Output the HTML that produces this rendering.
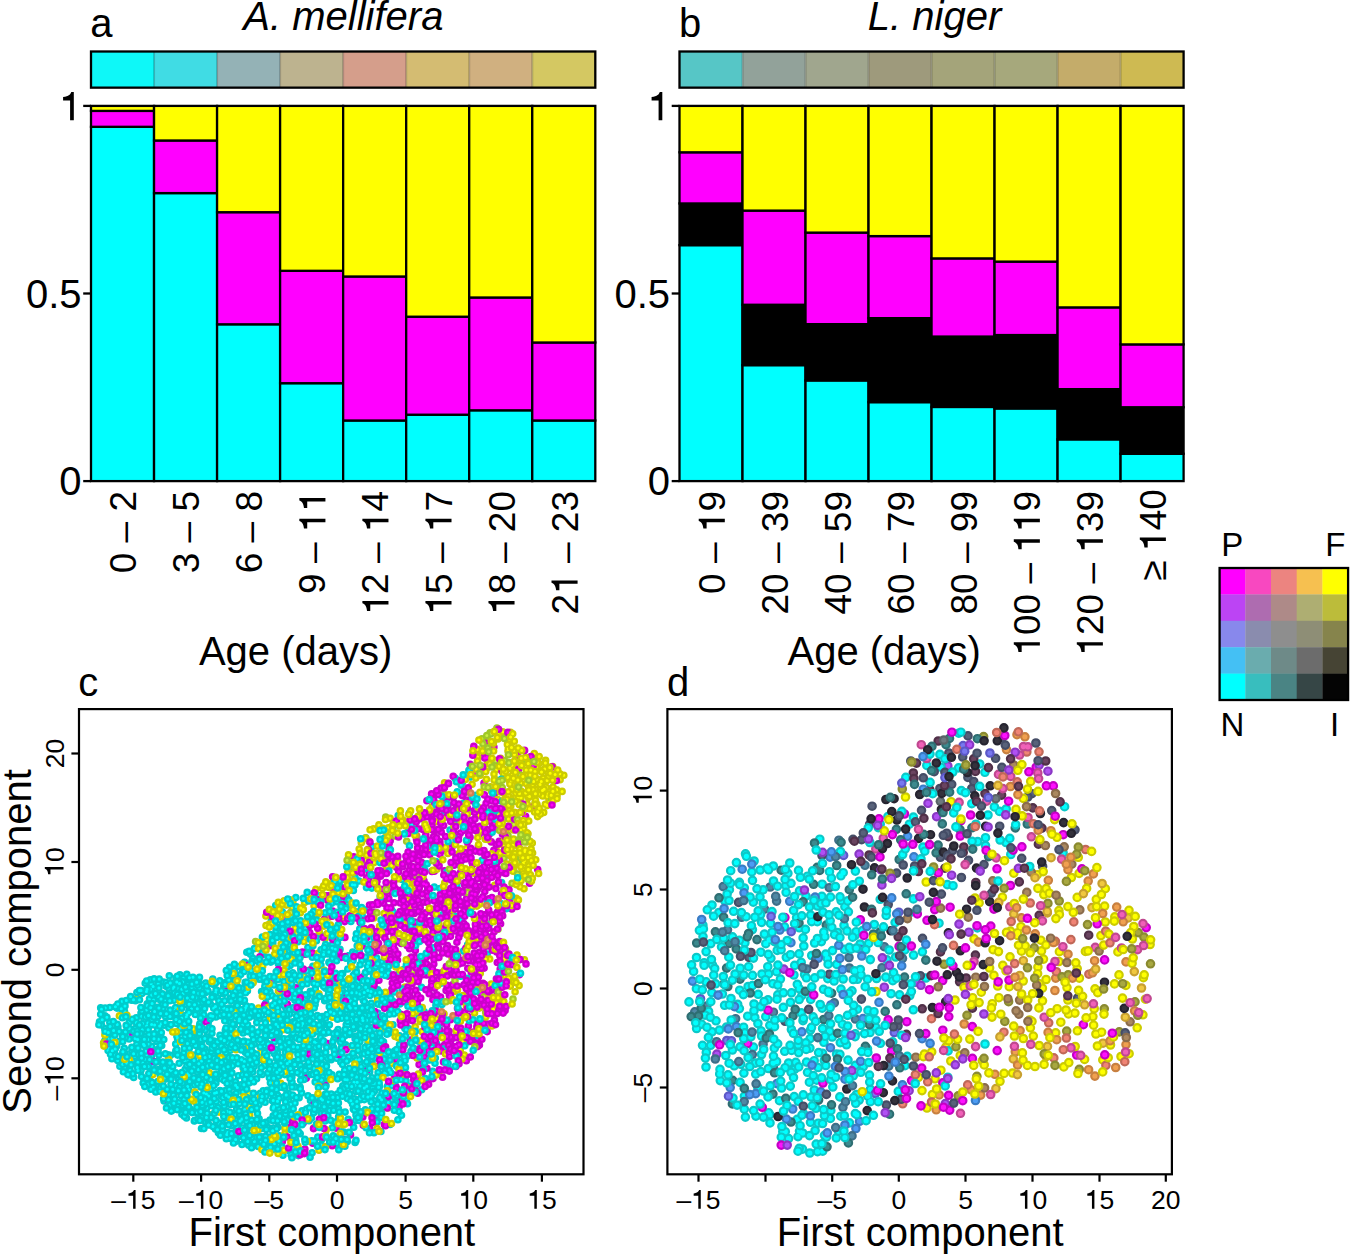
<!DOCTYPE html>
<html><head><meta charset="utf-8"><style>
html,body{margin:0;padding:0;background:#fff;}
svg{display:block;}
text{font-family:'Liberation Sans',sans-serif;fill:#000;}
</style></head><body>
<svg width="1350" height="1256" viewBox="0 0 1350 1256">
<rect x="91.00" y="51.5" width="63.04" height="36.15" fill="#0ef8f8"/>
<rect x="154.04" y="51.5" width="63.04" height="36.15" fill="#40dce4"/>
<rect x="217.07" y="51.5" width="63.04" height="36.15" fill="#94b2b6"/>
<rect x="280.11" y="51.5" width="63.04" height="36.15" fill="#bdb38f"/>
<rect x="343.15" y="51.5" width="63.04" height="36.15" fill="#d59e8b"/>
<rect x="406.19" y="51.5" width="63.04" height="36.15" fill="#d4bc72"/>
<rect x="469.22" y="51.5" width="63.04" height="36.15" fill="#d0b080"/>
<rect x="532.26" y="51.5" width="63.04" height="36.15" fill="#d4c862"/>
<line x1="154.04" y1="51.5" x2="154.04" y2="87.65" stroke="rgba(0,0,0,0.2)" stroke-width="2"/>
<line x1="217.07" y1="51.5" x2="217.07" y2="87.65" stroke="rgba(0,0,0,0.2)" stroke-width="2"/>
<line x1="280.11" y1="51.5" x2="280.11" y2="87.65" stroke="rgba(0,0,0,0.2)" stroke-width="2"/>
<line x1="343.15" y1="51.5" x2="343.15" y2="87.65" stroke="rgba(0,0,0,0.2)" stroke-width="2"/>
<line x1="406.19" y1="51.5" x2="406.19" y2="87.65" stroke="rgba(0,0,0,0.2)" stroke-width="2"/>
<line x1="469.22" y1="51.5" x2="469.22" y2="87.65" stroke="rgba(0,0,0,0.2)" stroke-width="2"/>
<line x1="532.26" y1="51.5" x2="532.26" y2="87.65" stroke="rgba(0,0,0,0.2)" stroke-width="2"/>
<rect x="91.0" y="51.5" width="504.30" height="36.15" fill="none" stroke="#000" stroke-width="2.3"/>
<rect x="91.00" y="126.80" width="63.04" height="354.30" fill="#00ffff" stroke="#000" stroke-width="2.3"/>
<rect x="91.00" y="110.90" width="63.04" height="15.90" fill="#ff00ff" stroke="#000" stroke-width="2.3"/>
<rect x="91.00" y="105.90" width="63.04" height="5.00" fill="#ffff00" stroke="#000" stroke-width="2.3"/>
<rect x="154.04" y="193.10" width="63.04" height="288.00" fill="#00ffff" stroke="#000" stroke-width="2.3"/>
<rect x="154.04" y="140.50" width="63.04" height="52.60" fill="#ff00ff" stroke="#000" stroke-width="2.3"/>
<rect x="154.04" y="105.90" width="63.04" height="34.60" fill="#ffff00" stroke="#000" stroke-width="2.3"/>
<rect x="217.07" y="324.30" width="63.04" height="156.80" fill="#00ffff" stroke="#000" stroke-width="2.3"/>
<rect x="217.07" y="212.20" width="63.04" height="112.10" fill="#ff00ff" stroke="#000" stroke-width="2.3"/>
<rect x="217.07" y="105.90" width="63.04" height="106.30" fill="#ffff00" stroke="#000" stroke-width="2.3"/>
<rect x="280.11" y="383.20" width="63.04" height="97.90" fill="#00ffff" stroke="#000" stroke-width="2.3"/>
<rect x="280.11" y="270.80" width="63.04" height="112.40" fill="#ff00ff" stroke="#000" stroke-width="2.3"/>
<rect x="280.11" y="105.90" width="63.04" height="164.90" fill="#ffff00" stroke="#000" stroke-width="2.3"/>
<rect x="343.15" y="420.50" width="63.04" height="60.60" fill="#00ffff" stroke="#000" stroke-width="2.3"/>
<rect x="343.15" y="276.50" width="63.04" height="144.00" fill="#ff00ff" stroke="#000" stroke-width="2.3"/>
<rect x="343.15" y="105.90" width="63.04" height="170.60" fill="#ffff00" stroke="#000" stroke-width="2.3"/>
<rect x="406.19" y="414.70" width="63.04" height="66.40" fill="#00ffff" stroke="#000" stroke-width="2.3"/>
<rect x="406.19" y="316.70" width="63.04" height="98.00" fill="#ff00ff" stroke="#000" stroke-width="2.3"/>
<rect x="406.19" y="105.90" width="63.04" height="210.80" fill="#ffff00" stroke="#000" stroke-width="2.3"/>
<rect x="469.22" y="410.30" width="63.04" height="70.80" fill="#00ffff" stroke="#000" stroke-width="2.3"/>
<rect x="469.22" y="297.50" width="63.04" height="112.80" fill="#ff00ff" stroke="#000" stroke-width="2.3"/>
<rect x="469.22" y="105.90" width="63.04" height="191.60" fill="#ffff00" stroke="#000" stroke-width="2.3"/>
<rect x="532.26" y="420.50" width="63.04" height="60.60" fill="#00ffff" stroke="#000" stroke-width="2.3"/>
<rect x="532.26" y="342.50" width="63.04" height="78.00" fill="#ff00ff" stroke="#000" stroke-width="2.3"/>
<rect x="532.26" y="105.90" width="63.04" height="236.60" fill="#ffff00" stroke="#000" stroke-width="2.3"/>
<line x1="83.20" y1="105.90" x2="91.00" y2="105.90" stroke="#000" stroke-width="2.3"/>
<line x1="83.20" y1="293.50" x2="91.00" y2="293.50" stroke="#000" stroke-width="2.3"/>
<line x1="83.20" y1="481.10" x2="91.00" y2="481.10" stroke="#000" stroke-width="2.3"/>
<text id="o0" x="81.50" y="120.20" text-anchor="end" font-size="40"> </text>
<text x="81.50" y="307.80" text-anchor="end" font-size="40">0.5</text>
<text x="81.50" y="495.40" text-anchor="end" font-size="40">0</text>
<text transform="translate(136.32,491) rotate(-90)" text-anchor="end" font-size="37">0 – 2</text>
<text transform="translate(199.36,491) rotate(-90)" text-anchor="end" font-size="37">3 – 5</text>
<text transform="translate(262.39,491) rotate(-90)" text-anchor="end" font-size="37">6 – 8</text>
<text id="o1" transform="translate(325.43,491) rotate(-90)" text-anchor="end" font-size="37">9 –   </text>
<text id="o2" transform="translate(388.47,491) rotate(-90)" text-anchor="end" font-size="37"> 2 –  4</text>
<text id="o3" transform="translate(451.51,491) rotate(-90)" text-anchor="end" font-size="37"> 5 –  7</text>
<text id="o4" transform="translate(514.54,491) rotate(-90)" text-anchor="end" font-size="37"> 8 – 20</text>
<text id="o5" transform="translate(577.58,491) rotate(-90)" text-anchor="end" font-size="37">2  – 23</text>
<rect x="679.50" y="51.5" width="63.01" height="36.15" fill="#56c6c6"/>
<rect x="742.51" y="51.5" width="63.01" height="36.15" fill="#92a29a"/>
<rect x="805.52" y="51.5" width="63.01" height="36.15" fill="#a0a68e"/>
<rect x="868.54" y="51.5" width="63.01" height="36.15" fill="#9e9a7c"/>
<rect x="931.55" y="51.5" width="63.01" height="36.15" fill="#a4a47a"/>
<rect x="994.56" y="51.5" width="63.01" height="36.15" fill="#a6a87c"/>
<rect x="1057.57" y="51.5" width="63.01" height="36.15" fill="#c4ac6a"/>
<rect x="1120.59" y="51.5" width="63.01" height="36.15" fill="#ceba52"/>
<line x1="742.51" y1="51.5" x2="742.51" y2="87.65" stroke="rgba(0,0,0,0.2)" stroke-width="2"/>
<line x1="805.52" y1="51.5" x2="805.52" y2="87.65" stroke="rgba(0,0,0,0.2)" stroke-width="2"/>
<line x1="868.54" y1="51.5" x2="868.54" y2="87.65" stroke="rgba(0,0,0,0.2)" stroke-width="2"/>
<line x1="931.55" y1="51.5" x2="931.55" y2="87.65" stroke="rgba(0,0,0,0.2)" stroke-width="2"/>
<line x1="994.56" y1="51.5" x2="994.56" y2="87.65" stroke="rgba(0,0,0,0.2)" stroke-width="2"/>
<line x1="1057.57" y1="51.5" x2="1057.57" y2="87.65" stroke="rgba(0,0,0,0.2)" stroke-width="2"/>
<line x1="1120.59" y1="51.5" x2="1120.59" y2="87.65" stroke="rgba(0,0,0,0.2)" stroke-width="2"/>
<rect x="679.5" y="51.5" width="504.10" height="36.15" fill="none" stroke="#000" stroke-width="2.3"/>
<rect x="679.50" y="245.15" width="63.01" height="235.95" fill="#00ffff" stroke="#000" stroke-width="2.3"/>
<rect x="679.50" y="203.45" width="63.01" height="41.70" fill="#000000" stroke="#000" stroke-width="2.3"/>
<rect x="679.50" y="152.30" width="63.01" height="51.15" fill="#ff00ff" stroke="#000" stroke-width="2.3"/>
<rect x="679.50" y="105.90" width="63.01" height="46.40" fill="#ffff00" stroke="#000" stroke-width="2.3"/>
<rect x="742.51" y="365.15" width="63.01" height="115.95" fill="#00ffff" stroke="#000" stroke-width="2.3"/>
<rect x="742.51" y="304.75" width="63.01" height="60.40" fill="#000000" stroke="#000" stroke-width="2.3"/>
<rect x="742.51" y="210.60" width="63.01" height="94.15" fill="#ff00ff" stroke="#000" stroke-width="2.3"/>
<rect x="742.51" y="105.90" width="63.01" height="104.70" fill="#ffff00" stroke="#000" stroke-width="2.3"/>
<rect x="805.52" y="380.45" width="63.01" height="100.65" fill="#00ffff" stroke="#000" stroke-width="2.3"/>
<rect x="805.52" y="324.15" width="63.01" height="56.30" fill="#000000" stroke="#000" stroke-width="2.3"/>
<rect x="805.52" y="232.60" width="63.01" height="91.55" fill="#ff00ff" stroke="#000" stroke-width="2.3"/>
<rect x="805.52" y="105.90" width="63.01" height="126.70" fill="#ffff00" stroke="#000" stroke-width="2.3"/>
<rect x="868.54" y="402.15" width="63.01" height="78.95" fill="#00ffff" stroke="#000" stroke-width="2.3"/>
<rect x="868.54" y="318.15" width="63.01" height="84.00" fill="#000000" stroke="#000" stroke-width="2.3"/>
<rect x="868.54" y="236.10" width="63.01" height="82.05" fill="#ff00ff" stroke="#000" stroke-width="2.3"/>
<rect x="868.54" y="105.90" width="63.01" height="130.20" fill="#ffff00" stroke="#000" stroke-width="2.3"/>
<rect x="931.55" y="406.95" width="63.01" height="74.15" fill="#00ffff" stroke="#000" stroke-width="2.3"/>
<rect x="931.55" y="336.55" width="63.01" height="70.40" fill="#000000" stroke="#000" stroke-width="2.3"/>
<rect x="931.55" y="258.40" width="63.01" height="78.15" fill="#ff00ff" stroke="#000" stroke-width="2.3"/>
<rect x="931.55" y="105.90" width="63.01" height="152.50" fill="#ffff00" stroke="#000" stroke-width="2.3"/>
<rect x="994.56" y="408.45" width="63.01" height="72.65" fill="#00ffff" stroke="#000" stroke-width="2.3"/>
<rect x="994.56" y="335.05" width="63.01" height="73.40" fill="#000000" stroke="#000" stroke-width="2.3"/>
<rect x="994.56" y="261.60" width="63.01" height="73.45" fill="#ff00ff" stroke="#000" stroke-width="2.3"/>
<rect x="994.56" y="105.90" width="63.01" height="155.70" fill="#ffff00" stroke="#000" stroke-width="2.3"/>
<rect x="1057.57" y="439.35" width="63.01" height="41.75" fill="#00ffff" stroke="#000" stroke-width="2.3"/>
<rect x="1057.57" y="389.15" width="63.01" height="50.20" fill="#000000" stroke="#000" stroke-width="2.3"/>
<rect x="1057.57" y="307.40" width="63.01" height="81.75" fill="#ff00ff" stroke="#000" stroke-width="2.3"/>
<rect x="1057.57" y="105.90" width="63.01" height="201.50" fill="#ffff00" stroke="#000" stroke-width="2.3"/>
<rect x="1120.59" y="453.75" width="63.01" height="27.35" fill="#00ffff" stroke="#000" stroke-width="2.3"/>
<rect x="1120.59" y="407.25" width="63.01" height="46.50" fill="#000000" stroke="#000" stroke-width="2.3"/>
<rect x="1120.59" y="344.40" width="63.01" height="62.85" fill="#ff00ff" stroke="#000" stroke-width="2.3"/>
<rect x="1120.59" y="105.90" width="63.01" height="238.50" fill="#ffff00" stroke="#000" stroke-width="2.3"/>
<line x1="671.70" y1="105.90" x2="679.50" y2="105.90" stroke="#000" stroke-width="2.3"/>
<line x1="671.70" y1="293.50" x2="679.50" y2="293.50" stroke="#000" stroke-width="2.3"/>
<line x1="671.70" y1="481.10" x2="679.50" y2="481.10" stroke="#000" stroke-width="2.3"/>
<text id="o6" x="670.00" y="120.20" text-anchor="end" font-size="40"> </text>
<text x="670.00" y="307.80" text-anchor="end" font-size="40">0.5</text>
<text x="670.00" y="495.40" text-anchor="end" font-size="40">0</text>
<text id="o7" transform="translate(724.81,491) rotate(-90)" text-anchor="end" font-size="37">0 –  9</text>
<text transform="translate(787.82,491) rotate(-90)" text-anchor="end" font-size="37">20 – 39</text>
<text transform="translate(850.83,491) rotate(-90)" text-anchor="end" font-size="37">40 – 59</text>
<text transform="translate(913.84,491) rotate(-90)" text-anchor="end" font-size="37">60 – 79</text>
<text transform="translate(976.86,491) rotate(-90)" text-anchor="end" font-size="37">80 – 99</text>
<text id="o8" transform="translate(1039.87,491) rotate(-90)" text-anchor="end" font-size="37"> 00 –   9</text>
<text id="o9" transform="translate(1102.88,491) rotate(-90)" text-anchor="end" font-size="37"> 20 –  39</text>
<text id="o10" transform="translate(1165.89,489.2) rotate(-90)" text-anchor="end" font-size="37">≥  40</text>
<text x="343.4" y="29.5" text-anchor="middle" font-size="40" font-style="italic">A. mellifera</text>
<text x="934.5" y="29.5" text-anchor="middle" font-size="40" font-style="italic">L. niger</text>
<text x="90.3" y="37.4" font-size="40">a</text>
<text x="678.9" y="37.3" font-size="40">b</text>
<text x="295.6" y="665" text-anchor="middle" font-size="40">Age (days)</text>
<text x="884.2" y="665" text-anchor="middle" font-size="40">Age (days)</text>
<text x="78.3" y="695.5" font-size="40">c</text>
<text x="666.9" y="695.5" font-size="40">d</text>
<rect x="1219.60" y="568.00" width="26.00" height="26.70" fill="#ff00ff"/>
<rect x="1245.30" y="568.00" width="26.00" height="26.70" fill="#f848c0"/>
<rect x="1271.00" y="568.00" width="26.00" height="26.70" fill="#ec8480"/>
<rect x="1296.70" y="568.00" width="26.00" height="26.70" fill="#f6c050"/>
<rect x="1322.40" y="568.00" width="26.00" height="26.70" fill="#ffff00"/>
<rect x="1219.60" y="594.40" width="26.00" height="26.70" fill="#bc44f4"/>
<rect x="1245.30" y="594.40" width="26.00" height="26.70" fill="#ae6cb0"/>
<rect x="1271.00" y="594.40" width="26.00" height="26.70" fill="#ae8a88"/>
<rect x="1296.70" y="594.40" width="26.00" height="26.70" fill="#aeae72"/>
<rect x="1322.40" y="594.40" width="26.00" height="26.70" fill="#bcbc3a"/>
<rect x="1219.60" y="620.80" width="26.00" height="26.70" fill="#8888ec"/>
<rect x="1245.30" y="620.80" width="26.00" height="26.70" fill="#8a8cae"/>
<rect x="1271.00" y="620.80" width="26.00" height="26.70" fill="#8e8e8e"/>
<rect x="1296.70" y="620.80" width="26.00" height="26.70" fill="#8e8e76"/>
<rect x="1322.40" y="620.80" width="26.00" height="26.70" fill="#86844c"/>
<rect x="1219.60" y="647.20" width="26.00" height="26.70" fill="#44c0f4"/>
<rect x="1245.30" y="647.20" width="26.00" height="26.70" fill="#6aacae"/>
<rect x="1271.00" y="647.20" width="26.00" height="26.70" fill="#6e8a88"/>
<rect x="1296.70" y="647.20" width="26.00" height="26.70" fill="#6c6c6c"/>
<rect x="1322.40" y="647.20" width="26.00" height="26.70" fill="#464434"/>
<rect x="1219.60" y="673.60" width="26.00" height="26.70" fill="#00ffff"/>
<rect x="1245.30" y="673.60" width="26.00" height="26.70" fill="#38bebe"/>
<rect x="1271.00" y="673.60" width="26.00" height="26.70" fill="#4a8484"/>
<rect x="1296.70" y="673.60" width="26.00" height="26.70" fill="#364646"/>
<rect x="1322.40" y="673.60" width="26.00" height="26.70" fill="#040404"/>
<rect x="1219.6" y="568.0" width="128.50" height="132.00" fill="none" stroke="#000" stroke-width="2.3"/>
<text x="1221.2" y="556.1" font-size="33">P</text>
<text x="1325.2" y="556.1" font-size="33">F</text>
<text x="1220.4" y="735.7" font-size="33">N</text>
<text x="1330.1" y="735.7" font-size="33">I</text>
<defs><path id="c0c" d="M266.7 1043.6h0M402.3 1049.6h0M201.4 996.8h0M249.1 1010.9h0M285.5 1129.7h0M288.8 944.5h0M291.4 941.6h0M367.6 958.7h0M310.5 1100.5h0M371.3 1003.2h0M274.4 1143.8h0M236.0 1102.8h0M377.7 989.9h0M362.5 1081.6h0M354.8 999.1h0M362.1 915.4h0M358.7 1008.2h0M337.3 1094.0h0M222.4 1043.4h0M325.7 988.2h0M259.3 979.3h0M262.9 954.4h0M273.3 1026.7h0M316.1 968.9h0M129.9 1075.0h0M319.2 895.7h0M417.6 1076.9h0M269.4 1077.8h0M338.4 1146.7h0M130.1 1070.4h0M435.9 1005.3h0M352.7 952.1h0M201.5 1128.5h0M312.1 1152.7h0M238.3 1075.7h0M274.5 1117.5h0M479.4 1026.7h0M315.9 1103.4h0M442.5 914.7h0M310.5 1039.7h0M365.3 1109.7h0M122.5 1054.5h0M185.9 1039.9h0M463.5 951.1h0M369.7 1063.3h0M487.2 954.1h0M307.7 1019.2h0M384.5 838.1h0M283.9 931.0h0M372.0 1077.7h0M261.2 1141.9h0M371.8 888.1h0M247.4 990.8h0M179.9 974.8h0M360.7 941.6h0M355.7 1088.1h0M383.5 1041.8h0M229.9 1138.3h0M194.1 1036.8h0M401.2 1079.4h0M356.4 933.7h0M255.8 1125.2h0M188.8 1089.8h0M164.1 1100.9h0M153.3 1087.0h0M117.9 1026.6h0M136.4 1054.3h0M287.0 939.3h0M363.3 1000.4h0M173.4 1109.6h0M119.4 1041.2h0M290.5 997.1h0M414.5 1016.3h0M404.0 969.2h0M355.8 1120.6h0M166.1 986.3h0M310.2 1009.9h0M258.9 1018.8h0M187.7 1086.6h0M430.1 1038.6h0M206.6 1108.0h0M408.3 828.0h0M337.9 1053.3h0M240.5 1135.9h0M393.1 912.1h0M305.3 1077.3h0M123.5 1013.9h0M291.3 1037.0h0M434.4 1041.4h0M282.5 1114.5h0M136.7 1060.3h0M287.8 925.1h0M257.5 1113.4h0M211.4 1052.7h0M141.9 1057.9h0M223.7 985.9h0M298.1 1019.8h0M216.7 1092.6h0M104.9 1015.9h0M170.5 1055.3h0M386.3 1067.9h0M244.7 1109.5h0M230.3 1058.9h0M205.1 1064.2h0M264.4 1045.6h0M450.1 830.1h0M357.9 981.2h0M310.2 1052.1h0M358.8 987.3h0M356.4 911.9h0M194.3 1121.0h0M285.9 1008.3h0M458.2 1054.8h0M317.8 1137.0h0M145.4 1059.6h0M212.9 994.7h0M190.3 1109.3h0M227.0 989.9h0M172.8 1089.3h0M489.4 924.1h0M131.8 1051.6h0M346.7 993.2h0M377.8 1013.0h0M127.7 1031.1h0M180.0 1018.4h0M236.6 1137.4h0M342.5 1013.8h0M124.3 1037.0h0M353.1 1020.8h0M416.1 941.5h0M404.8 1028.2h0M460.6 866.1h0M162.6 1066.2h0M153.1 986.6h0M234.2 970.6h0M456.9 1034.1h0M151.6 1046.2h0M337.4 986.9h0M313.4 1017.3h0M177.6 1055.1h0M136.3 1017.7h0M267.4 1090.2h0M434.3 887.1h0M205.6 992.6h0M218.1 1051.6h0M305.6 928.5h0M350.5 1018.3h0M245.2 982.4h0M287.4 1119.9h0M261.7 1014.7h0M254.4 948.6h0M370.6 916.0h0M334.4 955.8h0M214.5 1093.3h0M317.3 1041.4h0M367.8 1044.0h0M100.7 1007.8h0M300.4 1065.2h0M141.8 1042.4h0M320.9 965.1h0M448.1 1063.5h0M440.0 888.5h0M267.6 1046.8h0M437.4 852.5h0M232.6 990.0h0M302.0 1115.9h0M353.3 1028.9h0M398.7 973.9h0M211.4 1042.8h0M424.2 1011.8h0M300.2 1066.5h0M462.3 782.8h0M226.3 1138.7h0M149.1 1082.7h0M315.3 988.9h0M336.4 1104.1h0M399.8 1004.0h0M250.5 954.3h0M208.4 1021.7h0M402.1 879.5h0M317.7 1031.6h0M291.3 1083.4h0M343.8 1132.0h0M387.0 1073.0h0M205.7 1122.4h0M432.7 1071.4h0M293.9 1086.3h0M193.4 1055.0h0M188.0 983.0h0M235.5 1038.2h0M372.3 846.6h0M236.1 1093.3h0M360.6 997.0h0M284.8 1074.6h0M334.9 1122.0h0M196.4 1102.7h0M406.4 964.7h0M487.3 901.9h0M391.8 910.3h0M295.6 1139.5h0M242.7 1001.6h0M347.1 1071.7h0M236.0 1114.5h0M278.4 963.8h0M312.4 957.2h0M363.4 995.9h0M250.3 976.0h0M270.8 962.1h0M351.5 1058.7h0M338.6 1116.8h0M409.4 813.0h0M312.9 966.4h0M176.5 1023.5h0M443.8 807.0h0M180.3 1032.2h0M246.8 952.3h0M312.5 1034.2h0M135.5 1000.7h0M346.3 895.4h0M183.4 1111.5h0M175.8 1050.9h0M151.1 983.7h0M361.9 1053.8h0M199.8 1023.8h0M242.9 1024.8h0M409.7 1086.2h0M461.2 785.1h0M325.0 1082.2h0M394.3 1097.0h0M206.1 1020.3h0M354.1 865.6h0M264.5 1019.4h0M201.6 1002.1h0M240.6 974.6h0M151.9 1015.7h0M219.9 1090.5h0M135.2 1020.4h0M249.5 1017.2h0M270.1 1128.3h0M183.9 1052.5h0M245.5 992.8h0M350.3 988.8h0M369.1 1088.3h0M324.9 1094.6h0M134.6 1056.5h0M318.7 962.2h0M158.9 1088.2h0M289.6 1014.1h0M321.2 1113.4h0M301.7 1018.8h0M147.0 1054.7h0M150.9 1089.2h0M300.7 968.7h0M366.5 887.6h0M150.4 989.3h0M364.3 909.8h0M321.3 954.1h0M187.0 1082.6h0M142.6 1062.7h0M282.3 911.9h0M236.8 1120.2h0M149.5 1078.1h0M243.9 1014.9h0M168.3 994.2h0M339.8 886.4h0M358.9 881.0h0M204.9 1049.0h0M384.6 1073.0h0M460.8 920.6h0M406.3 1100.3h0M278.5 1076.3h0M349.0 955.6h0M271.4 920.6h0M239.7 1102.3h0M111.9 1058.8h0M431.7 1047.0h0M485.9 876.4h0M467.6 944.9h0M225.8 982.4h0"/><path id="c0y" d="M378.9 824.9h0M286.6 1024.1h0M508.9 855.1h0M428.9 851.8h0M331.7 883.2h0M318.9 993.9h0M506.6 777.8h0M512.4 775.3h0M391.3 1063.4h0M548.5 802.7h0M194.2 1030.8h0M476.2 753.9h0M258.5 1008.0h0M405.0 987.0h0M473.5 873.1h0M509.2 810.7h0M540.6 770.4h0M508.4 818.9h0M470.8 766.9h0M534.3 753.6h0M337.7 1002.8h0M510.9 798.4h0M325.1 938.5h0M545.7 786.9h0M513.0 845.3h0M512.0 765.3h0M455.9 1030.7h0M386.5 869.5h0M243.6 1072.6h0M548.0 772.6h0M518.4 846.4h0M523.7 828.3h0M313.6 1028.3h0M280.9 996.2h0M535.7 859.8h0M546.6 787.5h0M510.8 806.1h0M506.0 831.8h0M329.6 887.6h0M292.9 901.4h0M455.2 991.2h0M341.3 985.2h0M292.2 907.4h0M299.7 921.5h0M542.1 792.6h0M491.3 984.1h0M361.3 842.8h0M474.5 1013.0h0M420.2 1021.5h0M534.6 771.2h0M477.2 938.2h0M454.4 899.9h0M258.6 948.6h0M543.1 778.3h0M497.7 814.5h0M532.6 785.7h0M513.8 870.5h0M248.5 1046.6h0M373.6 828.9h0M281.2 944.0h0M468.5 1031.0h0M329.2 917.1h0M302.1 954.7h0M328.0 1046.2h0M537.7 781.2h0M478.9 815.3h0M283.0 1029.7h0M526.1 783.6h0M508.7 762.6h0M519.1 985.6h0M400.1 970.3h0M452.0 958.1h0M496.6 769.4h0M520.5 829.8h0M494.7 885.2h0M501.2 944.4h0M444.0 1013.7h0M513.5 839.1h0M263.8 941.4h0M468.3 980.3h0M466.2 848.8h0M456.9 953.6h0M226.6 1057.7h0M542.7 796.0h0M365.0 1113.3h0M435.7 821.7h0M509.8 768.3h0M503.3 956.9h0M480.0 769.6h0"/><path id="c0yg" d="M513.0 999.0h0M443.0 905.9h0M513.8 824.4h0M504.0 858.2h0M487.1 737.8h0M406.7 841.3h0M526.0 821.2h0M505.5 949.0h0M385.7 817.0h0M495.0 779.4h0"/><path id="c0m" d="M496.5 828.6h0M493.3 796.8h0M493.9 747.1h0M489.1 834.4h0M477.8 923.6h0M283.8 917.9h0M483.5 873.5h0M494.1 931.7h0M474.9 932.2h0M470.5 889.3h0M386.3 913.0h0M503.7 872.8h0M494.6 863.6h0M484.6 742.7h0M439.1 900.6h0M525.6 816.3h0M451.6 974.4h0M487.9 946.0h0M479.8 826.4h0M479.5 920.1h0M484.1 968.1h0M386.7 886.9h0M384.0 970.4h0M426.8 816.8h0M396.7 867.5h0M461.2 851.1h0M410.2 1040.0h0M487.3 814.0h0M484.8 861.8h0M426.9 1068.3h0M420.2 907.5h0M496.7 952.0h0M394.0 902.8h0M324.3 919.4h0M416.7 854.6h0M403.0 973.6h0M423.8 902.1h0M312.4 952.8h0M494.1 1005.1h0M426.5 892.4h0M400.3 902.9h0M332.6 876.8h0M312.8 1143.3h0M406.8 929.6h0M479.2 952.4h0M395.8 1086.3h0M483.8 930.3h0M473.5 998.9h0M366.7 877.8h0M350.5 1134.9h0M446.1 990.4h0M480.4 944.0h0M492.8 942.0h0M273.5 980.5h0M374.7 1116.5h0M502.5 834.3h0M224.0 989.9h0M455.0 890.3h0M453.3 959.1h0M388.1 976.1h0M376.8 886.0h0M457.2 861.6h0M491.1 808.9h0M495.0 920.8h0M269.7 945.8h0M467.8 911.7h0M368.8 880.2h0M436.5 1024.3h0M429.9 1029.9h0M436.6 1036.2h0M432.9 814.0h0M443.5 1061.9h0M452.5 984.9h0M449.3 914.8h0M389.2 843.2h0M464.8 985.1h0M396.5 1059.5h0M472.6 1006.2h0M434.0 900.7h0M310.1 979.0h0M306.2 1078.3h0M446.1 912.9h0M434.3 871.3h0M470.0 823.2h0M511.8 908.9h0M499.3 860.2h0M491.3 841.9h0M484.0 850.5h0M373.1 987.4h0M432.9 932.3h0M463.9 923.6h0M448.6 922.5h0M475.2 956.6h0M464.4 1012.3h0M433.7 836.4h0M442.6 953.0h0M502.0 771.2h0M314.4 1102.2h0M474.6 985.5h0M463.4 932.4h0M328.2 895.9h0M500.6 923.7h0M388.8 898.5h0M496.4 978.7h0M511.6 964.8h0M439.9 854.2h0M410.5 991.1h0M393.4 891.8h0M424.0 880.9h0M315.2 915.8h0M386.0 955.4h0M419.1 1064.6h0M327.9 900.5h0M380.5 1017.2h0M339.9 1039.8h0M310.0 970.0h0M496.9 995.3h0M390.2 840.7h0M460.5 1052.8h0M336.1 1128.1h0M443.6 825.5h0M421.6 1015.8h0M414.9 875.8h0M397.5 960.0h0M479.1 886.7h0M244.6 1094.7h0M467.6 991.3h0M431.9 871.4h0M484.4 938.0h0M424.0 933.9h0M469.7 906.5h0M401.4 1100.1h0M290.7 1127.0h0M403.7 1017.7h0M384.4 1124.4h0M458.0 881.6h0M424.2 1059.3h0M132.3 1036.6h0M427.7 887.7h0M408.4 833.5h0"/><path id="c0o" d="M464.1 815.4h0"/><path id="c1c" d="M200.2 1072.0h0M356.8 1064.9h0M340.0 949.4h0M372.7 1087.4h0M170.3 1069.9h0M372.4 1027.2h0M169.3 975.7h0M230.6 1032.0h0M104.8 1028.6h0M347.4 1077.6h0M155.2 1051.3h0M275.3 1049.3h0M293.0 1061.5h0M186.5 1118.0h0M117.2 1024.4h0M184.8 1060.4h0M236.3 1141.2h0M253.7 1056.1h0M169.8 1097.2h0M167.8 1054.7h0M288.7 1100.8h0M379.5 1037.2h0M391.1 1032.3h0M231.0 1124.0h0M320.1 982.2h0M201.6 1060.9h0M421.6 1089.8h0M285.1 1045.1h0M467.4 978.3h0M183.8 978.0h0M187.8 1061.7h0M225.3 1030.2h0M314.4 1141.0h0M186.6 1093.8h0M340.7 1042.3h0M125.4 1031.9h0M365.0 1047.6h0M338.5 1108.8h0M404.3 833.9h0M347.4 1098.4h0M309.5 1066.8h0M268.8 1050.8h0M294.9 1000.2h0M304.1 983.1h0M277.8 954.4h0M313.6 1112.8h0M377.1 1047.2h0M212.0 1048.0h0M187.5 992.1h0M342.8 1085.9h0M355.9 976.2h0M421.5 987.3h0M368.6 971.2h0M375.7 966.8h0M377.2 996.2h0M395.7 822.9h0M371.1 1007.1h0M237.4 1004.0h0M216.1 989.9h0M274.6 1149.4h0M142.2 1029.7h0M356.2 992.7h0M243.1 1033.0h0M164.1 1025.3h0M230.3 998.4h0M337.6 1097.6h0M449.4 1069.5h0M402.1 989.0h0M277.9 979.5h0M455.3 778.4h0M302.2 1110.9h0M256.4 1017.0h0M379.2 1002.8h0M218.4 1132.7h0M417.8 1049.3h0M157.9 1049.4h0M411.0 1051.2h0M316.4 1043.6h0M404.9 1095.4h0M202.0 1012.8h0M372.0 1108.8h0M368.5 1015.4h0M215.4 1128.9h0M426.8 840.5h0M320.1 934.0h0M341.5 1008.8h0M290.0 1052.8h0M227.4 1117.8h0M156.9 1007.3h0M359.4 1035.1h0M345.1 1112.1h0M327.9 1058.6h0M265.8 1003.0h0M316.8 1096.9h0M228.0 1016.8h0M234.6 1032.8h0M197.2 1095.9h0M345.6 1044.8h0M112.1 1038.5h0M299.1 1097.7h0M292.2 1044.3h0M197.3 1109.9h0M175.7 1044.0h0M124.5 1011.4h0M274.1 935.6h0M347.6 1088.8h0M328.3 1101.7h0M269.9 991.8h0M314.5 1042.0h0M306.4 1057.0h0M355.8 1026.1h0M221.1 1096.1h0M344.3 1045.9h0M408.9 1028.8h0M252.7 1144.9h0M342.3 990.3h0M349.4 1068.3h0M181.8 989.2h0M430.0 845.6h0M122.0 1001.4h0M300.9 1034.6h0M197.8 993.5h0M287.9 920.5h0M361.3 1078.1h0M274.8 1094.6h0M507.9 959.4h0M195.9 987.2h0M405.5 1067.4h0M336.8 1143.3h0M206.4 1093.9h0M157.2 1022.2h0M414.1 926.4h0M429.2 1023.4h0M354.2 1056.6h0M469.0 1034.1h0M273.2 1115.8h0M261.5 1059.8h0M284.0 1005.3h0M184.8 1057.5h0M228.4 1099.5h0M394.7 991.9h0M368.7 958.2h0M171.2 1077.0h0M293.1 1021.7h0M228.0 1042.8h0M314.8 918.9h0M284.7 932.8h0M176.9 1036.3h0M325.0 1120.9h0M197.9 1003.8h0M300.6 986.5h0M399.9 1053.8h0M290.1 965.5h0M264.8 986.3h0M353.1 990.4h0M178.9 1087.2h0M278.8 1108.1h0M364.0 976.1h0M284.8 1088.2h0M183.2 993.4h0M257.0 1036.9h0M210.3 1003.9h0M265.9 1096.0h0M300.1 1057.7h0M395.6 1102.2h0M152.2 996.4h0M108.0 1039.0h0M361.1 927.8h0M171.6 1070.9h0M444.5 1023.8h0M203.8 1093.0h0M365.9 944.9h0M272.2 995.7h0M241.0 1084.7h0M174.7 992.4h0M371.1 944.3h0M266.7 1028.2h0M208.6 1096.1h0M261.4 1136.9h0M220.8 1057.3h0M275.7 905.5h0M262.2 1074.5h0M333.6 930.3h0M262.5 952.8h0M177.5 1038.3h0M307.2 1065.6h0M455.3 824.1h0M202.2 1046.2h0M393.0 1024.7h0M365.7 837.7h0M191.9 987.4h0M283.8 1038.8h0M331.1 1059.8h0M235.7 1131.8h0M457.3 929.2h0M148.5 1084.0h0M277.7 1095.3h0M343.3 1094.7h0M252.7 1072.0h0M147.2 1003.9h0M334.3 986.0h0M238.2 1012.4h0M141.9 993.6h0M215.6 992.5h0M386.2 1053.9h0M345.0 1073.9h0M322.5 1064.4h0M360.3 1099.7h0M148.6 1062.8h0M129.4 1028.4h0M213.9 1056.1h0M129.1 1039.0h0M277.5 1052.9h0M376.6 958.1h0M221.6 1071.3h0M295.0 1086.9h0M411.8 824.8h0M314.2 1068.6h0M253.8 1053.2h0M327.3 999.8h0M360.0 994.1h0M399.5 1035.8h0M161.4 995.4h0M284.8 959.3h0M227.8 1132.6h0M300.5 994.2h0M222.6 1110.1h0M212.9 1081.8h0M325.7 1033.1h0M234.7 1061.6h0M355.2 973.0h0M361.9 960.3h0M350.6 1001.1h0M302.8 1005.0h0M398.1 1012.4h0M145.9 1036.3h0M316.9 1060.8h0M401.5 1115.3h0M388.3 1102.4h0M176.2 1085.5h0M336.6 901.8h0M431.7 954.0h0M328.9 962.3h0M338.1 1029.6h0M354.2 1098.9h0M146.5 1010.0h0M356.0 969.7h0M364.4 1001.6h0M304.6 1048.6h0M384.8 1053.9h0M173.5 998.6h0M348.4 997.7h0M198.8 1063.7h0M322.8 1108.7h0M316.4 940.7h0M195.6 1045.4h0M324.1 1056.1h0M136.8 1044.3h0M405.0 1072.6h0M285.9 977.8h0M129.4 1022.2h0M310.8 1074.5h0M188.8 1102.3h0M274.4 1041.7h0M226.8 1134.4h0M274.0 1072.8h0M215.1 1126.2h0M251.4 1032.7h0M353.7 1073.3h0M177.1 988.0h0M244.6 962.4h0M418.8 1041.3h0M343.2 1034.9h0M311.7 1140.9h0"/><path id="c1yg" d="M394.9 836.0h0M518.7 839.9h0M481.9 738.8h0M512.0 883.4h0M504.6 760.6h0M491.4 742.1h0M508.0 835.5h0M444.3 794.3h0M412.8 971.1h0"/><path id="c1m" d="M474.7 812.6h0M426.3 884.7h0M460.4 833.1h0M378.4 977.0h0M463.3 830.6h0M496.7 862.7h0M494.2 872.5h0M492.5 918.7h0M478.5 960.5h0M282.4 1141.6h0M403.7 893.4h0M466.5 898.5h0M439.9 841.5h0M440.6 997.0h0M423.6 883.7h0M470.6 1009.0h0M469.9 811.4h0M456.9 942.3h0M493.7 823.2h0M537.7 869.6h0M454.1 845.0h0M426.4 963.8h0M446.6 1024.7h0M405.9 1023.8h0M373.6 952.3h0M404.0 1001.8h0M437.3 905.2h0M449.3 969.6h0M424.0 917.5h0M442.2 1014.3h0M517.2 755.4h0M376.1 939.6h0M401.3 1014.5h0M450.5 936.2h0M486.0 993.7h0M362.0 945.9h0M430.5 910.9h0M409.1 870.5h0M485.3 933.7h0M415.7 894.9h0M433.8 1050.7h0M479.1 834.4h0M492.4 950.2h0M463.9 911.0h0M484.3 865.9h0M468.4 1026.0h0M484.3 867.2h0M509.3 900.9h0M363.3 1125.3h0M466.2 925.9h0M420.5 853.6h0M362.8 1117.1h0M414.3 913.4h0M415.9 967.9h0M420.5 961.4h0M491.9 897.5h0M460.3 1002.0h0M470.7 827.4h0M389.9 953.2h0M483.0 983.3h0M369.1 871.7h0M295.3 961.4h0M395.2 917.9h0M442.1 928.8h0M415.3 950.6h0M404.7 876.5h0M462.7 960.5h0M341.2 957.5h0M419.2 856.2h0M436.2 1011.3h0M344.8 921.6h0M407.9 879.8h0M425.6 849.6h0M247.6 965.5h0M477.2 889.9h0M444.3 1045.4h0M386.6 962.0h0M426.8 974.9h0M450.5 1019.8h0M488.7 898.9h0M500.2 969.0h0M480.7 993.7h0M462.1 795.6h0M455.1 976.9h0M403.9 917.4h0M333.7 888.4h0M409.3 1001.0h0M408.1 912.9h0M319.4 1119.2h0M371.0 949.8h0M465.8 948.2h0M466.6 800.1h0M428.2 1050.6h0M475.0 991.3h0M287.4 1004.2h0M413.7 939.9h0M456.2 1037.6h0M373.9 875.2h0M409.2 895.5h0M514.6 819.0h0M422.2 818.7h0M450.3 848.5h0M486.2 1027.3h0M487.8 1024.1h0M389.0 848.2h0M397.8 978.3h0M309.4 1054.1h0M384.3 896.4h0M295.7 987.7h0M416.5 839.2h0M429.6 888.8h0M457.7 1027.3h0M440.1 894.8h0M404.3 912.3h0M366.5 937.7h0M405.6 938.4h0M407.9 987.1h0M440.8 973.1h0M532.2 806.8h0M436.4 830.2h0M519.3 974.8h0M483.2 948.7h0M431.5 811.3h0M442.5 850.6h0M498.3 989.5h0M448.0 805.5h0M440.7 823.1h0M443.0 941.7h0M470.2 830.8h0"/><path id="c1y" d="M447.9 853.4h0M528.7 821.0h0M415.2 1026.8h0M318.2 913.9h0M480.1 831.0h0M444.3 970.6h0M478.2 989.2h0M544.8 768.9h0M347.7 883.2h0M513.0 871.3h0M511.0 848.8h0M528.1 775.4h0M528.0 857.4h0M487.9 819.9h0M530.4 874.7h0M269.1 924.2h0M249.2 1093.5h0M211.8 1114.5h0M521.0 797.7h0M328.5 887.3h0M319.0 1150.3h0M460.3 1049.5h0M333.0 894.0h0M503.4 773.6h0M432.1 806.7h0M534.6 812.0h0M508.3 742.3h0M363.4 933.8h0M479.9 904.1h0M390.1 818.2h0M513.5 830.0h0M484.6 920.7h0M531.3 860.6h0M274.5 954.3h0M315.9 889.2h0M533.6 781.6h0M532.3 843.1h0M493.6 751.0h0M551.4 778.1h0M522.4 812.0h0M472.1 784.2h0M537.4 779.2h0M193.0 1028.9h0M137.5 997.9h0M535.5 800.2h0M560.1 779.7h0M507.0 864.0h0M459.0 853.6h0M373.6 961.7h0M307.4 1141.2h0M480.2 775.3h0M374.1 862.5h0M520.5 762.1h0M471.4 798.8h0M527.2 841.9h0M495.4 948.9h0M464.3 1055.1h0M266.6 939.7h0M496.7 846.0h0M294.5 957.4h0M382.3 828.7h0M445.5 847.3h0M509.8 781.2h0M494.0 774.0h0M388.0 836.8h0M319.2 931.3h0M280.7 1083.4h0M180.2 1092.2h0M480.3 973.3h0M278.3 902.4h0M479.4 1008.1h0M469.2 941.4h0M524.5 860.6h0M404.9 1074.7h0M510.7 865.6h0M530.9 855.8h0M557.1 795.0h0M523.4 863.1h0M387.8 1107.9h0M367.6 1112.4h0M511.7 789.3h0M457.5 989.7h0M363.9 882.0h0M270.6 1018.5h0M487.3 767.8h0M528.0 833.7h0M365.5 860.3h0M412.5 933.5h0M199.9 1055.8h0M384.5 856.7h0M505.4 976.0h0M452.7 909.9h0M444.5 782.9h0M535.1 802.2h0M524.4 959.8h0M386.6 865.8h0M303.8 976.0h0M556.3 777.9h0M518.2 796.9h0M314.0 905.7h0M440.2 1070.4h0M388.5 827.9h0M284.9 1071.5h0M421.3 1040.8h0M436.8 869.2h0M265.1 943.2h0"/><path id="c1o" d="M420.6 812.6h0M453.0 1015.9h0"/><path id="c2yg" d="M484.3 996.7h0M499.7 830.5h0M455.0 980.6h0M296.8 933.3h0M508.9 762.7h0M389.5 853.0h0M519.8 841.8h0M493.0 759.7h0M255.6 941.5h0M504.7 827.1h0M501.0 765.6h0M526.1 758.8h0M517.5 819.4h0"/><path id="c2m" d="M397.5 859.6h0M460.9 1038.6h0M457.9 896.8h0M443.9 788.0h0M419.7 1048.8h0M437.7 930.0h0M432.4 1033.0h0M440.0 844.6h0M448.7 989.1h0M444.2 798.1h0M392.0 856.8h0M418.9 978.1h0M509.5 867.2h0M423.1 828.5h0M413.4 1086.8h0M369.4 862.1h0M477.8 982.6h0M470.2 764.2h0M360.3 919.8h0M418.7 819.1h0M499.2 841.3h0M493.1 940.9h0M454.6 975.0h0M449.3 1071.1h0M419.2 934.0h0M424.4 1056.7h0M332.6 911.0h0M446.3 925.3h0M353.6 856.7h0M390.4 956.4h0M400.2 911.5h0M484.0 1005.1h0M518.8 844.0h0M374.1 984.9h0M378.9 980.3h0M556.5 780.5h0M450.5 888.6h0M449.1 797.1h0M474.6 772.6h0M341.1 996.5h0M464.5 904.4h0M345.2 887.7h0M325.5 895.9h0M425.9 989.7h0M495.9 888.4h0M305.2 954.3h0M500.5 949.9h0M388.3 921.7h0M481.2 936.7h0M477.6 1039.4h0M304.4 1153.6h0M432.9 913.5h0M499.8 941.5h0M496.2 844.5h0M497.7 875.6h0M433.6 799.2h0M484.0 783.0h0M369.3 884.3h0M318.7 899.7h0M375.3 912.3h0M432.4 820.0h0M490.0 821.2h0M483.8 953.6h0M484.3 827.3h0M476.0 830.8h0M387.2 908.9h0M434.1 953.9h0M383.7 903.3h0M405.8 922.4h0M400.9 1025.0h0M447.1 895.8h0M412.3 911.9h0M399.2 867.6h0M448.1 953.9h0M447.4 910.1h0M431.1 987.6h0M167.3 1099.2h0M509.0 889.8h0M434.5 802.3h0M455.1 961.9h0M497.3 962.5h0M453.2 776.3h0M463.0 892.1h0M484.4 754.1h0M484.5 914.9h0M476.8 1026.8h0M426.0 1079.6h0M470.5 993.1h0M422.9 829.4h0M457.1 986.0h0M399.1 1107.1h0M444.4 870.7h0M436.7 812.0h0M495.1 792.8h0M448.4 783.5h0M430.7 840.0h0M344.4 1139.8h0M368.3 849.3h0M369.9 1128.6h0M332.2 1145.7h0M264.7 1005.1h0M413.7 1079.8h0M387.8 861.8h0M394.0 936.1h0M470.1 800.4h0M433.8 964.1h0M388.4 994.2h0M475.3 803.0h0M481.4 968.2h0M411.3 976.3h0M274.2 1037.6h0M477.5 967.7h0M429.7 955.3h0M479.4 1045.1h0M470.9 1038.2h0M441.1 788.0h0M326.7 1043.4h0M492.0 989.6h0M458.6 836.8h0M451.5 949.0h0M304.9 1149.0h0M516.2 904.2h0M416.1 937.6h0M391.7 891.9h0M391.9 989.0h0M457.5 1008.2h0M463.9 984.9h0M395.5 888.9h0M473.3 825.0h0"/><path id="c2c" d="M148.9 1034.6h0M188.2 979.4h0M382.6 1015.7h0M290.2 1110.6h0M290.0 1038.9h0M425.3 1078.6h0M194.7 1085.1h0M456.4 781.7h0M339.0 1077.7h0M282.1 1146.9h0M341.6 1131.9h0M104.8 1040.8h0M186.5 990.6h0M286.4 1014.2h0M374.5 1020.0h0M237.9 978.6h0M293.9 1049.8h0M210.4 1089.0h0M291.9 1067.4h0M381.4 974.4h0M399.0 1111.6h0M319.5 1052.0h0M298.4 980.2h0M356.3 1008.5h0M340.8 1062.0h0M469.3 1020.6h0M323.4 1033.1h0M192.0 984.0h0M201.4 1041.3h0M215.9 1017.0h0M298.7 912.5h0M165.5 1079.1h0M333.5 1047.2h0M258.9 1104.8h0M294.6 997.5h0M315.1 1004.4h0M197.3 1072.1h0M443.6 815.3h0M308.6 1027.5h0M269.7 1137.0h0M247.2 1128.9h0M288.9 1150.4h0M347.3 1046.7h0M386.8 1023.8h0M237.4 1045.4h0M307.0 983.7h0M468.3 1041.8h0M117.7 1060.6h0M307.8 937.0h0M364.2 1053.8h0M291.0 1154.8h0M119.9 1066.3h0M359.3 1059.7h0M176.0 978.1h0M188.8 1107.1h0M238.7 966.6h0M501.3 779.4h0M322.7 1069.1h0M224.7 1073.2h0M278.4 1059.8h0M176.9 1049.6h0M290.9 916.1h0M293.7 957.9h0M326.3 1117.7h0M456.8 885.5h0M156.9 1041.4h0M274.1 1022.4h0M174.3 999.4h0M289.3 950.6h0M338.3 924.7h0M347.6 980.5h0M160.6 1035.5h0M278.9 1141.0h0M356.3 1060.0h0M194.2 1112.0h0M139.5 999.8h0M204.0 999.5h0M367.2 1022.4h0M401.4 1059.0h0M199.9 1007.8h0M336.3 1032.4h0M109.8 1022.4h0M194.9 1120.4h0M411.1 926.0h0M355.1 877.8h0M364.7 1015.4h0M336.4 884.0h0M330.2 1107.6h0M346.1 1093.5h0M270.4 1082.7h0M331.6 977.0h0M182.7 1105.5h0M188.6 1051.4h0M147.9 1023.1h0M378.5 1029.1h0M374.8 973.2h0M256.2 960.7h0M429.8 1059.9h0M133.7 1077.4h0M281.0 1063.0h0M298.3 1155.6h0M163.3 982.1h0M143.2 1082.9h0M180.1 1006.8h0M286.0 943.0h0M181.9 1114.3h0M429.0 1026.0h0M375.1 1043.0h0M188.9 1011.0h0M296.0 1125.7h0M329.5 1097.2h0M392.7 829.2h0M371.9 1059.2h0M223.4 993.7h0M229.2 1008.1h0M208.0 991.0h0M178.8 1102.8h0M384.8 927.6h0M252.8 958.3h0M300.1 1087.0h0M206.5 989.1h0M403.7 1096.7h0M206.4 1052.1h0M142.5 1023.6h0M366.1 1127.7h0M360.9 1092.7h0M162.6 1004.2h0M380.0 862.6h0M131.6 1000.3h0M318.4 1105.8h0M270.5 1066.0h0M315.7 1047.5h0M191.5 1008.5h0M267.4 1127.3h0M264.9 1032.2h0M172.8 988.2h0M385.4 975.4h0M292.0 1086.9h0M330.8 995.2h0M392.9 1001.2h0M494.5 861.3h0M388.3 972.9h0M377.1 1122.0h0M343.4 1002.7h0M306.8 1022.6h0M467.2 811.8h0M193.9 1066.1h0M225.1 984.5h0M273.8 1069.9h0M367.5 1055.6h0M320.5 1037.5h0M347.8 1024.8h0M314.2 1052.6h0M248.7 1145.2h0M236.9 985.7h0M124.3 1048.2h0M184.9 1004.4h0M231.0 1034.5h0M276.0 931.1h0M115.3 1054.9h0M215.6 1104.3h0M109.8 1007.5h0M198.6 980.8h0M495.7 819.3h0M194.0 1060.4h0M259.2 1011.6h0M358.5 1041.7h0M323.7 986.6h0M218.0 1075.9h0M445.7 1062.4h0M160.7 1000.6h0M326.7 1072.5h0M339.3 1074.4h0M334.8 987.5h0M279.0 1040.2h0M295.0 1027.2h0M353.7 1127.3h0M230.3 1050.2h0M424.5 1063.1h0M189.2 1027.6h0M283.1 1066.7h0M353.2 868.8h0M350.9 921.4h0M203.8 1014.8h0M169.5 1094.7h0M315.2 1081.9h0M206.7 1036.9h0M281.1 1087.3h0M367.1 985.2h0M280.7 992.7h0M342.9 999.8h0M270.0 1120.0h0M501.6 882.6h0M259.8 964.0h0M192.4 1037.2h0M151.9 1071.0h0M186.8 974.4h0M326.0 1076.5h0M178.3 1079.3h0M312.9 900.6h0M237.0 1126.6h0M149.5 1025.8h0M217.4 997.7h0M346.2 1024.7h0M302.6 1029.6h0M205.5 1085.2h0M220.1 1008.1h0M265.0 1038.9h0M215.9 1083.0h0M158.5 1086.0h0M254.8 1107.3h0M158.2 984.0h0M279.1 1135.7h0M317.3 1015.6h0M173.9 987.0h0M158.9 1054.9h0M290.4 1096.2h0M325.6 1018.2h0M275.4 1034.4h0M415.6 945.6h0M172.0 1016.0h0M211.6 1105.8h0M220.0 1035.2h0M254.1 1066.4h0M448.1 841.4h0M224.8 1020.8h0M225.8 1052.7h0M204.4 1007.3h0M247.2 1064.8h0M256.4 1137.3h0M332.2 944.7h0M375.7 1053.6h0M136.3 1022.6h0M124.8 1053.0h0M225.5 1090.5h0M146.7 1026.0h0M368.9 1046.2h0M243.0 1048.9h0M140.3 1033.6h0M341.4 1047.9h0M248.8 1137.5h0M268.3 1043.9h0M231.5 1133.6h0M324.7 1000.7h0M234.8 980.3h0M253.4 1039.6h0M390.6 1005.3h0M328.6 993.4h0M248.0 1028.9h0M133.6 1053.8h0M326.4 1065.4h0M321.9 1139.0h0M261.2 1128.6h0M374.5 1029.0h0M495.2 985.5h0M261.8 1027.6h0M254.4 1141.6h0M301.0 970.7h0M236.8 1133.5h0M335.5 973.2h0M359.9 1041.7h0M340.7 992.8h0M254.3 1044.1h0M489.6 902.8h0M355.1 1142.5h0M275.8 998.0h0M185.2 1069.4h0M373.6 1114.9h0M441.9 1004.6h0M169.8 1105.1h0M146.1 1051.0h0M399.5 1044.5h0M172.8 1066.5h0M279.1 1033.5h0M275.6 1065.5h0M322.4 975.7h0M376.5 1113.6h0M205.2 1030.1h0M356.3 1019.4h0M338.9 1136.9h0M326.0 1085.4h0"/><path id="c2y" d="M403.2 820.2h0M220.9 1057.9h0M541.3 781.4h0M455.5 844.5h0M528.7 865.9h0M527.0 832.7h0M516.9 785.8h0M519.9 848.9h0M304.6 902.4h0M504.1 845.9h0M448.7 905.8h0M275.3 1008.0h0M287.8 987.3h0M432.3 937.3h0M476.9 906.1h0M322.4 888.6h0M507.9 777.5h0M379.0 1054.3h0M381.6 1029.5h0M436.3 1018.7h0M439.4 975.4h0M511.7 905.4h0M504.5 809.1h0M377.6 1000.5h0M460.4 1021.2h0M310.4 1030.4h0M444.7 882.7h0M275.8 1083.1h0M344.6 879.6h0M547.4 796.6h0M494.1 779.9h0M347.6 872.9h0M521.0 791.0h0M516.9 967.4h0M528.4 797.6h0M317.2 972.7h0M377.1 1128.6h0M406.1 1087.0h0M417.2 1006.9h0M352.5 873.0h0M279.2 974.7h0M266.0 925.5h0M374.0 857.6h0M388.3 883.8h0M284.8 1128.1h0M152.9 1074.6h0M330.5 925.0h0M303.9 941.5h0M537.6 816.6h0M403.7 924.2h0M464.1 1017.5h0M520.0 886.7h0M524.0 888.8h0M260.8 1052.2h0M548.1 794.0h0M298.2 1114.7h0M340.3 1133.6h0M563.8 775.3h0M249.7 1115.0h0M496.4 731.6h0M282.2 951.4h0M377.6 846.1h0M516.8 813.1h0M525.6 774.8h0M535.5 789.2h0M456.1 810.7h0M553.0 787.1h0M545.3 804.3h0M384.1 913.5h0M295.3 928.1h0M398.4 878.8h0M540.1 784.6h0M513.6 981.8h0M493.5 1009.3h0M547.1 780.4h0M528.5 787.6h0M461.1 822.0h0M385.7 840.2h0M522.3 870.1h0M531.1 848.9h0M304.1 937.4h0M518.5 823.6h0M249.2 967.6h0M515.8 793.3h0M318.4 953.3h0M537.0 804.4h0M545.6 760.3h0M321.4 1145.5h0M219.2 1112.1h0M305.5 1011.5h0M530.0 841.2h0M395.1 1036.5h0M508.7 805.2h0M516.3 898.2h0M547.1 805.6h0"/><path id="c2o" d="M399.6 995.1h0M416.8 836.1h0"/><path id="c3c" d="M331.2 1094.1h0M320.9 901.2h0M302.7 1058.8h0M182.2 1002.7h0M144.8 1086.5h0M347.8 969.0h0M288.3 1093.4h0M279.0 935.9h0M498.9 973.9h0M209.1 1061.0h0M305.2 1142.3h0M341.6 900.4h0M136.9 992.5h0M406.2 1029.7h0M287.1 967.0h0M338.4 1102.9h0M261.6 991.5h0M329.8 981.3h0M436.0 861.6h0M359.7 929.1h0M153.0 1065.8h0M384.0 1097.8h0M293.3 1148.6h0M193.0 977.2h0M316.7 1109.9h0M271.4 1035.6h0M174.1 1010.2h0M230.6 1022.5h0M389.6 1003.3h0M300.7 1074.6h0M325.7 1052.4h0M239.5 1103.6h0M379.5 1086.2h0M235.3 1097.4h0M446.8 803.8h0M189.0 1075.2h0M297.7 1029.2h0M473.0 1019.7h0M189.4 1047.9h0M189.5 1032.7h0M322.2 1016.6h0M151.5 1055.7h0M332.3 1127.7h0M374.8 1083.2h0M347.3 1141.5h0M213.7 1085.5h0M353.4 1109.1h0M302.6 1023.5h0M155.8 1091.9h0M234.3 1025.2h0M229.6 1038.0h0M278.6 928.0h0M267.8 1141.3h0M321.1 949.8h0M157.7 1029.8h0M232.4 1065.8h0M333.9 1039.5h0M236.5 1016.4h0M235.2 991.6h0M283.0 1155.3h0M345.9 984.6h0M193.0 1003.0h0M300.6 936.3h0M393.8 1013.7h0M284.7 1123.0h0M321.4 1028.8h0M246.6 1121.5h0M306.7 971.0h0M337.5 934.8h0M343.8 1057.7h0M235.5 1007.4h0M221.2 1045.9h0M105.2 1008.0h0M248.4 1073.1h0M285.8 981.0h0M331.6 903.2h0M384.0 1059.0h0M314.8 999.0h0M359.6 1115.6h0M355.6 1008.0h0M164.2 1078.1h0M154.6 1025.0h0M123.4 1058.0h0M256.6 1078.8h0M323.7 1024.6h0M146.4 1046.1h0M316.7 920.1h0M322.6 1076.9h0M292.6 1095.1h0M216.3 1101.5h0M229.6 967.3h0M323.5 1099.4h0M197.4 1112.8h0M291.9 1072.4h0M433.6 947.8h0M168.9 1027.7h0M387.4 1086.4h0M99.5 1021.9h0M390.1 1095.5h0M197.9 1119.0h0M390.9 1009.2h0M292.7 972.8h0M281.1 1047.1h0M447.0 872.1h0M177.8 1106.4h0M285.4 1052.6h0M251.8 1137.4h0M276.6 1032.6h0M164.8 1001.1h0M361.6 1009.8h0M190.5 1000.2h0M385.4 854.0h0M476.0 991.4h0M180.4 1027.9h0M276.0 1024.3h0M165.6 1016.4h0M195.8 1080.3h0M321.1 1072.5h0M332.5 958.6h0M381.7 962.2h0M364.9 1008.7h0M231.1 1017.3h0M390.0 1060.1h0M102.2 1019.8h0M419.5 941.4h0M408.0 1006.2h0M161.7 1045.6h0M329.6 1110.6h0M359.0 940.0h0M342.7 973.6h0M280.3 1018.9h0M366.6 1020.3h0M223.9 1064.6h0M157.5 1071.3h0M242.1 1088.7h0M157.9 1016.4h0M229.2 1089.4h0M202.0 1028.0h0M369.7 1071.8h0M303.9 1079.5h0M205.7 983.1h0M457.3 1020.6h0M175.6 1007.5h0M326.7 1047.2h0M336.7 1058.3h0M440.8 983.3h0M298.3 1049.7h0M333.6 1033.7h0M281.2 1073.0h0M174.0 1000.3h0M374.0 1132.7h0M198.3 1069.5h0M337.1 912.3h0M187.4 1043.6h0M265.1 949.8h0M150.4 979.8h0M400.0 920.0h0M372.0 1019.8h0M229.0 1057.4h0M204.6 1081.7h0M487.9 812.2h0M148.8 1073.6h0M371.2 874.8h0M366.9 1026.6h0M180.6 1014.3h0M141.6 1058.0h0M284.2 1000.9h0M285.4 1114.1h0M301.7 1069.4h0M203.6 1105.9h0M189.4 977.7h0M282.5 1118.3h0M328.5 1032.2h0M211.7 1078.0h0M460.7 976.3h0M222.4 1123.0h0M292.9 1064.3h0M148.1 1043.9h0M219.8 980.7h0M397.5 1011.5h0M101.5 1025.0h0M463.2 803.5h0M213.7 1041.1h0M442.0 796.4h0M284.6 995.9h0M141.5 1076.4h0M203.0 984.9h0M247.1 1134.6h0M171.3 1111.1h0M182.7 1083.1h0M391.9 1085.7h0M357.8 1045.7h0M372.6 1083.6h0M299.8 958.1h0M225.0 1061.4h0M300.2 1133.8h0M423.3 1069.8h0M310.3 991.3h0M455.8 916.5h0M240.2 995.1h0M183.0 1042.5h0M375.1 1058.0h0M307.5 996.2h0M377.9 1004.1h0M182.7 981.9h0M252.8 1064.0h0M265.6 1037.5h0M289.2 1009.3h0M296.6 1015.9h0M407.5 1055.9h0M116.8 1046.1h0M213.9 1066.6h0M295.8 897.6h0M232.0 975.0h0M187.9 1073.7h0M198.5 1077.3h0M506.3 908.6h0M281.4 1022.7h0M309.0 1046.8h0M443.6 1049.1h0M151.6 1024.5h0M293.1 1033.2h0M110.1 1026.6h0M242.7 1074.8h0M476.1 795.3h0M309.7 1020.9h0M278.3 1026.6h0M332.2 938.2h0M208.2 1123.3h0M383.1 1049.7h0M276.5 1082.9h0M373.8 937.7h0M301.5 1025.5h0M476.7 1035.4h0M272.6 960.4h0M320.2 1054.2h0M277.7 961.7h0M324.3 1113.8h0M424.7 870.0h0M268.0 989.0h0M308.0 1095.7h0M290.5 1068.6h0M374.4 1100.8h0M291.8 984.1h0M284.7 1059.8h0M162.4 993.9h0M273.7 1019.2h0M201.0 1039.6h0M158.1 1015.9h0M346.8 902.4h0M284.2 992.4h0M285.4 1019.3h0M124.4 1067.6h0M386.9 1065.8h0M357.2 945.7h0M365.3 1030.2h0M346.7 1086.0h0M163.0 1008.3h0M106.9 1017.2h0M211.0 1117.4h0M141.3 1053.3h0M227.0 1111.6h0M187.3 998.1h0M227.7 1080.2h0M378.1 1072.6h0M248.4 1080.3h0M230.8 1071.9h0M365.2 868.4h0M141.0 1013.1h0M379.8 1043.4h0M385.0 1026.9h0M184.3 1116.2h0M230.0 1112.3h0M274.5 1053.8h0M355.8 1091.6h0M214.3 1113.2h0M276.4 1089.4h0M272.5 1030.4h0"/><path id="c3yg" d="M503.3 818.4h0M496.9 728.0h0M482.9 743.7h0M467.5 892.4h0M290.7 912.4h0M484.2 786.9h0M502.2 787.6h0M551.7 798.5h0"/><path id="c3y" d="M379.5 926.3h0M529.5 796.4h0M209.3 1072.7h0M277.9 1014.0h0M478.9 740.1h0M523.2 820.6h0M370.4 958.7h0M557.0 798.4h0M410.6 810.8h0M420.2 1019.4h0M497.8 799.6h0M315.9 982.4h0M515.8 769.1h0M519.5 793.4h0M291.2 937.4h0M552.8 800.8h0M183.9 1025.4h0M487.4 762.4h0M499.2 766.2h0M509.5 739.5h0M129.5 1060.1h0M466.4 1005.9h0M387.3 1090.9h0M538.4 794.0h0M514.4 761.0h0M381.0 858.4h0M492.0 764.8h0M518.4 899.9h0M562.1 791.4h0M499.0 734.4h0M391.6 865.4h0M527.6 795.2h0M326.1 1129.9h0M505.3 734.2h0M496.6 1002.7h0M168.6 1059.3h0M249.1 1106.3h0M518.7 765.4h0M278.5 991.0h0M355.1 913.0h0M538.1 757.6h0M313.9 1127.9h0M485.3 839.2h0M291.2 958.9h0M507.9 853.2h0M237.1 980.7h0M316.9 965.0h0M368.1 1039.9h0M452.4 917.9h0M234.5 1012.0h0M477.2 749.4h0M504.3 959.3h0M265.9 916.0h0M366.7 855.2h0M327.8 975.3h0M423.0 876.6h0M539.0 763.5h0M358.5 857.6h0M472.0 907.0h0M384.5 956.8h0M502.0 827.5h0M498.0 739.0h0M284.8 1133.8h0M506.9 841.9h0M516.1 884.6h0M339.1 980.5h0M393.2 1080.4h0M318.9 1070.3h0M414.6 1036.8h0M236.0 1033.8h0M429.5 809.9h0M473.2 938.8h0M500.6 758.4h0M478.1 870.9h0M512.8 829.2h0M347.6 884.9h0M353.6 880.8h0M514.9 853.4h0M422.3 1007.5h0M477.8 837.5h0M348.9 866.3h0M257.8 1130.1h0M452.1 863.3h0M503.8 1001.6h0M190.7 1055.0h0M548.8 776.0h0M527.1 803.8h0M176.3 1031.7h0M422.0 1031.6h0M510.5 732.2h0M485.7 771.4h0M504.5 968.7h0M552.7 766.6h0M401.6 821.0h0M533.0 789.7h0M248.0 987.1h0M467.3 813.9h0M483.8 750.3h0M403.3 998.0h0M408.0 937.5h0M367.2 850.1h0M536.4 767.0h0M347.2 877.6h0"/><path id="c3m" d="M432.0 825.6h0M445.7 937.1h0M400.6 925.3h0M408.2 969.2h0M371.3 927.9h0M439.9 1022.8h0M455.2 908.9h0M445.5 836.5h0M480.7 899.1h0M392.6 963.9h0M410.6 866.0h0M396.2 924.6h0M446.9 816.9h0M451.7 895.1h0M424.7 812.9h0M324.7 1085.4h0M531.0 756.6h0M470.9 881.7h0M482.8 896.8h0M423.4 974.7h0M324.0 1128.5h0M393.5 986.9h0M459.0 963.9h0M417.1 869.3h0M300.1 1154.8h0M480.5 929.0h0M389.3 963.0h0M388.8 1004.3h0M437.8 981.4h0M455.9 1066.5h0M415.6 990.2h0M409.6 948.8h0M346.1 1049.6h0M471.0 871.5h0M338.5 1054.4h0M467.4 1008.6h0M374.8 1011.6h0M504.1 887.0h0M431.8 939.2h0M503.4 906.2h0M401.6 890.1h0M375.3 932.6h0M480.1 868.7h0M345.1 956.5h0M441.2 831.9h0M456.1 804.7h0M387.2 907.8h0M309.7 932.5h0M464.7 916.3h0M451.1 1039.9h0M471.1 883.3h0M456.9 902.2h0M417.8 1093.2h0M345.4 1001.2h0M464.7 885.2h0M497.3 912.3h0M465.2 823.0h0M508.5 826.4h0M505.1 1010.4h0M394.9 959.4h0M502.1 809.8h0M434.0 959.3h0M417.4 1003.3h0M475.4 851.1h0M412.1 880.2h0M361.3 860.3h0M323.1 937.2h0M441.2 900.7h0M390.6 907.9h0M407.3 911.7h0M482.7 766.9h0M497.5 979.3h0M422.0 852.8h0M358.1 871.2h0M467.6 789.8h0M313.5 1128.6h0M427.4 896.0h0M367.4 1069.8h0M486.1 803.2h0M488.7 910.1h0M303.2 1123.0h0M383.4 935.0h0M464.1 817.2h0M414.7 922.0h0M437.6 1048.7h0M438.9 957.5h0M408.4 878.5h0M425.0 1027.3h0M497.0 868.3h0M460.9 1028.3h0M386.0 917.5h0M439.1 865.9h0M453.5 831.4h0M484.8 918.8h0M422.3 965.1h0M466.1 792.1h0M476.3 1043.8h0M496.2 945.4h0M483.5 882.3h0M364.5 928.6h0M425.8 834.9h0M468.4 998.8h0M552.1 766.9h0M406.0 873.8h0M484.6 984.5h0M471.8 881.6h0M428.7 942.7h0M367.9 918.8h0M526.0 963.9h0M501.5 893.8h0M462.4 962.9h0M437.6 945.3h0M412.3 983.6h0M395.4 861.8h0M339.0 952.1h0M425.8 844.9h0M430.0 967.1h0M410.0 900.1h0M410.8 1019.8h0M371.0 853.2h0M473.8 746.3h0M378.2 950.6h0M392.3 982.9h0M434.5 996.0h0M398.5 837.0h0M472.7 864.4h0M416.6 1078.9h0M433.7 1013.8h0M369.5 905.1h0M460.8 913.8h0"/><path id="c3o" d="M441.6 1011.8h0"/><path id="c4c" d="M268.4 957.3h0M333.6 1110.2h0M283.3 946.9h0M321.3 1058.2h0M405.6 977.5h0M423.4 838.9h0M285.7 1110.2h0M247.1 1126.7h0M149.5 998.7h0M297.9 1054.5h0M453.6 921.0h0M332.1 948.3h0M279.5 1069.7h0M338.8 1149.7h0M295.0 1022.7h0M366.7 1086.3h0M321.2 1144.9h0M347.2 1079.7h0M158.0 1061.2h0M265.6 1136.3h0M295.0 1103.0h0M252.0 961.3h0M232.4 1057.8h0M292.1 990.6h0M231.2 1009.2h0M258.4 1015.4h0M337.1 1033.8h0M285.3 988.1h0M160.4 1075.6h0M465.7 1031.6h0M415.2 1031.4h0M153.5 999.9h0M371.2 1101.8h0M327.8 1115.6h0M227.0 1009.6h0M230.0 1083.3h0M313.1 1074.6h0M206.4 1103.3h0M396.7 1066.3h0M203.9 1071.1h0M161.3 1023.8h0M344.9 1146.2h0M247.1 1097.9h0M398.2 815.5h0M251.6 1120.3h0M215.4 1006.5h0M119.1 1031.6h0M199.4 1033.4h0M356.8 1101.5h0M314.2 1008.0h0M354.9 1085.6h0M204.6 1008.4h0M245.5 1052.6h0M223.8 1007.9h0M163.8 1039.6h0M224.2 1106.1h0M277.5 1120.7h0M284.2 1085.9h0M230.5 1047.3h0M339.8 880.9h0M260.3 1093.4h0M380.9 1111.2h0M260.4 978.8h0M323.4 982.6h0M248.8 1013.0h0M160.6 1013.5h0M367.5 1007.6h0M287.3 1063.6h0M305.6 994.8h0M409.5 845.8h0M202.3 1105.2h0M355.6 938.8h0M364.3 1087.9h0M185.1 1036.5h0M436.6 1043.9h0M213.7 1008.3h0M199.4 987.8h0M303.4 1045.8h0M147.3 1005.5h0M214.3 1045.6h0M241.9 988.3h0M263.2 1090.7h0M277.7 1007.7h0M349.8 1014.3h0M209.2 1041.7h0M296.1 911.0h0M273.6 1128.0h0M394.2 1104.5h0M168.4 1099.8h0M482.2 860.2h0M265.1 1102.2h0M467.4 1001.5h0M435.0 1063.3h0M319.3 996.4h0M152.1 1082.6h0M270.2 1027.5h0M344.9 1079.5h0M132.2 1019.3h0M278.0 1011.4h0M289.7 1061.6h0M365.2 1034.0h0M297.1 1126.5h0M273.0 1120.4h0M263.7 990.8h0M249.2 951.2h0M182.7 1057.5h0M259.0 970.5h0M236.6 1109.6h0M246.8 982.3h0M245.7 1114.0h0M281.5 958.2h0M143.5 1044.2h0M230.9 1028.8h0M396.7 1095.6h0M338.7 897.9h0M259.1 1118.7h0M194.6 1004.8h0M333.1 1103.2h0M282.3 923.7h0M262.4 937.0h0M243.0 1091.9h0M272.8 942.9h0M147.7 1039.4h0M225.5 992.8h0M373.6 976.0h0M273.7 1078.3h0M343.3 1005.4h0M283.2 1097.2h0M213.0 984.3h0M317.3 984.3h0M220.1 1002.7h0M346.0 958.3h0M352.5 1104.0h0M220.4 1135.3h0M346.9 1009.6h0M350.8 1100.7h0M168.2 995.8h0M321.2 959.0h0M293.6 1007.6h0M328.0 954.0h0M256.5 1054.6h0M200.7 1111.6h0M122.7 1064.3h0M202.1 1117.8h0M398.4 1091.8h0M354.0 1082.2h0M306.3 1030.7h0M325.6 998.4h0M368.2 1091.4h0M189.5 1081.5h0M469.8 1007.0h0M345.3 1035.6h0M288.4 1049.5h0M270.0 976.6h0M360.2 1098.8h0M290.6 1104.6h0M359.9 1085.9h0M321.5 1080.1h0M264.3 1065.4h0M287.6 1039.0h0M223.6 1112.8h0M247.4 1031.6h0M279.9 1041.6h0M275.7 926.9h0M359.7 1028.8h0M357.2 859.1h0M384.4 1018.4h0M377.4 1077.1h0M195.8 997.7h0M234.6 998.4h0M221.5 1078.8h0M364.3 1078.8h0M348.1 1119.3h0M122.9 1051.8h0M269.6 1013.5h0M388.4 966.6h0M435.3 1058.0h0M293.7 944.8h0M168.3 1062.4h0M295.2 993.5h0M141.7 1016.3h0M492.1 832.2h0M251.6 1101.6h0M377.6 1108.9h0M422.2 1051.2h0M184.8 1091.9h0M472.6 797.1h0M283.9 981.5h0M293.0 936.9h0M511.5 895.9h0M304.1 1002.9h0M154.1 978.9h0M308.6 1002.9h0M193.8 1067.5h0M159.7 1026.0h0M333.3 1135.9h0M295.2 1009.7h0M502.0 801.2h0M294.3 952.6h0M179.5 1087.5h0M210.6 1079.5h0M288.3 1054.1h0M359.3 951.7h0M135.2 1028.6h0M335.1 978.9h0M295.0 962.9h0M335.3 949.3h0M224.2 1049.6h0M274.0 985.0h0M279.5 1001.7h0M364.7 1064.0h0M298.1 1059.4h0M241.6 1030.0h0M317.1 1054.3h0M180.3 1075.1h0M260.1 1072.5h0M336.5 960.8h0M271.9 1088.0h0M364.3 1099.6h0M358.5 916.5h0M141.8 1011.0h0M125.0 1005.9h0M396.5 1065.7h0M237.5 1045.9h0M161.0 998.9h0M126.2 1025.4h0M293.0 922.4h0M260.7 1125.0h0M377.7 963.7h0M361.1 1066.8h0M277.0 1072.3h0M395.2 1055.6h0M470.3 777.0h0M256.8 1121.3h0M144.4 1045.4h0M395.1 893.5h0M195.2 1040.3h0M349.1 1132.3h0M251.5 1147.7h0M148.2 1066.6h0M220.5 1015.6h0M181.0 1095.6h0M296.4 906.8h0M354.3 1003.5h0M371.3 1081.0h0M292.0 1082.0h0M362.2 1007.9h0M377.7 1103.9h0M250.8 1069.4h0M470.4 913.2h0M197.3 1008.8h0M218.9 1000.7h0M312.1 1097.9h0M258.1 1146.5h0M355.6 1036.3h0M121.3 1008.8h0M369.7 1030.3h0M325.2 912.7h0M235.5 1081.8h0M325.5 1087.0h0M211.9 1033.2h0M299.8 975.8h0M303.9 1042.1h0M297.9 941.8h0M117.0 1008.1h0M314.0 983.2h0M357.2 1082.2h0M236.8 1057.7h0M407.5 1103.7h0M325.6 944.5h0M218.0 1107.5h0M457.3 791.8h0M158.1 996.2h0M287.6 956.2h0M177.4 994.2h0M291.9 1029.4h0"/><path id="c4m" d="M332.9 939.5h0M330.2 971.5h0M460.6 933.5h0M432.5 909.4h0M411.2 945.2h0M431.6 985.5h0M482.1 926.3h0M287.2 993.8h0M344.9 937.4h0M499.3 920.9h0M522.8 804.1h0M432.9 999.5h0M402.9 866.8h0M484.7 758.0h0M405.0 897.7h0M441.3 1050.9h0M499.9 961.1h0M455.5 905.5h0M518.6 769.3h0M418.3 911.3h0M444.5 891.8h0M418.5 973.3h0M378.5 943.2h0M479.2 1001.0h0M410.0 996.6h0M483.7 1023.2h0M342.6 904.5h0M471.9 862.1h0M433.0 1078.6h0M487.2 1031.6h0M387.1 941.6h0M466.0 873.3h0M493.8 850.2h0M416.1 998.7h0M471.6 961.0h0M440.3 906.9h0M460.0 856.0h0M280.5 988.8h0M370.1 912.0h0M413.2 866.8h0M290.1 931.3h0M496.6 914.3h0M475.4 924.2h0M487.7 830.0h0M419.6 932.6h0M422.4 1071.9h0M461.6 860.5h0M468.6 878.1h0M475.5 885.7h0M266.7 912.2h0M390.2 927.7h0M422.3 894.0h0M381.1 900.9h0M411.8 931.2h0M472.0 1039.9h0M475.6 809.0h0M206.2 1021.8h0M450.5 1036.9h0M396.3 821.1h0M493.7 816.1h0M424.0 927.2h0M480.8 913.7h0M372.6 904.9h0M448.8 1031.1h0M377.0 881.2h0M465.7 852.8h0M529.6 883.3h0M415.9 978.0h0M337.1 978.0h0M429.7 854.7h0M427.8 1038.0h0M458.4 1013.1h0M410.2 856.0h0M390.7 959.3h0M449.3 994.8h0M446.3 1040.8h0M418.1 981.6h0M494.4 1019.9h0M440.0 1030.0h0M309.7 925.6h0M552.0 805.0h0M395.4 1004.8h0M292.6 1122.3h0M477.4 878.7h0M455.6 877.2h0M393.9 978.5h0M388.3 1096.6h0M387.3 1108.0h0M459.9 1011.0h0M458.8 937.2h0M521.3 811.9h0M360.6 977.5h0M432.2 926.7h0M329.6 983.3h0M301.0 1009.5h0M448.4 899.4h0M434.6 988.3h0M379.7 1064.9h0M450.3 1043.6h0M438.3 938.8h0M466.3 1060.8h0M408.1 852.1h0M379.6 1059.7h0M412.4 1020.6h0M454.5 953.0h0M343.1 876.9h0M405.7 974.5h0M486.9 757.4h0M506.1 1006.5h0M447.5 945.5h0M455.2 930.9h0M376.4 931.6h0M474.9 828.8h0M418.7 886.1h0M473.6 1032.0h0M294.6 940.8h0M501.9 911.7h0M444.4 787.5h0M508.7 896.1h0M322.6 1136.9h0M417.5 995.1h0M414.8 899.4h0M471.0 820.3h0M424.4 1036.3h0M475.5 928.2h0M497.5 852.6h0M533.3 765.4h0M498.8 1010.3h0M431.7 981.4h0M498.5 881.9h0"/><path id="c4y" d="M193.7 1101.0h0M407.1 900.3h0M500.4 791.9h0M404.0 935.6h0M286.3 905.1h0M489.7 763.8h0M410.6 980.6h0M385.9 831.8h0M475.8 778.1h0M507.4 744.4h0M242.4 964.0h0M529.5 808.8h0M266.0 949.9h0M512.2 858.3h0M236.1 1049.7h0M539.2 756.6h0M337.5 990.0h0M508.0 751.0h0M454.0 825.8h0M103.6 1042.8h0M508.5 795.8h0M489.7 959.0h0M493.2 921.7h0M508.3 748.7h0M324.7 921.0h0M511.5 780.8h0M485.7 1017.0h0M298.0 1146.4h0M535.4 793.7h0M287.4 914.6h0M324.0 926.1h0M491.4 853.9h0M330.0 899.1h0M431.5 1025.4h0M468.3 946.4h0M336.1 999.5h0M535.1 804.3h0M402.2 940.9h0M271.5 1139.4h0M343.0 916.6h0M489.0 996.2h0M260.2 1097.9h0M342.6 1124.8h0M525.2 808.1h0M415.8 1011.8h0M504.3 840.3h0M289.9 979.8h0M340.5 1118.1h0M390.5 915.2h0M476.2 769.3h0M516.2 864.6h0M180.1 1001.2h0M425.4 931.7h0M484.8 822.5h0M516.0 982.4h0M466.5 950.3h0M352.1 1046.0h0M397.6 833.1h0M477.6 756.9h0M400.4 810.8h0M497.3 855.7h0M508.6 978.0h0M180.1 1010.2h0M180.6 1041.8h0M359.4 946.7h0M289.6 1027.8h0M351.8 908.2h0M114.9 1042.3h0M283.9 1150.3h0M515.5 801.4h0M514.5 754.5h0M395.2 1032.0h0M343.5 1144.5h0M520.6 783.3h0M390.1 1024.9h0M530.2 775.0h0M460.8 848.8h0M487.8 839.4h0M532.6 853.1h0M300.4 912.8h0M476.8 862.9h0M400.7 816.3h0M284.0 970.3h0M373.8 917.9h0M336.5 995.5h0M442.5 819.3h0M559.8 773.8h0M501.5 995.7h0M429.4 1020.2h0M418.3 1074.0h0M523.6 824.3h0M525.7 792.9h0M486.4 779.3h0M383.0 1077.5h0M509.9 784.0h0M465.4 779.4h0M502.2 823.0h0M510.4 986.1h0M417.0 1057.9h0M302.0 982.4h0M478.4 807.6h0M359.9 864.4h0M104.9 1034.9h0M410.4 887.6h0"/><path id="c4yg" d="M498.3 991.9h0M376.9 912.8h0M491.7 791.5h0M527.3 761.1h0M490.1 732.9h0M417.0 875.6h0M380.9 852.8h0M495.8 760.8h0"/><path id="c4o" d="M487.9 939.5h0"/><path id="c5y" d="M528.3 869.6h0M537.2 762.6h0M261.9 1149.4h0M407.8 883.4h0M269.3 909.4h0M338.6 892.4h0M324.2 970.2h0M294.6 1117.1h0M503.7 890.5h0M544.1 789.2h0M359.2 849.1h0M233.3 973.5h0M525.4 757.4h0M450.2 929.2h0M514.2 750.2h0M380.4 934.2h0M515.1 991.8h0M318.5 1086.4h0M243.7 1096.8h0M508.2 791.8h0M490.5 786.7h0M498.1 997.8h0M556.6 789.8h0M353.4 862.3h0M491.9 1026.0h0M503.9 793.3h0M276.1 917.7h0M485.5 959.0h0M332.6 1017.3h0M268.5 1007.2h0M502.8 731.8h0M285.0 963.7h0M414.9 835.3h0M393.4 926.7h0M385.5 992.3h0M517.0 955.1h0M421.9 1080.5h0M327.2 933.5h0M419.3 928.6h0M283.6 974.4h0M438.1 926.9h0M119.4 1015.8h0M450.5 1000.6h0M442.8 859.7h0M462.7 995.6h0M460.8 806.3h0M365.7 838.1h0M482.5 751.0h0M392.9 824.7h0M322.1 921.2h0M258.3 942.6h0M126.9 1015.2h0M340.0 1007.0h0M523.2 873.7h0M382.1 845.4h0M194.9 1092.0h0M521.7 765.6h0M398.3 862.7h0M399.5 826.0h0M517.0 880.9h0M545.4 763.1h0M495.6 786.6h0M412.8 1013.4h0M503.5 942.4h0M445.6 1053.9h0M462.0 1058.9h0M305.0 933.2h0M289.6 1056.1h0M374.6 882.7h0M439.0 848.2h0M477.5 761.0h0M326.0 1135.7h0M284.4 987.3h0M398.9 1068.9h0M521.1 880.6h0M282.2 904.2h0M514.4 812.2h0M449.0 794.7h0M542.5 790.5h0M418.0 816.4h0M552.6 780.2h0M521.2 758.2h0M500.3 853.1h0M355.7 867.2h0M450.5 814.4h0M184.2 1076.8h0M354.8 1064.0h0M499.2 823.7h0M415.1 891.2h0M271.7 924.0h0M410.1 905.2h0M462.6 1041.9h0M376.5 974.7h0M543.7 812.4h0M322.6 894.7h0M305.5 1039.5h0M262.7 966.0h0M172.8 1032.0h0M275.8 1137.0h0M473.5 1033.4h0M323.7 885.8h0M325.5 1146.9h0M541.5 772.0h0M280.6 916.8h0"/><path id="c5c" d="M217.6 1041.7h0M244.0 1084.7h0M464.7 1045.8h0M433.6 1032.3h0M266.4 1091.5h0M210.4 1018.8h0M355.1 1038.7h0M272.1 1100.6h0M188.9 1012.5h0M263.8 1144.3h0M407.9 1091.9h0M251.1 970.6h0M252.6 1124.4h0M139.5 1025.0h0M267.1 1149.4h0M346.8 866.8h0M352.3 1014.3h0M305.1 1120.3h0M177.3 976.3h0M385.4 998.7h0M152.0 1019.2h0M358.2 1091.0h0M215.7 1074.3h0M247.6 1024.8h0M292.6 1140.5h0M246.7 1089.1h0M342.4 1096.2h0M242.0 1118.9h0M300.2 1150.9h0M246.6 1006.0h0M184.6 1023.7h0M281.2 1057.8h0M214.2 1098.5h0M138.8 1068.7h0M354.4 1110.1h0M423.3 863.8h0M368.1 1052.6h0M353.1 960.6h0M360.8 1071.5h0M295.4 1152.1h0M372.6 1064.8h0M246.3 1075.1h0M267.8 1072.9h0M380.1 839.4h0M254.4 1058.1h0M354.9 953.7h0M270.5 1147.3h0M337.0 1009.5h0M372.0 1056.6h0M311.8 992.9h0M186.3 1017.0h0M282.3 1025.1h0M276.4 1058.5h0M166.0 982.5h0M242.4 1127.8h0M221.5 990.7h0M326.4 1066.3h0M323.3 1040.7h0M322.8 1042.0h0M238.4 1099.5h0M314.4 1109.2h0M180.1 997.1h0M286.8 1106.8h0M365.4 957.1h0M152.1 1003.6h0M165.2 1022.5h0M273.5 1095.8h0M286.7 1097.4h0M224.0 1068.8h0M303.2 1053.0h0M249.7 1135.5h0M425.4 1045.1h0M229.6 1094.1h0M296.3 1037.9h0M381.6 1004.9h0M265.4 1022.8h0M244.0 1041.0h0M404.6 1045.4h0M319.8 1017.6h0M379.7 992.4h0M236.0 1015.5h0M239.4 1113.9h0M209.2 1056.5h0M436.1 804.7h0M459.5 997.0h0M231.5 1125.8h0M213.6 996.5h0M221.5 1091.2h0M335.7 898.7h0M332.0 1074.9h0M364.9 1072.9h0M179.2 1063.3h0M248.0 1042.1h0M257.9 1032.0h0M179.5 983.6h0M352.3 980.5h0M171.0 1024.5h0M341.2 1139.2h0M221.7 1004.3h0M197.7 1083.7h0M372.5 1051.7h0M312.6 1059.0h0M316.8 957.4h0M303.3 898.4h0M275.7 1113.8h0M223.6 1102.3h0M160.0 1091.2h0M390.4 849.7h0M374.9 992.9h0M125.2 1037.5h0M186.9 1014.8h0M246.5 1099.6h0M318.5 1087.5h0M413.0 1047.9h0M273.0 1051.1h0M188.3 1067.1h0M208.5 1124.9h0M334.2 1049.8h0M442.0 1036.1h0M293.2 1108.8h0M197.5 985.0h0M329.7 1142.0h0M371.4 1009.8h0M358.1 1050.2h0M334.3 1003.0h0M309.0 1120.7h0M219.0 1123.0h0M238.8 988.0h0M329.3 1006.8h0M214.3 1058.3h0M321.1 1098.8h0M346.0 908.4h0M342.6 1064.5h0M323.6 954.6h0M240.1 1121.1h0M141.0 1070.3h0M328.0 1025.5h0M216.8 1011.9h0M206.7 986.0h0M341.8 1018.3h0M455.9 839.4h0M264.8 1055.1h0M347.7 1021.4h0M256.5 1062.2h0M322.5 1100.1h0M291.4 978.9h0M158.9 1069.4h0M244.4 1000.2h0M138.0 1048.0h0M301.6 1092.9h0M185.5 986.9h0M189.1 1004.2h0M300.0 930.4h0M262.3 970.9h0M318.1 902.0h0M237.3 1005.6h0M265.7 1122.4h0M113.7 1033.9h0M160.7 1087.5h0M326.7 1093.9h0M329.7 963.0h0M173.4 1095.2h0M394.6 1051.0h0M108.1 1050.4h0M273.8 1106.8h0M186.1 1032.2h0M390.7 998.1h0M348.7 1057.0h0M265.5 1140.3h0M251.9 1045.2h0M356.0 1140.4h0M170.1 1010.0h0M234.9 1087.0h0M174.0 1074.5h0M373.6 1038.3h0M228.3 1064.7h0M316.5 1124.0h0M171.0 1084.3h0M145.2 983.2h0M360.7 838.7h0M277.9 1127.1h0M361.6 907.6h0M388.7 1030.2h0M310.3 939.3h0M353.4 890.4h0M343.1 1088.9h0M273.3 1108.2h0M332.8 1041.8h0M240.8 1029.1h0M242.6 969.7h0M437.4 938.1h0M353.0 1053.3h0M419.8 1008.7h0M256.8 1108.1h0M324.2 951.1h0M184.1 1099.4h0M358.9 1120.4h0M181.8 1018.3h0M495.2 810.8h0M299.1 990.7h0M244.4 1009.9h0M213.0 1126.5h0M122.7 1041.6h0M196.9 1107.2h0M133.8 1031.2h0M259.3 1137.0h0M287.8 1030.2h0M319.0 1046.3h0M150.8 1007.7h0M231.9 1072.9h0M132.8 1073.7h0M145.5 1017.1h0M231.7 1044.6h0M383.9 966.1h0M251.6 963.4h0M363.6 1096.3h0M353.5 1026.7h0M418.2 963.6h0M241.5 1049.9h0M390.1 1124.5h0M313.6 911.5h0M185.6 1112.2h0M247.7 1141.4h0M334.9 881.4h0M380.2 896.9h0M204.8 1099.1h0M224.1 1049.7h0M126.3 1000.6h0M109.2 1047.7h0M344.7 1070.1h0M353.4 975.2h0M307.9 947.5h0M253.5 976.2h0M224.7 1000.7h0M419.7 1057.0h0M260.2 1046.7h0M202.1 1102.2h0M228.6 972.1h0M444.7 932.2h0M167.0 1074.3h0M126.7 1062.9h0M350.7 962.9h0M307.2 892.4h0M382.6 846.0h0M291.9 1157.8h0M245.4 1008.1h0M310.1 1157.3h0M321.4 1023.7h0M298.5 1131.9h0M223.0 1097.6h0M176.8 982.1h0M424.6 1024.5h0M432.3 1010.9h0M365.4 972.5h0M199.1 1029.1h0M157.8 1081.5h0M369.5 1132.7h0M307.8 1004.4h0M388.9 871.0h0M277.1 1104.9h0M332.7 1010.8h0M311.7 973.1h0M317.5 1146.2h0"/><path id="c5m" d="M491.2 869.3h0M476.2 891.5h0M449.2 1052.3h0M432.0 920.6h0M449.6 1056.6h0M480.0 852.0h0M456.0 1046.6h0M465.2 882.6h0M515.8 830.0h0M106.4 1044.1h0M347.6 918.5h0M428.6 1084.3h0M372.3 1122.6h0M460.8 905.1h0M431.6 793.9h0M429.2 993.8h0M397.8 856.2h0M505.9 873.4h0M491.7 914.8h0M402.9 1104.0h0M428.1 1043.4h0M458.8 804.0h0M272.5 916.7h0M467.3 842.0h0M414.3 905.0h0M356.2 918.0h0M323.9 1117.8h0M438.2 829.2h0M384.0 863.3h0M418.1 828.7h0M477.5 1046.6h0M438.6 979.6h0M367.5 865.4h0M432.0 821.1h0M446.1 948.5h0M393.3 974.7h0M454.1 865.2h0M395.4 931.3h0M492.0 936.3h0M455.8 826.5h0M395.0 950.1h0M379.3 949.7h0M381.9 889.2h0M400.8 979.4h0M414.2 931.2h0M420.7 848.6h0M481.9 1039.3h0M300.4 997.8h0M504.6 850.1h0M393.7 944.5h0M278.4 969.5h0M460.8 1032.3h0M412.4 960.0h0M478.7 872.3h0M439.2 806.6h0M444.8 1069.9h0M386.5 873.4h0M453.9 802.6h0M384.7 1008.2h0M417.8 866.5h0M485.4 832.6h0M426.9 800.7h0M430.9 1013.5h0M468.6 960.5h0M419.9 1050.2h0M482.8 817.4h0M507.7 955.4h0M371.0 963.2h0M314.3 892.8h0M436.5 814.0h0M453.2 928.5h0M412.3 872.5h0M502.3 987.3h0M459.0 1044.8h0M396.5 1088.2h0M288.6 1148.0h0M393.5 947.4h0M502.7 915.8h0M407.2 945.7h0M467.8 968.3h0M504.6 947.6h0M473.8 977.8h0M349.3 1122.5h0M304.7 1152.9h0M483.0 815.3h0M446.3 966.6h0M331.9 966.7h0M406.1 861.8h0M380.5 876.2h0M417.0 893.3h0M428.1 937.4h0M453.1 810.7h0M371.5 918.2h0M401.8 897.9h0M433.8 845.2h0M464.4 791.2h0M446.9 985.3h0M478.4 977.1h0M497.2 1013.5h0M504.8 994.7h0M448.5 1045.3h0M407.2 990.3h0M360.1 922.2h0M489.1 991.9h0M504.5 971.9h0M460.8 926.0h0M499.6 758.7h0M472.5 982.3h0M403.9 1045.0h0M396.4 982.6h0M472.7 936.2h0M402.7 864.0h0M470.5 1041.3h0M461.2 780.3h0M438.5 947.9h0M398.4 914.8h0M416.2 822.1h0M271.3 1047.8h0M386.5 891.5h0M467.7 1016.4h0M461.9 808.6h0M509.0 954.0h0M474.2 953.0h0M400.3 1020.5h0M498.3 947.4h0M386.6 932.0h0M456.1 970.2h0M488.8 928.3h0M415.3 957.5h0M405.0 991.6h0M503.7 813.2h0M460.8 933.0h0M466.5 1037.6h0M394.5 1075.0h0M474.7 971.0h0M417.0 842.0h0M438.2 794.5h0"/><path id="c5yg" d="M515.4 857.4h0M517.5 874.1h0M504.4 738.4h0M524.7 841.9h0M498.0 929.3h0M479.5 773.4h0M517.7 862.3h0M487.8 747.9h0M386.4 889.5h0M474.8 1046.8h0M488.1 787.6h0M490.6 734.0h0M520.2 775.1h0"/><path id="c5o" d="M375.0 944.6h0M466.0 957.2h0M485.3 944.9h0"/><path id="c6m" d="M517.0 906.4h0M388.6 1081.4h0M426.0 957.6h0M287.3 1137.0h0M484.8 891.6h0M487.8 799.0h0M412.0 858.7h0M431.9 829.4h0M487.0 880.8h0M463.5 856.2h0M505.3 836.8h0M381.6 1065.4h0M446.8 916.7h0M372.0 1117.8h0M456.0 918.8h0M432.4 968.9h0M420.7 998.1h0M436.6 840.7h0M460.7 872.0h0M467.5 808.0h0M442.6 936.3h0M458.4 839.7h0M444.2 908.6h0M421.4 862.3h0M470.7 848.4h0M419.3 888.1h0M460.2 901.5h0M430.4 1036.2h0M417.6 847.9h0M425.4 1014.7h0M483.5 807.8h0M385.6 1046.7h0M507.9 732.4h0M338.8 918.4h0M407.0 1013.8h0M478.4 846.3h0M468.7 930.8h0M475.1 894.2h0M468.7 840.1h0M386.1 882.6h0M465.1 998.6h0M449.8 996.9h0M377.9 904.5h0M455.8 857.9h0M491.9 801.0h0M477.1 1007.1h0M320.6 905.3h0M474.4 945.8h0M422.5 967.9h0M499.0 843.8h0M238.9 1131.5h0M380.6 870.8h0M414.6 1088.6h0M466.2 988.4h0M450.7 1049.1h0M402.8 1049.7h0M338.7 915.0h0M446.6 1036.2h0M482.4 878.1h0M503.8 868.3h0M447.2 975.9h0M446.2 810.3h0M421.4 871.3h0M524.6 750.4h0M343.7 896.2h0M484.9 855.4h0M489.3 862.3h0M354.0 956.6h0M412.7 965.3h0M436.6 837.7h0M400.2 1073.2h0M499.7 955.5h0M406.6 904.1h0M408.0 995.4h0M391.8 922.4h0M450.7 821.6h0M349.9 915.8h0M468.0 956.6h0M458.4 890.3h0M453.6 796.4h0M466.4 980.2h0M487.2 862.8h0M486.5 925.8h0M398.7 871.8h0M462.6 891.7h0M410.1 819.9h0M425.0 939.7h0M496.1 901.6h0M451.2 880.1h0M442.6 1077.3h0M500.7 808.3h0M455.7 949.5h0M506.8 905.8h0M499.9 917.0h0M403.4 900.4h0M467.1 903.7h0M494.3 857.2h0M408.6 861.1h0M418.1 900.2h0M491.8 877.2h0M425.4 912.9h0M436.5 863.3h0M377.3 902.3h0M491.2 816.9h0M303.4 969.0h0M410.5 920.0h0M474.2 899.4h0M458.7 1053.5h0M450.5 994.9h0M368.5 949.9h0M317.7 928.2h0M424.0 854.4h0M497.4 929.0h0M376.6 1025.2h0M470.1 837.2h0M388.1 854.4h0M413.1 854.1h0M459.0 1063.8h0M302.5 952.1h0M360.7 955.4h0M504.6 895.6h0M472.0 893.8h0M154.0 1061.6h0M393.6 882.2h0M426.2 923.0h0M500.6 818.1h0M487.7 990.9h0M492.0 1023.3h0M475.0 945.1h0"/><path id="c6c" d="M297.3 1116.8h0M207.1 1113.2h0M364.8 1037.6h0M112.3 1050.8h0M274.0 977.1h0M200.7 1097.6h0M414.7 830.6h0M192.7 997.0h0M419.7 922.2h0M234.4 964.3h0M356.5 1077.0h0M162.9 1062.0h0M371.7 1049.1h0M291.2 1114.3h0M243.3 1041.7h0M188.7 1021.3h0M203.9 1128.6h0M356.0 1115.0h0M352.4 884.7h0M367.5 966.5h0M154.6 1011.4h0M354.5 1069.5h0M181.9 1072.5h0M117.8 1004.0h0M373.8 1014.7h0M369.9 933.7h0M502.1 966.2h0M264.7 1052.6h0M296.5 913.9h0M174.7 1099.0h0M294.7 1064.5h0M382.1 999.1h0M262.5 1042.2h0M123.4 1071.8h0M320.2 1029.8h0M207.7 1066.1h0M251.6 1012.8h0M241.1 1009.7h0M122.4 1017.7h0M266.2 962.0h0M366.6 1061.7h0M140.9 1007.6h0M371.0 991.4h0M228.8 980.1h0M289.1 1042.4h0M158.4 1039.3h0M468.9 770.4h0M110.5 1054.2h0M284.9 934.3h0M404.1 1056.8h0M283.4 1107.6h0M226.2 1095.3h0M191.8 1071.1h0M365.7 987.3h0M291.9 1076.9h0M310.5 1013.7h0M244.7 1079.3h0M264.6 981.1h0M181.9 1040.5h0M252.1 1028.9h0M342.5 1038.9h0M364.2 941.5h0M360.1 964.7h0M147.1 1078.5h0M209.5 1027.5h0M328.7 906.2h0M406.0 1080.8h0M351.8 917.9h0M270.1 934.5h0M310.9 914.3h0M225.8 1033.7h0M212.8 979.1h0M239.0 1111.0h0M339.2 1112.0h0M307.4 953.9h0M115.2 1049.0h0M500.3 903.2h0M375.2 1021.0h0M199.5 977.3h0M217.5 1129.7h0M213.6 1065.4h0M173.8 1103.3h0M349.1 1006.3h0M206.4 1117.5h0M367.8 990.5h0M466.5 840.3h0M287.2 1020.3h0M283.2 1014.2h0M131.1 1064.7h0M300.2 1088.7h0M348.8 899.9h0M251.6 1050.9h0M354.9 984.8h0M168.5 988.1h0M151.7 995.0h0M154.1 1069.9h0M457.9 1007.8h0M381.1 1117.3h0M284.2 1121.7h0M315.4 1104.1h0M176.0 1019.6h0M253.4 1093.3h0M184.3 1048.2h0M279.7 1116.1h0M311.5 1118.1h0M334.3 1054.3h0M340.3 1013.1h0M153.8 1017.0h0M230.3 1104.5h0M305.2 1070.4h0M328.9 952.0h0M241.5 1059.8h0M266.1 1030.0h0M308.6 901.0h0M202.3 993.8h0M396.6 1049.6h0M378.6 1050.5h0M360.9 1023.1h0M300.2 964.5h0M226.3 970.5h0M113.3 1021.6h0M446.7 1020.1h0M433.0 895.5h0M369.6 969.7h0M272.4 1005.6h0M297.6 1047.3h0M249.0 1083.0h0M273.2 1100.6h0M274.8 1003.3h0M269.5 1069.0h0M158.9 988.1h0M212.0 997.3h0M259.5 974.8h0M372.5 1035.4h0M501.0 983.0h0M287.8 922.1h0M101.5 1009.3h0M291.8 949.1h0M374.3 1091.4h0M309.3 1065.9h0M285.6 1101.7h0M326.8 924.8h0M163.6 1098.7h0M425.3 970.7h0M330.6 1057.6h0M343.3 983.0h0M340.2 937.5h0M405.7 1036.0h0M369.9 952.2h0M420.9 956.5h0M332.9 1097.3h0M224.3 1040.6h0M186.9 1065.5h0M169.8 1000.8h0M193.7 992.2h0M364.2 992.5h0M295.5 920.7h0M135.1 1038.4h0M148.2 1029.8h0M228.1 1066.7h0M512.6 957.6h0M381.9 1093.1h0M332.3 936.0h0M379.8 1033.0h0M251.6 1109.5h0M350.3 1008.1h0M411.2 920.8h0M220.9 1038.8h0M229.0 1014.9h0M249.9 1125.6h0M312.9 945.7h0M319.4 1127.4h0M199.9 1120.4h0M426.2 953.3h0M363.5 981.1h0M405.1 1060.5h0M442.9 1001.7h0M277.5 1101.2h0M387.9 1033.7h0M216.0 1120.4h0M393.7 1055.2h0M372.9 1041.2h0M360.8 1111.9h0M115.4 1006.8h0M346.7 1061.1h0M222.6 1129.4h0M436.3 1074.3h0M368.4 963.3h0M427.2 863.8h0M244.2 971.4h0M381.6 1113.2h0M283.7 1137.0h0M344.0 1074.5h0M215.6 983.1h0M256.9 1119.5h0M299.6 937.3h0M265.0 1151.9h0M456.1 1055.9h0M264.1 978.0h0M228.7 1096.9h0M158.0 1051.0h0M381.8 969.6h0M517.7 877.8h0M294.6 975.0h0M316.3 1072.9h0M242.0 1144.5h0M438.7 937.2h0M429.2 799.5h0M114.9 1034.9h0M411.2 1042.8h0M293.4 1046.8h0M404.7 886.0h0M237.6 1040.1h0M235.2 1047.8h0M272.5 940.6h0M349.6 1034.5h0M414.9 1092.0h0M381.0 1023.7h0M282.6 929.1h0M473.2 1050.2h0M137.9 1062.2h0M354.9 885.1h0M371.4 981.4h0M305.1 932.5h0M243.1 1067.7h0M244.3 1061.4h0M306.5 1109.1h0M302.4 984.5h0M304.9 1012.5h0M424.1 1045.9h0M381.3 1040.3h0M369.4 1081.1h0M326.5 1137.0h0M384.8 1002.1h0M224.3 1080.5h0M298.5 1001.7h0M217.1 1060.4h0M247.6 1054.2h0M300.6 920.7h0M383.1 1101.6h0M225.1 1075.2h0M159.2 979.1h0M476.0 804.7h0M179.5 1021.6h0M359.3 1013.0h0M382.4 924.5h0M369.9 995.5h0M98.9 1024.8h0M276.2 971.7h0M345.3 1029.2h0M279.1 1098.2h0M190.0 1035.8h0M137.7 1039.6h0M413.0 1007.5h0M329.0 1072.5h0M215.9 1110.2h0M161.3 1032.6h0M196.2 1094.5h0M267.5 997.1h0M246.4 1117.8h0M329.4 1024.7h0M195.3 1014.4h0M171.0 1079.1h0M305.4 1112.4h0M263.1 1123.3h0M137.1 1031.0h0M477.0 798.8h0M380.9 1131.5h0"/><path id="c6y" d="M443.6 886.2h0M370.1 829.8h0M465.5 868.8h0M342.9 893.8h0M399.1 933.7h0M451.7 835.6h0M491.9 758.3h0M307.9 1119.0h0M436.5 914.2h0M454.5 795.0h0M160.6 1079.4h0M427.4 829.5h0M392.3 830.4h0M431.7 973.9h0M331.0 1079.4h0M522.9 776.6h0M401.3 1016.4h0M425.0 824.3h0M436.1 1074.9h0M318.1 1093.6h0M505.7 771.3h0M517.9 779.9h0M527.3 878.0h0M504.3 799.8h0M526.2 770.0h0M398.3 1037.8h0M506.8 813.7h0M360.1 853.4h0M525.0 875.8h0M414.3 883.7h0M514.8 862.7h0M526.3 836.3h0M474.5 918.5h0M513.4 778.2h0M369.2 841.4h0M507.3 849.4h0M340.4 933.7h0M375.2 853.3h0M379.1 1131.2h0M335.7 1004.9h0M515.4 772.3h0M535.0 771.6h0M555.1 774.4h0M457.0 881.1h0M294.3 947.4h0M353.0 909.6h0M493.4 743.2h0M279.2 909.1h0M538.6 873.5h0M426.3 827.1h0M531.5 881.1h0M550.2 773.3h0M310.6 898.8h0M207.2 1087.5h0M309.0 1006.5h0M274.7 1135.8h0M532.4 878.2h0M465.8 1016.7h0M507.0 799.5h0M549.8 767.4h0M263.7 1059.6h0M248.1 967.1h0M352.2 903.0h0M231.1 1119.2h0M335.8 877.4h0M412.0 1032.0h0M522.8 857.7h0M530.8 770.0h0M517.2 789.8h0M524.6 851.5h0M438.9 923.8h0M462.2 1036.0h0M437.7 985.6h0M275.2 948.3h0M349.1 890.6h0M257.0 969.1h0M511.7 812.9h0M432.7 1057.9h0M364.2 1124.4h0M540.4 814.1h0M305.7 922.8h0M380.3 895.4h0M479.1 1033.7h0M163.5 1093.7h0M557.7 770.1h0M269.8 1153.1h0M348.5 854.9h0M265.8 935.5h0M412.5 1003.4h0M511.5 747.6h0M319.2 912.2h0M362.6 911.1h0M497.7 905.7h0M525.1 850.1h0M512.1 1004.0h0M269.2 927.1h0M349.0 978.9h0M383.1 828.3h0M497.3 737.5h0M381.5 932.7h0M533.1 865.2h0M375.8 855.3h0M455.6 964.8h0M508.3 845.4h0M273.2 911.7h0M338.5 1123.7h0"/><path id="c6yg" d="M508.4 754.8h0M446.0 1001.8h0M492.0 767.0h0M263.0 946.2h0M527.2 837.5h0M472.4 766.3h0M433.0 860.7h0M347.1 860.3h0M485.7 1012.2h0M486.8 735.6h0M488.7 751.7h0M520.9 834.8h0M449.5 869.0h0M508.5 971.3h0M480.1 765.3h0"/><path id="c6o" d="M441.0 803.5h0M482.4 987.5h0"/><path id="c7m" d="M446.3 878.6h0M474.9 818.9h0M413.5 1076.1h0M408.2 978.9h0M419.1 879.2h0M475.8 964.8h0M361.5 872.9h0M501.1 870.4h0M471.0 857.7h0M315.1 924.3h0M407.1 1074.7h0M468.7 835.1h0M404.0 906.6h0M413.0 1055.4h0M468.2 787.8h0M411.7 1088.8h0M440.2 816.6h0M405.9 856.3h0M386.5 947.1h0M474.5 1003.6h0M486.4 873.1h0M470.3 1057.0h0M404.7 1086.2h0M383.7 952.5h0M502.0 791.6h0M489.1 887.1h0M414.7 818.9h0M453.1 886.5h0M441.6 977.5h0M432.4 978.7h0M495.9 808.3h0M361.4 869.1h0M259.9 956.8h0M477.3 955.8h0M506.4 981.9h0M454.1 1050.6h0M436.9 994.8h0M476.2 934.7h0M422.1 915.9h0M491.9 827.7h0M397.8 954.1h0M440.9 918.0h0M429.2 949.2h0M420.7 972.8h0M384.9 937.9h0M495.5 1024.6h0M465.8 859.0h0M411.2 913.3h0M474.7 904.0h0M425.1 1086.4h0M441.9 1018.9h0M477.4 1024.1h0M427.2 902.4h0M385.5 1125.8h0M499.7 1006.2h0M491.2 1003.9h0M487.1 854.6h0M491.8 1013.8h0M404.8 927.9h0M414.3 872.8h0M429.8 920.9h0M473.2 914.5h0M332.1 916.2h0M381.1 874.9h0M448.4 783.4h0M424.5 872.2h0M411.6 829.3h0M449.7 893.2h0M446.9 1030.7h0M462.4 974.5h0M392.1 931.6h0M441.8 808.8h0M405.4 998.2h0M399.4 1001.5h0M470.0 852.5h0M436.6 972.5h0M495.5 801.8h0M401.3 943.4h0M470.6 986.8h0M479.2 964.7h0M458.4 1060.8h0M452.1 851.9h0M385.7 1124.5h0M487.8 1013.4h0M443.8 875.1h0M498.9 979.1h0M484.4 794.9h0M417.2 883.3h0M451.1 862.5h0M495.2 808.5h0M438.3 1046.7h0M378.0 870.8h0M488.1 1000.3h0M383.6 1048.4h0M456.6 817.9h0M458.1 925.0h0M506.2 985.8h0M437.2 908.5h0M436.7 790.8h0M297.1 1007.5h0M453.4 873.7h0M412.0 901.7h0M391.2 918.0h0M471.2 971.9h0M507.8 964.1h0M302.1 1120.1h0M420.9 919.0h0M481.4 810.8h0M440.8 899.0h0M393.7 885.5h0M498.6 729.2h0M370.0 842.0h0M417.9 860.6h0M454.6 899.0h0M472.8 755.3h0M376.7 937.4h0M481.0 999.2h0M450.5 877.5h0M403.6 1092.9h0M411.3 957.1h0M400.5 893.1h0M397.7 985.2h0M430.5 924.5h0M481.7 955.5h0M471.2 898.0h0M458.6 974.5h0M425.4 1017.6h0M487.7 837.6h0M439.3 1069.9h0M313.5 936.5h0M482.8 963.0h0M457.8 956.6h0M520.1 959.6h0M503.1 1013.1h0M409.0 959.0h0M487.2 1008.9h0M484.5 884.7h0M294.9 1124.4h0M150.8 1051.7h0M435.4 1040.6h0M397.9 941.5h0"/><path id="c7y" d="M551.2 795.2h0M534.9 776.3h0M448.2 902.1h0M253.2 982.6h0M478.8 1028.9h0M510.6 737.0h0M325.8 881.9h0M230.9 986.2h0M447.0 923.3h0M233.2 1100.3h0M512.7 733.7h0M191.5 1099.2h0M461.4 867.6h0M494.3 731.4h0M528.2 763.5h0M521.7 750.4h0M443.4 981.7h0M514.8 976.2h0M520.0 853.0h0M369.6 931.9h0M442.3 1037.6h0M277.6 915.5h0M520.7 825.1h0M341.7 929.5h0M318.9 1124.4h0M391.5 1123.5h0M491.5 741.6h0M467.1 935.3h0M436.9 1051.5h0M519.4 804.7h0M513.5 857.1h0M471.5 969.0h0M463.7 808.5h0M518.1 748.0h0M385.5 819.4h0M530.0 852.5h0M124.7 1059.2h0M284.1 900.7h0M269.0 983.7h0M429.4 908.2h0M516.3 960.1h0M501.7 762.3h0M374.0 1066.4h0M514.3 741.2h0M453.0 999.7h0M520.8 866.7h0M480.0 792.2h0M507.0 840.0h0M470.9 774.5h0M303.3 909.4h0M344.6 1124.3h0M262.3 996.3h0M461.5 875.6h0M439.9 803.7h0M405.3 825.8h0M419.5 808.9h0M300.8 908.0h0M254.1 1130.5h0M432.1 1019.0h0M278.1 1153.4h0M539.2 808.3h0M385.8 1119.5h0M466.7 803.7h0M363.8 930.9h0M505.7 903.8h0M408.7 814.5h0M472.9 750.7h0M351.8 966.8h0M370.7 867.3h0M290.9 1142.2h0M471.3 869.6h0M410.5 1096.4h0M394.5 876.8h0M212.1 981.4h0M537.6 811.8h0M317.9 977.0h0M312.8 942.9h0M377.8 888.9h0M406.2 959.7h0M503.3 768.9h0M290.1 899.8h0M552.9 791.2h0M478.6 844.6h0M393.2 939.7h0M331.3 885.8h0M528.7 789.9h0M433.1 870.3h0M520.3 812.6h0M493.3 997.6h0M395.9 966.9h0M508.9 895.7h0M103.9 1046.1h0"/><path id="c7c" d="M380.0 830.6h0M341.0 906.2h0M202.7 1067.3h0M379.8 1097.4h0M457.0 815.0h0M363.9 936.7h0M402.5 1038.8h0M155.4 993.6h0M307.4 978.9h0M184.9 1103.5h0M312.6 921.1h0M243.5 1137.7h0M266.8 1055.8h0M302.0 1124.8h0M156.0 1062.1h0M232.9 1023.9h0M127.9 1074.6h0M203.9 1053.0h0M330.6 929.4h0M340.6 977.6h0M235.6 1085.2h0M273.6 1015.3h0M329.7 911.6h0M431.2 1054.0h0M235.2 1123.4h0M164.5 1068.1h0M276.6 1128.7h0M394.3 1110.3h0M388.2 943.5h0M199.2 1026.9h0M111.4 1044.3h0M170.3 982.9h0M307.5 1033.1h0M334.2 915.2h0M127.0 1056.8h0M125.9 1016.7h0M360.7 1028.8h0M206.4 1077.3h0M130.6 996.6h0M251.1 1078.5h0M358.0 1117.5h0M315.9 1000.2h0M290.1 1078.4h0M367.9 1097.1h0M212.0 1028.8h0M347.1 1139.4h0M383.6 830.0h0M367.7 980.8h0M259.4 959.1h0M262.1 1096.4h0M240.1 999.2h0M244.9 1103.9h0M256.8 1022.6h0M210.3 1039.7h0M170.0 1016.5h0M297.2 1072.6h0M309.4 1107.8h0M204.8 1038.6h0M266.3 1129.6h0M227.1 1083.6h0M337.6 1078.8h0M381.1 920.1h0M160.2 1045.2h0M131.8 1047.4h0M434.3 851.9h0M456.4 1002.1h0M325.0 1149.6h0M144.5 1066.6h0M298.1 1025.1h0M238.1 1063.7h0M356.6 972.2h0M352.0 1075.1h0M235.6 1139.6h0M166.5 1107.9h0M253.7 1099.3h0M299.9 925.1h0M163.3 1086.1h0M349.8 1094.0h0M307.5 916.7h0M389.3 1014.3h0M118.1 1056.5h0M356.1 903.1h0M389.2 1070.0h0M233.2 995.5h0M231.1 1001.1h0M352.3 1045.5h0M255.0 1011.1h0M379.2 1083.0h0M324.5 971.4h0M329.9 989.5h0M427.1 1029.8h0M193.4 1041.5h0M330.6 1120.2h0M286.2 1094.9h0M327.0 1014.6h0M137.1 1034.1h0M200.6 1018.1h0M239.4 1019.0h0M160.0 1071.2h0M282.9 937.7h0M371.0 1096.0h0M251.5 1006.8h0M227.2 975.4h0M296.1 1142.4h0M293.9 1135.6h0M266.5 981.8h0M222.3 1125.9h0M177.2 1109.6h0M260.1 1039.5h0M181.8 1008.1h0M275.6 921.1h0M243.7 1066.2h0M252.3 1034.5h0M202.0 1084.1h0M169.8 1063.1h0M300.8 1013.3h0M210.2 1101.9h0M337.5 1019.3h0M167.2 1089.2h0M245.2 1069.2h0M265.4 1035.5h0M184.0 1090.0h0M334.0 1013.4h0M261.3 1100.2h0M342.7 911.7h0M264.4 1009.9h0M340.2 1090.4h0M198.3 1051.6h0M276.8 937.4h0M277.3 1057.0h0M211.7 1065.1h0M304.2 1035.5h0M437.7 1026.7h0M341.4 973.9h0M388.6 1051.9h0M165.1 1004.7h0M330.5 1012.1h0M299.4 1039.4h0M372.4 1093.6h0M291.6 1129.9h0M144.3 1039.2h0M208.5 1002.2h0M200.9 1087.1h0M470.6 912.3h0M167.4 985.3h0M317.1 1077.5h0M138.0 1070.5h0M408.0 890.6h0M271.6 1093.4h0M237.3 1087.4h0M385.7 1093.4h0M165.3 1053.7h0M479.9 1018.9h0M455.2 1066.3h0M133.5 999.7h0M431.9 1076.6h0M288.7 974.5h0M396.2 1080.2h0M369.5 1068.3h0M279.8 987.2h0M362.4 1017.9h0M202.7 1074.5h0M223.9 1014.6h0M415.7 1040.1h0M436.9 921.1h0M244.6 1130.0h0M255.6 1102.8h0M154.0 1038.8h0M223.8 1116.5h0M463.6 826.8h0M436.4 1002.6h0M337.6 888.0h0M108.3 1032.4h0M272.7 1130.8h0M324.2 1106.7h0M386.8 1034.1h0M417.0 1083.7h0M300.7 1080.3h0M357.0 1106.6h0M400.3 1062.8h0M186.9 1095.6h0M296.3 1097.5h0M250.0 1059.7h0M351.7 1086.5h0M230.1 1078.3h0M336.7 927.8h0M463.2 774.9h0M198.8 1079.5h0M352.7 986.2h0M337.5 942.7h0M148.5 1015.4h0M335.9 1138.5h0M362.9 1020.5h0M381.4 1066.6h0M341.8 1052.7h0M122.7 1036.4h0M397.9 1119.8h0M253.6 1081.8h0M351.8 992.8h0M147.0 989.2h0M146.4 991.4h0M137.4 1067.4h0M297.8 952.5h0M266.1 991.6h0M261.2 1067.7h0M314.1 899.4h0M189.7 1064.2h0M210.7 1015.7h0M154.0 1033.9h0M485.0 1030.2h0M434.9 847.9h0M313.7 1023.7h0M316.7 1063.9h0M323.6 1032.3h0M287.8 899.1h0M233.4 1104.3h0M520.5 973.3h0M396.1 964.6h0M175.8 1072.7h0M308.4 1062.0h0M226.0 1028.0h0M456.5 956.1h0M390.7 1072.5h0M192.1 1112.6h0M196.6 982.3h0M356.7 1040.3h0M346.8 1017.9h0M221.5 1062.5h0M139.4 990.5h0M176.2 1013.6h0M333.1 1142.0h0M250.9 985.0h0M105.1 1031.2h0M158.9 1008.1h0M193.8 1078.1h0M394.1 1093.5h0M368.0 949.9h0M166.4 1013.8h0M349.8 1032.8h0M245.4 1021.3h0M402.4 1089.8h0M205.1 1057.5h0M100.7 1014.2h0M113.6 1030.5h0M280.6 952.3h0M217.1 1067.0h0M146.6 981.0h0M329.8 997.5h0M277.8 1148.9h0M378.6 1087.2h0M178.3 1090.8h0M233.5 1142.9h0M239.1 1020.8h0M180.1 1081.5h0M212.8 1016.3h0M304.8 1139.4h0M361.8 922.3h0M383.5 1104.9h0M268.2 1012.3h0M141.0 990.6h0M290.3 903.4h0M333.7 954.1h0M381.6 1099.8h0M319.1 1024.9h0M149.6 1059.4h0M324.4 947.6h0M228.6 1124.7h0M492.8 793.0h0M251.3 1045.8h0M269.5 1061.7h0"/><path id="c7o" d="M486.7 905.5h0M503.5 831.6h0M383.6 948.9h0M498.2 898.8h0M470.7 793.0h0"/><path id="c7yg" d="M503.7 802.0h0M522.9 806.4h0M504.2 866.3h0M528.7 780.2h0M499.0 781.2h0M528.4 879.6h0M511.7 801.7h0M518.5 787.1h0M534.0 761.5h0M403.2 943.1h0M449.3 963.7h0M502.2 780.3h0"/><path id="d0te" d="M772.9 1094.1h0M732.6 1080.3h0M949.5 738.4h0M971.9 827.8h0M728.9 943.5h0M724.2 984.0h0M793.0 1015.8h0M826.3 925.1h0M873.5 934.0h0M696.7 943.0h0M715.4 931.8h0M727.8 986.5h0M726.6 968.1h0M904.5 977.1h0M1027.3 824.0h0M757.0 939.6h0M889.5 1114.2h0M1015.3 827.9h0M896.4 829.3h0M732.4 1103.9h0M938.1 845.1h0M823.7 1019.5h0"/><path id="d0gb" d="M773.4 1012.2h0M882.0 967.7h0M706.7 1006.0h0M741.5 917.3h0M884.3 946.7h0M776.6 901.1h0M764.5 909.2h0M842.9 1107.3h0M773.5 1068.0h0M735.6 1018.7h0M770.2 887.0h0M834.3 1002.9h0M694.8 1011.8h0M888.7 1066.2h0"/><path id="d0cy" d="M748.1 986.5h0M693.6 971.4h0M777.2 950.4h0M857.5 979.3h0M712.4 964.8h0M821.9 896.3h0M752.4 929.6h0M696.4 988.7h0M832.8 1087.0h0M760.6 914.6h0M878.1 942.5h0M808.6 992.2h0M852.0 990.8h0M825.7 954.1h0M794.2 1096.6h0M899.6 994.8h0M755.9 1116.1h0M754.8 1017.5h0M793.9 975.0h0M804.6 974.5h0M876.6 978.5h0M739.4 882.3h0M718.9 912.5h0M784.5 926.8h0M816.2 1144.1h0M842.4 1024.2h0M867.5 979.2h0M880.2 899.3h0M704.1 962.7h0M809.4 1082.2h0M706.1 981.9h0M788.6 1063.0h0M710.6 1045.3h0M793.6 910.4h0M806.5 1062.1h0M832.2 1037.0h0M733.6 911.3h0M710.8 943.6h0M892.8 980.7h0M785.9 885.7h0M702.9 925.2h0M895.7 957.0h0M855.0 935.6h0M939.9 754.4h0M909.3 913.1h0M794.7 965.4h0M810.7 999.4h0M823.9 1042.3h0M706.1 951.6h0M790.5 1002.3h0M712.0 905.0h0M1063.1 852.9h0M907.3 1056.3h0M760.8 952.2h0M886.2 915.4h0M844.0 925.5h0M859.2 1100.1h0M909.8 995.5h0M751.8 871.9h0M811.7 921.6h0M729.4 889.7h0M923.0 847.1h0M869.5 1075.1h0M860.1 944.0h0M768.3 1068.5h0M728.0 1074.9h0M939.0 923.2h0M809.9 1048.1h0M827.8 978.7h0M857.4 1009.2h0M743.9 1073.1h0M880.2 824.2h0M841.1 900.6h0M831.8 927.3h0M816.7 1080.2h0M757.7 1087.1h0M840.8 1116.2h0M787.9 873.3h0M844.9 906.7h0M732.5 936.8h0M971.8 803.7h0M770.0 1122.9h0M747.7 1016.2h0M797.2 1119.4h0M740.8 1064.3h0M926.8 765.4h0M740.1 1082.4h0M827.4 958.6h0M770.9 958.3h0M798.5 870.4h0M856.1 931.7h0M836.6 1054.1h0M712.0 1031.8h0M838.9 1018.8h0M723.3 976.5h0M817.3 921.7h0M849.5 1122.9h0M774.5 941.6h0M810.7 915.1h0M724.9 901.0h0M958.8 733.2h0M794.6 1069.3h0M744.3 1109.2h0M784.7 1051.3h0M824.3 1060.4h0M1006.0 842.5h0"/><path id="d0or" d="M1010.5 786.5h0M939.2 1094.9h0M1035.2 933.8h0M980.7 1095.1h0M964.2 1024.0h0M1050.9 830.7h0M1068.0 954.2h0M1055.7 978.1h0M1015.3 1051.8h0M1020.1 1030.6h0M1088.2 881.1h0M1048.3 880.3h0"/><path id="d0sl" d="M1031.9 793.7h0M971.8 788.5h0M968.5 860.4h0M940.4 857.3h0M888.2 904.5h0M1077.7 998.0h0M896.6 873.1h0M968.0 735.9h0M829.5 974.2h0M995.6 758.3h0M1051.7 810.6h0M748.9 957.4h0M861.6 839.7h0M1002.2 737.9h0M948.9 753.0h0M785.1 1021.3h0"/><path id="d0vi" d="M843.6 855.4h0M963.1 745.6h0M989.9 753.0h0"/><path id="d0ye" d="M955.0 1000.0h0M1102.8 1059.9h0M1122.5 998.1h0M1082.6 996.3h0M1058.9 961.5h0M1037.3 874.7h0M945.9 1047.0h0M1100.9 935.6h0M1095.0 988.8h0M876.0 991.5h0M1039.3 983.7h0M979.1 902.9h0M1042.4 988.2h0M997.7 986.0h0M1079.1 873.4h0M1040.8 940.2h0M1023.3 1038.5h0M932.4 1094.5h0M1055.7 1032.8h0M1150.1 944.5h0M1037.9 967.1h0M1067.9 906.6h0M1117.9 951.9h0M993.9 975.4h0M927.0 1108.0h0M918.5 1077.3h0M905.5 797.0h0"/><path id="d0pk" d="M1010.7 776.4h0M875.8 849.0h0M1028.0 817.5h0M1095.3 947.3h0M1121.5 948.0h0M996.2 857.9h0"/><path id="d0sa" d="M1030.2 903.0h0M1085.6 849.5h0M956.8 749.3h0M902.7 1103.8h0M931.5 1102.0h0M1056.4 971.7h0M1026.8 752.0h0M1048.7 1022.8h0M1105.9 1065.3h0"/><path id="d0mv" d="M1088.7 935.2h0M916.5 763.1h0M913.3 773.0h0M929.8 789.7h0M975.4 955.1h0M975.5 771.4h0M940.5 951.9h0M948.3 836.7h0M1001.6 795.1h0M918.4 871.5h0M963.2 852.4h0M1041.9 828.1h0M938.2 741.0h0M869.1 855.0h0"/><path id="d0sb" d="M755.7 1093.6h0M879.0 1002.3h0M830.4 1047.7h0M891.7 897.9h0M792.7 1109.0h0M913.9 856.8h0M859.5 1121.3h0"/><path id="d0bk" d="M956.5 972.3h0M892.5 1080.9h0M874.5 867.9h0M867.2 1110.6h0M918.6 838.4h0M883.6 1065.6h0M997.3 740.8h0M882.6 897.4h0"/><path id="d0mg" d="M784.9 917.6h0M1010.4 885.5h0M906.8 1021.7h0M1104.6 959.9h0M1053.3 785.9h0M942.7 980.5h0M972.3 1026.6h0M960.8 820.9h0M990.8 926.1h0M904.5 814.0h0M997.2 1050.6h0M1076.7 1055.0h0M1036.2 767.2h0"/><path id="d0pu" d="M951.6 875.2h0M959.0 924.1h0M909.1 1090.7h0M947.8 765.9h0M936.6 816.7h0M1039.2 765.0h0"/><path id="d0ta" d="M915.8 1057.2h0M907.4 918.6h0M1066.9 962.5h0M1099.1 951.0h0"/><path id="d0ol" d="M1135.0 1001.9h0M1119.3 1031.9h0M1066.7 1031.1h0"/><path id="d0gr" d="M940.4 801.3h0"/><path id="d0go" d="M1128.1 917.9h0"/><path id="d1cy" d="M799.5 1131.1h0M925.9 978.0h0M753.5 958.1h0M874.3 924.5h0M862.6 930.6h0M806.0 896.1h0M887.9 816.6h0M781.7 1017.8h0M803.8 946.0h0M994.4 806.9h0M999.5 811.4h0M719.4 1030.1h0M901.8 811.4h0M696.5 957.5h0M905.0 1065.7h0M814.2 1060.7h0M789.8 863.0h0M855.3 1113.6h0M948.1 1050.9h0M960.9 732.2h0M752.4 985.6h0M863.3 1066.6h0M769.8 1025.3h0M708.6 1011.4h0M758.2 910.8h0M979.7 764.0h0M825.8 1065.5h0M836.2 911.9h0M799.5 890.8h0M961.3 790.6h0M867.5 1048.8h0M905.8 777.4h0M811.1 1097.0h0M774.5 1026.7h0M977.4 927.9h0M880.4 1043.3h0M755.7 1074.1h0M807.5 876.2h0M726.6 1027.0h0M765.8 1016.7h0M791.1 1072.3h0M710.8 1001.7h0M1000.1 840.0h0M818.2 1123.2h0M720.3 1080.6h0M895.1 922.6h0M769.2 939.9h0M814.3 1090.0h0M798.0 1136.6h0M803.1 937.9h0M799.3 927.8h0M798.2 1101.3h0M776.6 1061.5h0M701.5 1024.1h0M744.4 1096.1h0M721.5 946.8h0M856.8 1114.7h0M958.6 767.9h0M985.0 1044.0h0M765.8 943.7h0M786.1 892.3h0M846.5 1044.8h0M822.2 1008.2h0M730.5 965.1h0M753.4 1047.1h0M779.5 1100.7h0M870.0 1032.5h0M810.5 1030.1h0M713.6 916.2h0M746.1 916.7h0M773.2 1063.1h0M731.2 1020.0h0M904.9 949.9h0M810.1 1038.6h0M870.4 1089.3h0M855.7 1103.3h0M802.5 1149.1h0M753.3 902.2h0M781.1 949.7h0M837.6 932.5h0M696.6 1028.5h0M791.0 883.3h0M817.5 906.0h0M745.5 853.8h0M941.0 767.2h0M760.0 896.8h0M898.3 1091.4h0M790.3 1086.1h0M819.8 839.2h0M785.1 1067.7h0M772.9 983.7h0M875.7 1027.1h0M802.7 1133.0h0M843.2 872.7h0M840.3 1042.6h0M768.0 1096.9h0M839.8 1096.9h0M739.7 990.2h0M734.2 1065.8h0M791.6 1050.4h0M840.9 875.8h0"/><path id="d1ye" d="M926.2 882.0h0M951.1 801.7h0M1071.4 877.5h0M974.1 938.9h0M1084.6 1059.4h0M1097.7 992.7h0M1137.2 1027.8h0M1043.8 894.6h0M1042.5 1000.8h0M948.7 1040.7h0M1077.2 897.4h0M1009.3 986.7h0M1129.0 910.3h0M1091.6 851.4h0M1123.2 949.5h0M1110.5 1045.0h0M993.1 949.7h0M992.3 1003.7h0M1085.4 951.4h0M1039.2 1045.5h0M1029.6 1020.0h0M931.7 1051.9h0M935.1 1078.8h0M1037.6 973.7h0M989.6 968.0h0M981.3 992.2h0M1104.6 906.1h0M950.8 1061.0h0M1105.3 888.7h0M972.6 997.7h0M1030.7 781.4h0M1129.1 1053.7h0M1105.3 922.0h0M1041.5 950.9h0M1033.3 1036.1h0M1119.0 974.9h0M1038.9 1007.9h0M1043.5 959.1h0M1023.2 981.0h0M1121.0 1056.5h0M982.3 1060.8h0M1132.4 939.0h0"/><path id="d1sl" d="M967.9 777.4h0M934.2 771.7h0M869.7 824.1h0M738.6 902.4h0M886.4 1105.0h0M961.4 877.5h0M898.0 1026.1h0M901.1 1099.3h0M939.9 788.5h0M933.5 880.6h0M946.7 833.2h0"/><path id="d1go" d="M1084.6 1004.8h0M1013.3 1058.9h0M1023.3 960.7h0M1019.8 975.5h0M1046.1 1056.6h0M1141.5 988.0h0M995.9 1088.6h0M1047.5 1046.4h0"/><path id="d1sb" d="M790.9 942.7h0M815.1 897.1h0M736.4 1026.6h0M749.7 1094.6h0M692.5 981.1h0M923.3 789.2h0M776.9 1083.6h0M820.8 1091.8h0M830.9 1005.0h0M855.9 1128.5h0M779.8 930.0h0M728.3 1028.9h0M907.6 836.3h0"/><path id="d1te" d="M781.2 870.2h0M803.1 901.9h0M814.5 843.0h0M885.2 1011.4h0M899.8 1067.8h0M936.1 852.8h0M988.6 856.6h0M900.7 839.8h0M774.5 1072.8h0M899.2 859.5h0M740.0 979.2h0M960.0 829.6h0M744.3 1088.4h0M946.0 744.7h0"/><path id="d1pu" d="M1047.9 771.2h0M969.6 744.8h0M881.0 869.8h0M915.7 982.2h0M945.3 1103.6h0M859.1 854.1h0M968.9 932.2h0"/><path id="d1mg" d="M899.1 946.4h0M1146.2 927.6h0M977.0 925.7h0M921.0 1105.9h0M942.8 1030.2h0M934.7 909.6h0M768.0 1010.2h0M1083.3 1024.7h0M1004.8 735.5h0M888.2 1019.9h0M1097.2 923.8h0"/><path id="d1bk" d="M1040.4 813.5h0M1003.9 727.9h0M846.8 1089.0h0M983.2 964.6h0M943.4 852.1h0M890.9 930.8h0M936.3 763.0h0M1034.4 938.1h0M817.9 916.7h0M894.8 1100.6h0M1063.6 822.6h0M985.6 826.3h0M967.4 772.5h0M945.7 1001.7h0M999.6 940.7h0M883.3 1092.7h0M896.9 820.0h0"/><path id="d1ol" d="M1044.2 1053.9h0M967.0 1015.3h0M1104.3 1008.8h0M1143.9 937.1h0M955.9 1046.8h0M1138.2 932.6h0M983.6 736.6h0M1027.5 967.8h0M1008.6 1001.7h0"/><path id="d1pk" d="M986.5 801.2h0M943.6 1050.4h0M1019.6 755.0h0M1137.5 949.7h0M1009.8 906.8h0M1055.0 961.5h0"/><path id="d1or" d="M1048.1 1032.4h0M971.0 1089.8h0M936.2 1109.8h0M1094.9 1076.1h0M1056.7 1039.7h0M1126.0 1044.6h0M1038.2 830.3h0"/><path id="d1mv" d="M959.6 981.8h0M931.0 975.6h0M975.8 882.5h0M1032.8 807.9h0M966.2 978.0h0M1019.3 881.9h0M963.8 847.0h0M906.4 1034.3h0M905.8 999.2h0M944.9 868.2h0"/><path id="d1ta" d="M1013.7 765.0h0M989.7 961.5h0M992.8 880.9h0M1031.2 872.1h0M1018.9 1014.2h0M1036.7 985.2h0M1071.8 864.2h0"/><path id="d1gb" d="M806.8 969.0h0M865.0 865.3h0M855.4 1019.0h0M723.2 886.6h0"/><path id="d1sa" d="M1088.9 974.2h0M1039.0 751.8h0M1073.8 921.9h0"/><path id="d1vi" d="M875.3 1093.6h0M726.8 1040.5h0"/><path id="d2cy" d="M732.4 980.1h0M864.5 1033.6h0M763.3 903.5h0M820.2 1004.5h0M768.6 1112.7h0M814.7 977.9h0M868.2 827.9h0M869.7 1082.1h0M730.7 870.7h0M754.9 917.2h0M849.2 993.3h0M751.4 925.7h0M770.6 923.4h0M828.1 964.2h0M922.4 951.8h0M822.2 884.2h0M848.0 1060.1h0M911.4 991.6h0M821.1 903.7h0M815.1 1130.5h0M772.0 911.6h0M768.3 954.4h0M786.3 957.3h0M829.5 1031.2h0M836.8 964.4h0M902.7 854.5h0M785.3 1131.7h0M822.5 1053.2h0M944.8 758.8h0M691.6 964.8h0M716.8 939.4h0M859.3 881.2h0M896.6 978.1h0M714.7 968.5h0M735.1 974.0h0M757.9 1023.5h0M791.4 1029.5h0M716.0 1020.8h0M763.5 1091.0h0M730.6 883.2h0M836.3 1137.9h0M889.2 950.0h0M891.1 993.7h0M840.0 896.9h0M953.7 812.9h0M772.1 932.2h0M823.0 912.1h0M998.1 881.1h0M853.0 1012.3h0M754.0 1010.7h0M761.6 1054.5h0M711.8 992.6h0M855.3 1033.9h0M724.7 984.7h0M844.3 1115.7h0M818.2 1067.5h0M761.1 1030.9h0M782.8 1131.7h0M1029.7 866.5h0M754.1 861.0h0M777.8 994.9h0M848.4 911.8h0M803.0 1020.7h0M844.5 949.4h0M853.3 979.5h0M769.8 1114.7h0M773.3 866.0h0M758.2 994.3h0M741.4 912.6h0M805.8 1042.8h0M840.4 851.5h0M783.3 1007.3h0M834.1 981.0h0M780.4 979.1h0M787.2 940.5h0M754.0 1004.0h0M830.4 1118.4h0M809.5 907.1h0M744.9 942.8h0M722.4 994.0h0M813.1 1016.9h0M801.2 1012.9h0M977.7 841.6h0M813.9 900.3h0M985.5 845.6h0M855.4 871.1h0M913.4 898.9h0M788.6 1138.6h0M830.6 1023.8h0M801.8 995.6h0M815.9 1108.3h0M886.4 910.7h0M893.5 972.6h0"/><path id="d2te" d="M817.2 867.4h0M813.6 884.3h0M865.4 1046.4h0M849.3 889.7h0M795.2 1009.4h0M831.6 993.2h0M901.2 946.8h0M723.6 917.2h0M791.0 1122.0h0M691.2 1016.6h0M963.6 769.2h0M758.5 983.5h0M880.2 932.0h0M736.3 948.9h0M819.7 870.4h0M871.7 874.8h0"/><path id="d2pk" d="M974.0 961.5h0M998.5 774.4h0M1027.9 746.8h0M1023.4 746.6h0M926.8 758.5h0M975.6 1046.6h0M883.3 838.2h0M1044.2 1017.2h0M1037.8 772.9h0M1125.6 1052.0h0M1061.6 859.1h0M960.5 1113.3h0M1143.6 945.5h0"/><path id="d2vi" d="M898.8 912.2h0M894.3 1032.5h0M771.1 916.4h0M731.4 1040.7h0M700.5 998.7h0"/><path id="d2sa" d="M1055.4 941.3h0M1124.8 1061.7h0M1039.6 810.8h0M927.7 1081.8h0M1070.9 939.6h0M1033.3 823.7h0M931.5 1018.7h0M934.5 924.6h0M996.7 732.5h0M1053.8 1057.9h0M1017.2 781.9h0M1003.9 1032.2h0"/><path id="d2sb" d="M863.0 1018.6h0M839.8 958.4h0M801.8 1031.9h0M922.1 1038.7h0M730.2 1087.6h0M718.1 995.1h0M896.7 913.8h0M830.0 857.1h0M786.4 1119.1h0M859.9 949.2h0M975.5 1100.5h0M751.8 864.1h0M724.1 908.5h0"/><path id="d2or" d="M1054.9 990.5h0M1092.5 972.8h0M1006.5 749.6h0M1093.4 873.9h0M1126.0 961.9h0M1017.0 734.7h0M978.4 942.1h0M1017.6 1065.0h0M1134.6 1010.8h0"/><path id="d2ol" d="M1004.1 888.3h0M944.1 964.3h0M1078.3 847.1h0M1004.8 1021.4h0M1038.7 960.6h0M1034.2 947.9h0M1034.7 978.2h0"/><path id="d2bk" d="M974.8 795.8h0M960.3 950.8h0M1104.5 982.2h0M778.1 1116.5h0M948.4 932.9h0M941.4 809.5h0M947.3 974.8h0M989.7 901.7h0M941.8 793.4h0"/><path id="d2sl" d="M853.0 839.3h0M947.6 855.9h0M903.2 865.0h0M1027.8 797.0h0M951.7 784.3h0M1075.0 829.8h0M861.4 999.1h0M872.1 806.2h0M910.8 761.0h0M1125.2 1032.8h0M962.7 757.0h0M898.3 1020.0h0M944.9 772.3h0M922.5 938.3h0M871.5 857.1h0M1005.3 745.1h0M976.9 910.3h0M914.7 866.0h0M899.3 815.8h0M1042.6 866.4h0M991.6 893.1h0M822.0 855.6h0M952.5 850.5h0M921.5 810.3h0"/><path id="d2pu" d="M919.8 896.7h0M955.3 1064.8h0M1015.2 752.2h0"/><path id="d2ta" d="M938.2 986.8h0M940.6 908.1h0M984.6 1087.9h0M1026.8 892.4h0M1079.8 909.9h0M1130.1 1021.8h0M984.5 986.5h0M968.2 917.2h0M1019.6 1000.1h0"/><path id="d2mg" d="M891.6 1051.0h0M934.8 975.0h0M911.6 1080.6h0M927.0 920.3h0M993.9 909.1h0M917.3 913.9h0M1063.2 834.7h0M971.4 965.6h0M997.0 868.8h0M1021.9 846.8h0M972.4 1058.4h0M952.9 965.8h0M1028.9 771.8h0M877.5 1090.3h0"/><path id="d2ye" d="M922.0 1090.6h0M1132.1 963.3h0M1057.0 837.3h0M923.4 1056.7h0M964.1 987.3h0M1058.9 910.6h0M969.8 1039.1h0M1063.8 1066.9h0M1049.9 1037.7h0M924.4 1054.1h0M1072.0 823.8h0M960.2 1055.4h0M1108.2 1057.7h0M1114.8 916.9h0M1050.8 1012.7h0M1022.4 1052.9h0M1054.6 819.6h0M1143.4 977.7h0M940.9 1070.2h0M1057.2 1008.7h0M935.3 1104.0h0M1014.3 903.5h0M1077.4 1030.8h0M1086.6 888.4h0M1142.9 1014.8h0"/><path id="d2gb" d="M763.1 1044.2h0M744.2 1101.6h0M849.0 957.5h0M828.8 1015.6h0M752.3 1054.6h0M852.0 1135.9h0M829.3 887.7h0M727.5 929.8h0M738.8 1061.6h0M838.9 840.2h0M835.6 856.7h0"/><path id="d2go" d="M1091.9 907.6h0M1047.3 912.9h0"/><path id="d2mv" d="M922.2 1008.8h0M913.9 778.5h0M972.4 1008.2h0M1038.4 844.2h0M878.3 1066.4h0M1039.2 915.3h0M985.0 793.5h0"/><path id="d3cy" d="M905.3 848.8h0M892.7 1041.9h0M867.7 1096.2h0M869.8 842.5h0M733.0 1098.1h0M853.3 1075.8h0M911.1 983.9h0M774.3 1048.2h0M839.9 1054.3h0M803.5 1018.3h0M781.3 1137.2h0M793.5 1077.5h0M705.1 1015.2h0M770.3 1085.8h0M743.6 1027.2h0M841.0 989.1h0M739.4 940.3h0M825.0 1036.3h0M790.1 1045.3h0M762.0 974.0h0M744.3 888.0h0M748.6 966.7h0M790.5 954.7h0M760.1 870.0h0M704.1 965.3h0M988.0 815.0h0M706.3 1052.4h0M732.4 1050.0h0M1064.6 806.7h0M855.3 1065.3h0M706.9 1027.2h0M781.1 944.5h0M830.8 1110.7h0M768.0 999.8h0M832.5 950.6h0M737.7 1004.3h0M856.5 1094.5h0M799.2 1148.4h0M807.5 1072.3h0M785.5 869.4h0M791.5 992.8h0M764.4 934.1h0M753.6 1110.6h0M972.1 841.3h0M830.2 920.8h0M870.4 1101.7h0M930.0 754.1h0M822.6 1123.5h0M913.3 1009.8h0M776.6 971.7h0M823.5 989.3h0M830.5 897.1h0M834.5 934.6h0M1006.2 809.0h0M1009.8 838.4h0M887.0 959.8h0M835.9 974.6h0M797.3 984.3h0M768.5 973.9h0M824.4 1115.6h0M748.1 1057.6h0M868.6 943.4h0M699.8 979.2h0M822.7 1151.2h0M737.1 1105.1h0M947.3 884.6h0M702.3 989.9h0M924.8 851.2h0M796.6 917.6h0M821.4 941.6h0M930.1 782.4h0M1015.7 824.7h0M798.2 1044.9h0M702.5 1045.3h0M815.6 1021.4h0M755.4 1063.1h0M706.0 1067.0h0M847.7 1026.1h0M715.7 983.8h0M811.7 955.5h0M1010.8 854.5h0M723.6 937.9h0M773.5 881.0h0M809.5 1135.6h0M824.5 1135.3h0M826.5 1137.1h0M947.8 1077.2h0M761.6 1036.0h0M817.5 1151.7h0M822.5 863.3h0M739.4 1008.6h0M689.0 1001.9h0M812.6 870.8h0M799.2 988.7h0M868.0 1010.4h0M901.7 1035.3h0M847.7 900.9h0M727.1 894.2h0"/><path id="d3bk" d="M887.4 843.5h0M875.9 973.7h0M930.5 834.7h0M864.4 907.0h0M919.7 794.5h0M907.2 878.0h0M891.8 811.6h0M975.7 885.6h0M851.5 864.7h0M966.6 909.2h0M1038.7 993.3h0M937.0 961.2h0"/><path id="d3te" d="M769.4 1034.0h0M827.0 1146.8h0M837.6 1033.2h0M831.5 1104.9h0M747.3 936.8h0M841.1 842.3h0M942.3 823.9h0M869.5 1024.7h0M748.6 933.5h0M750.2 993.0h0M826.2 1058.2h0M923.6 834.4h0M766.3 1038.0h0M805.3 991.3h0M785.8 1098.3h0M852.6 897.2h0M914.5 784.4h0M931.9 746.4h0M799.0 923.2h0M896.9 1004.8h0M897.5 1048.7h0"/><path id="d3ye" d="M1027.5 789.1h0M1133.8 926.5h0M1010.5 931.1h0M943.9 1038.0h0M1125.9 985.4h0M1046.1 888.6h0M1088.1 950.9h0M1133.2 957.8h0M1021.6 994.0h0M1021.5 951.2h0M992.0 1017.1h0M1074.9 1013.1h0M1096.6 906.6h0M973.7 1065.4h0M1094.2 1008.7h0M1016.0 809.4h0M1013.7 1026.1h0M1025.2 945.8h0M1043.2 871.6h0M994.5 933.5h0M1046.0 944.9h0M978.1 1031.4h0M967.2 965.4h0M1023.3 798.4h0M1046.1 979.5h0M1060.8 1022.2h0M975.0 898.0h0M1095.9 1034.0h0M1022.2 815.9h0M1013.8 873.2h0M1092.9 1016.6h0M1077.2 968.6h0M1102.7 1071.9h0M1068.5 1013.9h0M1101.6 1032.2h0M1021.9 764.6h0"/><path id="d3sb" d="M827.3 1132.9h0M860.6 1061.3h0M930.1 1043.4h0M734.5 1006.6h0M866.7 926.5h0M838.8 945.3h0M843.2 994.5h0M744.0 892.8h0M831.4 851.8h0M844.9 1125.0h0"/><path id="d3gb" d="M899.4 1055.8h0M735.1 941.7h0M716.6 1041.7h0M815.7 959.5h0M844.4 918.7h0M917.0 909.4h0M849.4 968.0h0M722.5 932.1h0M902.5 958.4h0M852.5 1085.7h0"/><path id="d3mg" d="M1009.0 980.1h0M965.5 947.9h0M950.1 907.2h0M823.0 1083.0h0M948.8 1016.6h0M921.7 1068.1h0M929.6 844.6h0M747.6 1043.4h0M949.2 1007.8h0M781.2 1145.1h0M949.7 1110.1h0M880.0 856.9h0M951.9 732.2h0M985.4 929.7h0M925.8 1033.6h0M1046.4 785.8h0M1013.1 850.1h0M936.3 901.6h0M938.3 872.9h0M929.5 989.7h0"/><path id="d3mv" d="M889.9 1058.1h0M973.7 758.8h0M1060.1 801.9h0M1045.7 761.0h0M1010.6 758.8h0M903.0 930.9h0M923.9 818.3h0M951.0 858.9h0M898.2 936.8h0"/><path id="d3go" d="M1018.0 986.6h0M1095.7 969.1h0M1083.4 893.6h0M1103.0 1043.2h0M1051.1 857.7h0"/><path id="d3or" d="M994.9 1074.3h0M1021.4 917.8h0M1015.0 977.2h0M1116.7 907.1h0M1110.0 1040.8h0M1068.0 869.7h0"/><path id="d3sl" d="M904.2 1059.4h0M1038.1 824.7h0M929.3 902.2h0M1035.9 743.0h0M920.3 975.7h0M941.4 894.1h0M919.5 1033.6h0M903.3 984.7h0M973.7 781.5h0M1001.9 767.3h0M942.5 947.8h0M893.5 1026.8h0M899.6 955.7h0M977.1 753.2h0M751.0 952.5h0"/><path id="d3pu" d="M905.6 1037.5h0M822.6 852.3h0M965.4 994.4h0M936.3 1072.9h0M783.8 969.1h0M1018.4 868.3h0M851.8 1070.6h0M716.9 1054.1h0M787.2 1145.1h0"/><path id="d3ol" d="M1079.3 1069.4h0M902.3 789.0h0M976.9 1076.3h0M1068.2 974.9h0M1062.0 976.8h0M1055.0 1065.4h0"/><path id="d3pk" d="M921.3 744.7h0M965.1 864.6h0M1031.4 836.8h0M1002.9 788.6h0M1042.4 920.9h0M970.2 985.9h0M1038.6 778.6h0"/><path id="d3vi" d="M964.7 751.2h0"/><path id="d3ta" d="M1064.2 846.8h0M975.8 977.2h0M1026.5 806.6h0M1016.1 1010.8h0M964.8 1052.8h0"/><path id="d3sa" d="M1105.7 931.2h0M929.2 1056.8h0"/><path id="d4ye" d="M957.6 1039.3h0M1096.3 899.3h0M1068.8 1062.6h0M1109.0 934.1h0M1059.4 914.4h0M1049.4 893.2h0M1002.8 965.4h0M1030.2 952.8h0M1002.4 897.2h0M1113.5 1036.9h0M1034.7 922.7h0M947.0 867.1h0M1000.0 1081.3h0M1067.0 987.6h0M978.7 1086.1h0M1032.0 1021.4h0M1012.6 1073.0h0M1097.4 1046.0h0M1006.5 932.4h0M1030.4 1027.8h0M1145.4 999.2h0M1066.0 1010.0h0M1023.0 1060.1h0M862.3 1091.7h0M1027.4 1065.4h0M1093.6 1025.2h0M1044.1 1064.4h0M1017.5 935.4h0M1096.9 867.6h0M1144.2 974.8h0M1103.7 945.1h0M1038.1 791.4h0M1027.7 1000.0h0M979.1 1002.6h0M1078.6 990.3h0M1073.3 912.4h0M1010.0 956.8h0M1067.9 1000.0h0M1059.4 951.7h0M959.7 914.2h0M1114.5 983.9h0M1079.4 978.2h0M984.2 1064.9h0M1078.3 857.3h0M974.0 984.4h0M1021.0 926.7h0M1017.6 932.7h0M1075.2 1046.5h0M1018.5 945.2h0M1052.0 834.2h0M1017.8 770.3h0"/><path id="d4te" d="M837.5 1059.0h0M925.8 960.1h0M848.4 1142.9h0M871.6 909.3h0M972.7 849.1h0M698.5 1015.8h0M818.6 1100.1h0M719.0 897.8h0M906.2 893.8h0M836.7 865.5h0M701.2 1008.2h0M949.6 792.2h0M977.4 738.7h0"/><path id="d4go" d="M1013.8 914.0h0M1035.0 877.7h0M1047.2 911.4h0M998.7 902.4h0M999.9 1036.9h0M1134.3 971.6h0M1125.3 1017.2h0"/><path id="d4sb" d="M701.7 919.5h0M789.7 901.3h0M901.7 965.9h0M835.3 1066.6h0M845.1 1071.5h0M895.3 1062.2h0M818.4 958.0h0M842.4 969.7h0M844.9 1079.1h0M812.0 1065.1h0M925.8 944.3h0"/><path id="d4or" d="M1123.2 921.8h0M1094.6 960.7h0M1026.4 930.0h0M1088.6 1069.7h0M1017.9 794.6h0M1024.9 736.8h0M1053.6 942.5h0M1102.7 913.5h0M1072.5 978.1h0M1016.6 907.7h0"/><path id="d4ol" d="M1137.8 1015.3h0M1103.6 989.0h0M933.6 867.0h0M1150.5 963.8h0M890.0 873.2h0M1066.4 881.4h0M958.2 1095.8h0"/><path id="d4mg" d="M719.6 1044.8h0M986.1 850.3h0M1055.2 816.2h0M879.0 818.8h0M1112.3 1033.2h0M906.5 1098.4h0M1008.6 801.2h0M876.3 1058.0h0M970.6 815.0h0M998.2 981.9h0M942.8 1082.8h0M1104.8 1054.8h0M1081.9 868.8h0M762.3 1107.3h0M860.3 919.7h0M892.4 834.6h0M863.9 935.4h0M813.7 994.9h0"/><path id="d4cy" d="M760.1 1104.1h0M801.2 962.4h0M847.5 1015.4h0M880.6 1083.8h0M813.3 1075.6h0M713.7 975.1h0M728.8 957.2h0M909.4 824.2h0M740.1 1046.8h0M852.9 884.7h0M809.2 879.0h0M838.4 1131.1h0M867.8 1052.4h0M789.9 1022.9h0M806.4 977.8h0M849.3 947.3h0M736.4 862.6h0M801.8 915.8h0M760.9 1071.6h0M828.6 992.6h0M849.2 1079.0h0M868.7 1062.5h0M783.3 992.8h0M885.1 1025.4h0M803.3 1094.9h0M781.6 1088.0h0M728.1 922.8h0M851.0 949.2h0M803.5 1113.6h0M703.0 936.6h0M707.3 909.8h0M830.7 1079.7h0M878.2 1101.7h0M720.0 1069.4h0M750.1 897.1h0M746.4 856.3h0M724.6 1005.3h0M710.3 1017.2h0M843.2 979.0h0M719.7 1073.9h0M752.5 975.4h0M932.7 793.7h0M906.4 940.1h0M744.8 1032.8h0M809.8 1153.0h0M798.3 1040.3h0M793.5 1033.4h0M794.6 923.7h0M979.7 786.4h0M780.3 1072.4h0M921.0 858.9h0M785.1 879.4h0M703.4 928.9h0M953.0 885.7h0M749.8 1066.5h0M812.3 1105.8h0M839.9 937.4h0M783.6 1111.0h0M829.5 871.7h0M726.7 1082.8h0M975.9 824.2h0M844.9 1033.1h0M795.8 1062.3h0M828.3 991.2h0M760.8 1006.6h0M763.5 1117.1h0M777.7 1043.8h0M798.6 1052.6h0M695.7 1022.8h0M777.8 985.1h0M800.4 877.3h0M787.0 1105.4h0M744.4 950.0h0M831.4 878.1h0M984.9 772.3h0M811.5 1027.4h0M798.0 1151.2h0M763.1 889.8h0M965.4 792.7h0M861.7 1051.6h0M829.0 914.9h0M699.4 930.3h0"/><path id="d4gr" d="M995.8 798.7h0"/><path id="d4ta" d="M1045.4 845.5h0M1050.6 938.2h0M1055.6 793.5h0M1027.7 1007.5h0M1007.8 998.7h0"/><path id="d4sa" d="M1066.4 1038.0h0M915.4 1074.7h0M967.7 1084.9h0M1110.0 942.8h0M1014.7 963.6h0M975.3 826.5h0"/><path id="d4bk" d="M927.7 749.8h0M885.9 799.5h0M985.1 942.8h0M1041.7 862.1h0M905.6 829.1h0M959.4 977.0h0M894.1 798.7h0M932.4 1007.5h0M1124.3 1008.4h0M933.4 892.4h0M976.5 868.1h0M990.2 785.8h0M932.5 919.6h0"/><path id="d4sl" d="M890.2 1043.2h0M923.3 777.8h0M711.1 985.1h0M984.0 864.6h0M803.3 1106.2h0M814.1 964.4h0M808.7 1009.4h0M839.1 1067.8h0M1021.7 858.3h0M703.4 942.1h0M1010.9 847.8h0M826.4 1094.4h0"/><path id="d4pk" d="M1143.0 923.6h0M1115.6 937.4h0M1030.8 1044.4h0M1080.7 1055.4h0M1014.4 1046.3h0M1071.0 1047.9h0M1138.7 1012.6h0M959.1 802.4h0"/><path id="d4mv" d="M994.3 889.1h0M938.1 1013.5h0M983.9 976.5h0M971.8 900.2h0M1018.5 786.3h0M944.5 785.6h0M976.6 801.4h0M860.9 861.3h0M854.4 841.2h0"/><path id="d4vi" d="M791.2 931.7h0M944.9 777.6h0"/><path id="d4gb" d="M743.7 900.5h0M724.7 950.7h0M835.7 1127.6h0M802.6 967.6h0M893.1 930.6h0M845.5 1101.7h0"/><path id="d4pu" d="M1008.8 770.0h0M948.3 998.6h0M983.9 1014.0h0M980.2 871.1h0M891.5 878.4h0M920.9 985.3h0M884.3 987.2h0M881.9 884.9h0M868.5 839.0h0M1005.7 814.9h0M885.2 1112.7h0"/><path id="d5cy" d="M799.2 999.5h0M725.8 1055.5h0M729.4 1004.9h0M871.7 991.9h0M811.8 986.8h0M794.5 896.5h0M883.5 926.8h0M865.7 949.6h0M773.5 1056.2h0M727.6 880.0h0M955.9 826.9h0M875.9 1020.1h0M830.2 1007.5h0M774.8 1020.0h0M831.1 1074.4h0M861.0 974.8h0M730.3 1044.6h0M757.0 888.8h0M781.9 1126.5h0M844.8 1040.3h0M852.6 937.2h0M860.6 1025.3h0M708.4 1037.4h0M777.0 999.2h0M870.3 959.6h0M823.6 1109.6h0M853.6 1097.6h0M761.6 922.4h0M860.8 1072.3h0M817.1 1097.5h0M752.5 880.4h0M814.6 943.0h0M856.3 948.0h0M869.2 1018.7h0M848.3 1000.4h0M817.4 938.5h0M874.0 1011.7h0M856.3 922.2h0M773.8 1039.2h0M810.5 1122.3h0M823.8 932.1h0M824.9 936.7h0M782.8 917.2h0M768.6 869.8h0M739.7 884.6h0M798.7 1066.9h0M952.8 772.0h0M866.1 1120.7h0M950.5 961.6h0M822.6 1028.5h0M744.1 1050.7h0M729.0 900.5h0M740.2 968.2h0M839.0 915.2h0M956.8 807.4h0M913.5 870.9h0M835.4 886.5h0M734.8 923.6h0M853.7 1005.3h0M763.7 1049.5h0M799.1 953.9h0M743.7 1038.6h0M780.7 1081.1h0M915.5 976.8h0M847.0 930.9h0M821.9 1143.7h0M879.3 1031.3h0M825.9 902.8h0M750.8 1036.9h0M777.6 886.2h0M743.4 994.6h0M802.0 1115.1h0M805.4 929.4h0M711.4 959.5h0M821.3 974.0h0M854.7 970.9h0M865.2 986.7h0M915.2 1083.5h0M759.7 1062.4h0M816.2 850.0h0M729.1 1063.2h0M743.7 975.0h0M767.1 868.1h0M878.3 827.6h0M765.4 979.7h0M821.6 1077.8h0M913.5 955.1h0M860.3 969.5h0M818.6 1052.6h0M745.4 1117.1h0M731.0 998.5h0M913.4 817.1h0M945.2 1085.9h0M985.5 837.7h0M800.1 1125.7h0M930.2 871.4h0M699.7 1001.5h0M705.4 1058.1h0M843.9 1131.0h0M835.6 1077.2h0M806.2 1049.4h0M855.1 1036.7h0M767.8 966.7h0M873.4 1115.3h0M885.8 977.1h0M777.9 965.1h0M798.6 904.6h0M764.1 1001.6h0M844.9 1137.5h0"/><path id="d5ye" d="M1086.1 1017.8h0M1075.8 962.8h0M1023.3 899.1h0M1006.0 970.8h0M1130.7 932.6h0M1055.9 918.6h0M992.0 854.2h0M1004.5 860.7h0M998.5 951.6h0M1104.0 1014.1h0M1035.0 1066.5h0M884.3 830.8h0M936.6 1089.0h0M1101.4 894.5h0M1076.3 1003.2h0M1114.3 921.1h0M991.4 1007.9h0M1150.6 939.8h0M998.9 997.7h0M873.6 937.4h0M1014.4 1036.0h0M1037.9 888.4h0M962.8 1092.0h0M888.8 819.6h0M1077.9 1073.5h0M1048.3 1055.3h0M988.9 1072.9h0M971.1 1004.7h0M1004.1 1073.4h0M1135.2 916.4h0M960.9 819.0h0M1095.5 917.7h0M1039.9 839.6h0M976.3 1078.8h0M1065.1 982.2h0M1000.8 1014.2h0M974.8 1094.0h0M940.1 881.8h0M1032.6 993.7h0"/><path id="d5sb" d="M876.6 1041.1h0M778.0 926.5h0M775.3 939.7h0M742.2 869.2h0M902.4 1084.8h0M861.8 956.0h0M923.0 756.6h0M888.9 1076.1h0M810.4 1115.8h0"/><path id="d5mg" d="M943.5 1107.2h0M939.5 1007.2h0M912.8 844.3h0M903.1 844.0h0M960.2 836.0h0M1051.2 967.4h0M1027.4 918.3h0M789.8 972.7h0M986.2 938.5h0M962.7 1100.7h0M911.4 946.1h0M905.3 1089.9h0M948.6 1095.3h0"/><path id="d5pu" d="M877.7 825.4h0M804.4 890.0h0M988.1 827.0h0M962.8 1058.9h0M882.3 957.8h0M928.0 803.3h0M949.3 934.7h0M947.8 1078.5h0M889.4 965.4h0"/><path id="d5go" d="M998.0 785.4h0M1017.4 1074.6h0M1102.1 883.5h0"/><path id="d5ol" d="M1122.7 983.7h0M1131.7 948.8h0M1047.9 903.4h0M1087.5 924.6h0M984.0 1058.3h0M911.7 762.0h0M1022.7 938.6h0M965.9 764.9h0M1084.8 870.7h0M1059.2 901.0h0M1076.7 854.2h0"/><path id="d5sa" d="M1003.0 776.9h0M1063.3 1049.7h0M1018.3 731.8h0M1011.2 921.5h0M954.4 1034.1h0M953.5 945.4h0"/><path id="d5sl" d="M913.4 1066.0h0M740.5 956.3h0M943.3 835.3h0M961.3 853.3h0M926.2 1074.7h0M863.3 832.9h0M915.5 821.8h0M981.5 806.1h0M899.4 920.5h0M908.0 912.2h0M967.1 833.8h0M1059.0 849.6h0M999.7 826.2h0M953.8 1103.1h0M1038.1 760.7h0"/><path id="d5bk" d="M953.8 846.0h0M949.0 776.6h0M1015.1 816.7h0M997.3 907.6h0M863.0 889.2h0M882.5 848.6h0M1127.2 936.3h0M980.3 815.3h0M951.4 757.3h0M997.9 833.1h0M984.1 740.8h0M975.1 765.6h0M1071.3 833.3h0M871.1 818.8h0"/><path id="d5te" d="M931.6 770.6h0M890.3 797.3h0M881.3 936.2h0M738.2 1032.6h0M816.4 953.5h0M943.0 812.5h0M878.5 844.8h0M926.5 792.4h0M882.4 879.0h0"/><path id="d5pk" d="M984.0 895.3h0M1093.4 1003.8h0M990.7 1094.5h0M1130.2 1002.7h0M1007.7 970.0h0M1040.6 905.7h0M1147.1 998.6h0M1062.9 946.7h0M918.5 829.3h0M1122.0 914.6h0"/><path id="d5mv" d="M1024.4 868.2h0M881.9 869.1h0M872.4 912.9h0M1067.8 995.8h0M988.4 767.6h0M946.5 806.8h0M961.1 934.1h0M921.8 863.8h0M1076.3 973.0h0"/><path id="d5gb" d="M752.1 1032.1h0M817.8 1037.6h0M756.1 1083.8h0M715.3 1059.0h0M775.7 896.4h0"/><path id="d5or" d="M1070.8 857.2h0M1010.8 935.7h0M1066.3 864.2h0M1115.7 1067.5h0"/><path id="d5vi" d="M728.5 1096.2h0M901.8 783.1h0M988.3 797.5h0M851.1 1035.3h0"/><path id="d5ta" d="M1056.1 895.2h0M1126.3 1037.5h0M1027.9 1021.3h0"/><path id="d5gr" d="M943.8 740.0h0"/></defs><g fill="none" stroke-linecap="round"><use href="#c0c" stroke="#00cccc" stroke-width="7.6"/><use href="#c0c" stroke="#00ffff" stroke-width="3.0"/><use href="#c0y" stroke="#cccc00" stroke-width="7.6"/><use href="#c0y" stroke="#ffff00" stroke-width="3.0"/><use href="#c0yg" stroke="#a0c828" stroke-width="7.6"/><use href="#c0yg" stroke="#c8f040" stroke-width="3.0"/><use href="#c0m" stroke="#cc00cc" stroke-width="7.6"/><use href="#c0m" stroke="#ff00ff" stroke-width="3.0"/><use href="#c0o" stroke="#d08050" stroke-width="7.6"/><use href="#c0o" stroke="#f09868" stroke-width="3.0"/><use href="#c1c" stroke="#00cccc" stroke-width="7.6"/><use href="#c1c" stroke="#00ffff" stroke-width="3.0"/><use href="#c1yg" stroke="#a0c828" stroke-width="7.6"/><use href="#c1yg" stroke="#c8f040" stroke-width="3.0"/><use href="#c1m" stroke="#cc00cc" stroke-width="7.6"/><use href="#c1m" stroke="#ff00ff" stroke-width="3.0"/><use href="#c1y" stroke="#cccc00" stroke-width="7.6"/><use href="#c1y" stroke="#ffff00" stroke-width="3.0"/><use href="#c1o" stroke="#d08050" stroke-width="7.6"/><use href="#c1o" stroke="#f09868" stroke-width="3.0"/><use href="#c2yg" stroke="#a0c828" stroke-width="7.6"/><use href="#c2yg" stroke="#c8f040" stroke-width="3.0"/><use href="#c2m" stroke="#cc00cc" stroke-width="7.6"/><use href="#c2m" stroke="#ff00ff" stroke-width="3.0"/><use href="#c2c" stroke="#00cccc" stroke-width="7.6"/><use href="#c2c" stroke="#00ffff" stroke-width="3.0"/><use href="#c2y" stroke="#cccc00" stroke-width="7.6"/><use href="#c2y" stroke="#ffff00" stroke-width="3.0"/><use href="#c2o" stroke="#d08050" stroke-width="7.6"/><use href="#c2o" stroke="#f09868" stroke-width="3.0"/><use href="#c3c" stroke="#00cccc" stroke-width="7.6"/><use href="#c3c" stroke="#00ffff" stroke-width="3.0"/><use href="#c3yg" stroke="#a0c828" stroke-width="7.6"/><use href="#c3yg" stroke="#c8f040" stroke-width="3.0"/><use href="#c3y" stroke="#cccc00" stroke-width="7.6"/><use href="#c3y" stroke="#ffff00" stroke-width="3.0"/><use href="#c3m" stroke="#cc00cc" stroke-width="7.6"/><use href="#c3m" stroke="#ff00ff" stroke-width="3.0"/><use href="#c3o" stroke="#d08050" stroke-width="7.6"/><use href="#c3o" stroke="#f09868" stroke-width="3.0"/><use href="#c4c" stroke="#00cccc" stroke-width="7.6"/><use href="#c4c" stroke="#00ffff" stroke-width="3.0"/><use href="#c4m" stroke="#cc00cc" stroke-width="7.6"/><use href="#c4m" stroke="#ff00ff" stroke-width="3.0"/><use href="#c4y" stroke="#cccc00" stroke-width="7.6"/><use href="#c4y" stroke="#ffff00" stroke-width="3.0"/><use href="#c4yg" stroke="#a0c828" stroke-width="7.6"/><use href="#c4yg" stroke="#c8f040" stroke-width="3.0"/><use href="#c4o" stroke="#d08050" stroke-width="7.6"/><use href="#c4o" stroke="#f09868" stroke-width="3.0"/><use href="#c5y" stroke="#cccc00" stroke-width="7.6"/><use href="#c5y" stroke="#ffff00" stroke-width="3.0"/><use href="#c5c" stroke="#00cccc" stroke-width="7.6"/><use href="#c5c" stroke="#00ffff" stroke-width="3.0"/><use href="#c5m" stroke="#cc00cc" stroke-width="7.6"/><use href="#c5m" stroke="#ff00ff" stroke-width="3.0"/><use href="#c5yg" stroke="#a0c828" stroke-width="7.6"/><use href="#c5yg" stroke="#c8f040" stroke-width="3.0"/><use href="#c5o" stroke="#d08050" stroke-width="7.6"/><use href="#c5o" stroke="#f09868" stroke-width="3.0"/><use href="#c6m" stroke="#cc00cc" stroke-width="7.6"/><use href="#c6m" stroke="#ff00ff" stroke-width="3.0"/><use href="#c6c" stroke="#00cccc" stroke-width="7.6"/><use href="#c6c" stroke="#00ffff" stroke-width="3.0"/><use href="#c6y" stroke="#cccc00" stroke-width="7.6"/><use href="#c6y" stroke="#ffff00" stroke-width="3.0"/><use href="#c6yg" stroke="#a0c828" stroke-width="7.6"/><use href="#c6yg" stroke="#c8f040" stroke-width="3.0"/><use href="#c6o" stroke="#d08050" stroke-width="7.6"/><use href="#c6o" stroke="#f09868" stroke-width="3.0"/><use href="#c7m" stroke="#cc00cc" stroke-width="7.6"/><use href="#c7m" stroke="#ff00ff" stroke-width="3.0"/><use href="#c7y" stroke="#cccc00" stroke-width="7.6"/><use href="#c7y" stroke="#ffff00" stroke-width="3.0"/><use href="#c7c" stroke="#00cccc" stroke-width="7.6"/><use href="#c7c" stroke="#00ffff" stroke-width="3.0"/><use href="#c7o" stroke="#d08050" stroke-width="7.6"/><use href="#c7o" stroke="#f09868" stroke-width="3.0"/><use href="#c7yg" stroke="#a0c828" stroke-width="7.6"/><use href="#c7yg" stroke="#c8f040" stroke-width="3.0"/><use href="#d0te" stroke="#2e6e72" stroke-width="9.6"/><use href="#d0te" stroke="#3c8a8e" stroke-width="5.2"/><use href="#d0gb" stroke="#3e6e88" stroke-width="9.6"/><use href="#d0gb" stroke="#5088a4" stroke-width="5.2"/><use href="#d0cy" stroke="#0cc8c8" stroke-width="9.6"/><use href="#d0cy" stroke="#00ffff" stroke-width="5.2"/><use href="#d0or" stroke="#c88040" stroke-width="9.6"/><use href="#d0or" stroke="#f0a050" stroke-width="5.2"/><use href="#d0sl" stroke="#454d66" stroke-width="9.6"/><use href="#d0sl" stroke="#58627a" stroke-width="5.2"/><use href="#d0vi" stroke="#5c58c8" stroke-width="9.6"/><use href="#d0vi" stroke="#7878f0" stroke-width="5.2"/><use href="#d0ye" stroke="#cccc00" stroke-width="9.6"/><use href="#d0ye" stroke="#ffff00" stroke-width="5.2"/><use href="#d0pk" stroke="#c04890" stroke-width="9.6"/><use href="#d0pk" stroke="#f060b8" stroke-width="5.2"/><use href="#d0sa" stroke="#c06858" stroke-width="9.6"/><use href="#d0sa" stroke="#f08474" stroke-width="5.2"/><use href="#d0mv" stroke="#503048" stroke-width="9.6"/><use href="#d0mv" stroke="#6a4460" stroke-width="5.2"/><use href="#d0sb" stroke="#3a7cc4" stroke-width="9.6"/><use href="#d0sb" stroke="#4c9cf4" stroke-width="5.2"/><use href="#d0bk" stroke="#262430" stroke-width="9.6"/><use href="#d0bk" stroke="#34323c" stroke-width="5.2"/><use href="#d0mg" stroke="#c400c4" stroke-width="9.6"/><use href="#d0mg" stroke="#ff10ff" stroke-width="5.2"/><use href="#d0pu" stroke="#8a38c4" stroke-width="9.6"/><use href="#d0pu" stroke="#b050f4" stroke-width="5.2"/><use href="#d0ta" stroke="#8a6c4c" stroke-width="9.6"/><use href="#d0ta" stroke="#aa8860" stroke-width="5.2"/><use href="#d0ol" stroke="#8a8a30" stroke-width="9.6"/><use href="#d0ol" stroke="#a8a840" stroke-width="5.2"/><use href="#d0gr" stroke="#5a6468" stroke-width="9.6"/><use href="#d0gr" stroke="#6e7a80" stroke-width="5.2"/><use href="#d0go" stroke="#c8a030" stroke-width="9.6"/><use href="#d0go" stroke="#f0c840" stroke-width="5.2"/><use href="#d1cy" stroke="#0cc8c8" stroke-width="9.6"/><use href="#d1cy" stroke="#00ffff" stroke-width="5.2"/><use href="#d1ye" stroke="#cccc00" stroke-width="9.6"/><use href="#d1ye" stroke="#ffff00" stroke-width="5.2"/><use href="#d1sl" stroke="#454d66" stroke-width="9.6"/><use href="#d1sl" stroke="#58627a" stroke-width="5.2"/><use href="#d1go" stroke="#c8a030" stroke-width="9.6"/><use href="#d1go" stroke="#f0c840" stroke-width="5.2"/><use href="#d1sb" stroke="#3a7cc4" stroke-width="9.6"/><use href="#d1sb" stroke="#4c9cf4" stroke-width="5.2"/><use href="#d1te" stroke="#2e6e72" stroke-width="9.6"/><use href="#d1te" stroke="#3c8a8e" stroke-width="5.2"/><use href="#d1pu" stroke="#8a38c4" stroke-width="9.6"/><use href="#d1pu" stroke="#b050f4" stroke-width="5.2"/><use href="#d1mg" stroke="#c400c4" stroke-width="9.6"/><use href="#d1mg" stroke="#ff10ff" stroke-width="5.2"/><use href="#d1bk" stroke="#262430" stroke-width="9.6"/><use href="#d1bk" stroke="#34323c" stroke-width="5.2"/><use href="#d1ol" stroke="#8a8a30" stroke-width="9.6"/><use href="#d1ol" stroke="#a8a840" stroke-width="5.2"/><use href="#d1pk" stroke="#c04890" stroke-width="9.6"/><use href="#d1pk" stroke="#f060b8" stroke-width="5.2"/><use href="#d1or" stroke="#c88040" stroke-width="9.6"/><use href="#d1or" stroke="#f0a050" stroke-width="5.2"/><use href="#d1mv" stroke="#503048" stroke-width="9.6"/><use href="#d1mv" stroke="#6a4460" stroke-width="5.2"/><use href="#d1ta" stroke="#8a6c4c" stroke-width="9.6"/><use href="#d1ta" stroke="#aa8860" stroke-width="5.2"/><use href="#d1gb" stroke="#3e6e88" stroke-width="9.6"/><use href="#d1gb" stroke="#5088a4" stroke-width="5.2"/><use href="#d1sa" stroke="#c06858" stroke-width="9.6"/><use href="#d1sa" stroke="#f08474" stroke-width="5.2"/><use href="#d1vi" stroke="#5c58c8" stroke-width="9.6"/><use href="#d1vi" stroke="#7878f0" stroke-width="5.2"/><use href="#d2cy" stroke="#0cc8c8" stroke-width="9.6"/><use href="#d2cy" stroke="#00ffff" stroke-width="5.2"/><use href="#d2te" stroke="#2e6e72" stroke-width="9.6"/><use href="#d2te" stroke="#3c8a8e" stroke-width="5.2"/><use href="#d2pk" stroke="#c04890" stroke-width="9.6"/><use href="#d2pk" stroke="#f060b8" stroke-width="5.2"/><use href="#d2vi" stroke="#5c58c8" stroke-width="9.6"/><use href="#d2vi" stroke="#7878f0" stroke-width="5.2"/><use href="#d2sa" stroke="#c06858" stroke-width="9.6"/><use href="#d2sa" stroke="#f08474" stroke-width="5.2"/><use href="#d2sb" stroke="#3a7cc4" stroke-width="9.6"/><use href="#d2sb" stroke="#4c9cf4" stroke-width="5.2"/><use href="#d2or" stroke="#c88040" stroke-width="9.6"/><use href="#d2or" stroke="#f0a050" stroke-width="5.2"/><use href="#d2ol" stroke="#8a8a30" stroke-width="9.6"/><use href="#d2ol" stroke="#a8a840" stroke-width="5.2"/><use href="#d2bk" stroke="#262430" stroke-width="9.6"/><use href="#d2bk" stroke="#34323c" stroke-width="5.2"/><use href="#d2sl" stroke="#454d66" stroke-width="9.6"/><use href="#d2sl" stroke="#58627a" stroke-width="5.2"/><use href="#d2pu" stroke="#8a38c4" stroke-width="9.6"/><use href="#d2pu" stroke="#b050f4" stroke-width="5.2"/><use href="#d2ta" stroke="#8a6c4c" stroke-width="9.6"/><use href="#d2ta" stroke="#aa8860" stroke-width="5.2"/><use href="#d2mg" stroke="#c400c4" stroke-width="9.6"/><use href="#d2mg" stroke="#ff10ff" stroke-width="5.2"/><use href="#d2ye" stroke="#cccc00" stroke-width="9.6"/><use href="#d2ye" stroke="#ffff00" stroke-width="5.2"/><use href="#d2gb" stroke="#3e6e88" stroke-width="9.6"/><use href="#d2gb" stroke="#5088a4" stroke-width="5.2"/><use href="#d2go" stroke="#c8a030" stroke-width="9.6"/><use href="#d2go" stroke="#f0c840" stroke-width="5.2"/><use href="#d2mv" stroke="#503048" stroke-width="9.6"/><use href="#d2mv" stroke="#6a4460" stroke-width="5.2"/><use href="#d3cy" stroke="#0cc8c8" stroke-width="9.6"/><use href="#d3cy" stroke="#00ffff" stroke-width="5.2"/><use href="#d3bk" stroke="#262430" stroke-width="9.6"/><use href="#d3bk" stroke="#34323c" stroke-width="5.2"/><use href="#d3te" stroke="#2e6e72" stroke-width="9.6"/><use href="#d3te" stroke="#3c8a8e" stroke-width="5.2"/><use href="#d3ye" stroke="#cccc00" stroke-width="9.6"/><use href="#d3ye" stroke="#ffff00" stroke-width="5.2"/><use href="#d3sb" stroke="#3a7cc4" stroke-width="9.6"/><use href="#d3sb" stroke="#4c9cf4" stroke-width="5.2"/><use href="#d3gb" stroke="#3e6e88" stroke-width="9.6"/><use href="#d3gb" stroke="#5088a4" stroke-width="5.2"/><use href="#d3mg" stroke="#c400c4" stroke-width="9.6"/><use href="#d3mg" stroke="#ff10ff" stroke-width="5.2"/><use href="#d3mv" stroke="#503048" stroke-width="9.6"/><use href="#d3mv" stroke="#6a4460" stroke-width="5.2"/><use href="#d3go" stroke="#c8a030" stroke-width="9.6"/><use href="#d3go" stroke="#f0c840" stroke-width="5.2"/><use href="#d3or" stroke="#c88040" stroke-width="9.6"/><use href="#d3or" stroke="#f0a050" stroke-width="5.2"/><use href="#d3sl" stroke="#454d66" stroke-width="9.6"/><use href="#d3sl" stroke="#58627a" stroke-width="5.2"/><use href="#d3pu" stroke="#8a38c4" stroke-width="9.6"/><use href="#d3pu" stroke="#b050f4" stroke-width="5.2"/><use href="#d3ol" stroke="#8a8a30" stroke-width="9.6"/><use href="#d3ol" stroke="#a8a840" stroke-width="5.2"/><use href="#d3pk" stroke="#c04890" stroke-width="9.6"/><use href="#d3pk" stroke="#f060b8" stroke-width="5.2"/><use href="#d3vi" stroke="#5c58c8" stroke-width="9.6"/><use href="#d3vi" stroke="#7878f0" stroke-width="5.2"/><use href="#d3ta" stroke="#8a6c4c" stroke-width="9.6"/><use href="#d3ta" stroke="#aa8860" stroke-width="5.2"/><use href="#d3sa" stroke="#c06858" stroke-width="9.6"/><use href="#d3sa" stroke="#f08474" stroke-width="5.2"/><use href="#d4ye" stroke="#cccc00" stroke-width="9.6"/><use href="#d4ye" stroke="#ffff00" stroke-width="5.2"/><use href="#d4te" stroke="#2e6e72" stroke-width="9.6"/><use href="#d4te" stroke="#3c8a8e" stroke-width="5.2"/><use href="#d4go" stroke="#c8a030" stroke-width="9.6"/><use href="#d4go" stroke="#f0c840" stroke-width="5.2"/><use href="#d4sb" stroke="#3a7cc4" stroke-width="9.6"/><use href="#d4sb" stroke="#4c9cf4" stroke-width="5.2"/><use href="#d4or" stroke="#c88040" stroke-width="9.6"/><use href="#d4or" stroke="#f0a050" stroke-width="5.2"/><use href="#d4ol" stroke="#8a8a30" stroke-width="9.6"/><use href="#d4ol" stroke="#a8a840" stroke-width="5.2"/><use href="#d4mg" stroke="#c400c4" stroke-width="9.6"/><use href="#d4mg" stroke="#ff10ff" stroke-width="5.2"/><use href="#d4cy" stroke="#0cc8c8" stroke-width="9.6"/><use href="#d4cy" stroke="#00ffff" stroke-width="5.2"/><use href="#d4gr" stroke="#5a6468" stroke-width="9.6"/><use href="#d4gr" stroke="#6e7a80" stroke-width="5.2"/><use href="#d4ta" stroke="#8a6c4c" stroke-width="9.6"/><use href="#d4ta" stroke="#aa8860" stroke-width="5.2"/><use href="#d4sa" stroke="#c06858" stroke-width="9.6"/><use href="#d4sa" stroke="#f08474" stroke-width="5.2"/><use href="#d4bk" stroke="#262430" stroke-width="9.6"/><use href="#d4bk" stroke="#34323c" stroke-width="5.2"/><use href="#d4sl" stroke="#454d66" stroke-width="9.6"/><use href="#d4sl" stroke="#58627a" stroke-width="5.2"/><use href="#d4pk" stroke="#c04890" stroke-width="9.6"/><use href="#d4pk" stroke="#f060b8" stroke-width="5.2"/><use href="#d4mv" stroke="#503048" stroke-width="9.6"/><use href="#d4mv" stroke="#6a4460" stroke-width="5.2"/><use href="#d4vi" stroke="#5c58c8" stroke-width="9.6"/><use href="#d4vi" stroke="#7878f0" stroke-width="5.2"/><use href="#d4gb" stroke="#3e6e88" stroke-width="9.6"/><use href="#d4gb" stroke="#5088a4" stroke-width="5.2"/><use href="#d4pu" stroke="#8a38c4" stroke-width="9.6"/><use href="#d4pu" stroke="#b050f4" stroke-width="5.2"/><use href="#d5cy" stroke="#0cc8c8" stroke-width="9.6"/><use href="#d5cy" stroke="#00ffff" stroke-width="5.2"/><use href="#d5ye" stroke="#cccc00" stroke-width="9.6"/><use href="#d5ye" stroke="#ffff00" stroke-width="5.2"/><use href="#d5sb" stroke="#3a7cc4" stroke-width="9.6"/><use href="#d5sb" stroke="#4c9cf4" stroke-width="5.2"/><use href="#d5mg" stroke="#c400c4" stroke-width="9.6"/><use href="#d5mg" stroke="#ff10ff" stroke-width="5.2"/><use href="#d5pu" stroke="#8a38c4" stroke-width="9.6"/><use href="#d5pu" stroke="#b050f4" stroke-width="5.2"/><use href="#d5go" stroke="#c8a030" stroke-width="9.6"/><use href="#d5go" stroke="#f0c840" stroke-width="5.2"/><use href="#d5ol" stroke="#8a8a30" stroke-width="9.6"/><use href="#d5ol" stroke="#a8a840" stroke-width="5.2"/><use href="#d5sa" stroke="#c06858" stroke-width="9.6"/><use href="#d5sa" stroke="#f08474" stroke-width="5.2"/><use href="#d5sl" stroke="#454d66" stroke-width="9.6"/><use href="#d5sl" stroke="#58627a" stroke-width="5.2"/><use href="#d5bk" stroke="#262430" stroke-width="9.6"/><use href="#d5bk" stroke="#34323c" stroke-width="5.2"/><use href="#d5te" stroke="#2e6e72" stroke-width="9.6"/><use href="#d5te" stroke="#3c8a8e" stroke-width="5.2"/><use href="#d5pk" stroke="#c04890" stroke-width="9.6"/><use href="#d5pk" stroke="#f060b8" stroke-width="5.2"/><use href="#d5mv" stroke="#503048" stroke-width="9.6"/><use href="#d5mv" stroke="#6a4460" stroke-width="5.2"/><use href="#d5gb" stroke="#3e6e88" stroke-width="9.6"/><use href="#d5gb" stroke="#5088a4" stroke-width="5.2"/><use href="#d5or" stroke="#c88040" stroke-width="9.6"/><use href="#d5or" stroke="#f0a050" stroke-width="5.2"/><use href="#d5vi" stroke="#5c58c8" stroke-width="9.6"/><use href="#d5vi" stroke="#7878f0" stroke-width="5.2"/><use href="#d5ta" stroke="#8a6c4c" stroke-width="9.6"/><use href="#d5ta" stroke="#aa8860" stroke-width="5.2"/><use href="#d5gr" stroke="#5a6468" stroke-width="9.6"/><use href="#d5gr" stroke="#6e7a80" stroke-width="5.2"/></g>
<rect x="79.0" y="709.1" width="504.50" height="465.20" fill="none" stroke="#000" stroke-width="2.2"/>
<line x1="133.3" y1="1174.3" x2="133.3" y2="1181.70" stroke="#000" stroke-width="2.2"/>
<text id="o11" x="133.3" y="1208.8" text-anchor="middle" font-size="26.5">– 5</text>
<line x1="201.1" y1="1174.3" x2="201.1" y2="1181.70" stroke="#000" stroke-width="2.2"/>
<text id="o12" x="201.1" y="1208.8" text-anchor="middle" font-size="26.5">– 0</text>
<line x1="269.3" y1="1174.3" x2="269.3" y2="1181.70" stroke="#000" stroke-width="2.2"/>
<text x="269.3" y="1208.8" text-anchor="middle" font-size="26.5">–5</text>
<line x1="337.0" y1="1174.3" x2="337.0" y2="1181.70" stroke="#000" stroke-width="2.2"/>
<text x="337.0" y="1208.8" text-anchor="middle" font-size="26.5">0</text>
<line x1="405.6" y1="1174.3" x2="405.6" y2="1181.70" stroke="#000" stroke-width="2.2"/>
<text x="405.6" y="1208.8" text-anchor="middle" font-size="26.5">5</text>
<line x1="473.3" y1="1174.3" x2="473.3" y2="1181.70" stroke="#000" stroke-width="2.2"/>
<text id="o13" x="473.3" y="1208.8" text-anchor="middle" font-size="26.5"> 0</text>
<line x1="541.9" y1="1174.3" x2="541.9" y2="1181.70" stroke="#000" stroke-width="2.2"/>
<text id="o14" x="541.9" y="1208.8" text-anchor="middle" font-size="26.5"> 5</text>
<line x1="71.40" y1="753.5" x2="79.0" y2="753.5" stroke="#000" stroke-width="2.2"/>
<text transform="translate(63.5,753.5) rotate(-90)" text-anchor="middle" font-size="26.5">20</text>
<line x1="71.40" y1="862.0" x2="79.0" y2="862.0" stroke="#000" stroke-width="2.2"/>
<text id="o15" transform="translate(63.5,862.0) rotate(-90)" text-anchor="middle" font-size="26.5"> 0</text>
<line x1="71.40" y1="969.8" x2="79.0" y2="969.8" stroke="#000" stroke-width="2.2"/>
<text transform="translate(63.5,969.8) rotate(-90)" text-anchor="middle" font-size="26.5">0</text>
<line x1="71.40" y1="1078.3" x2="79.0" y2="1078.3" stroke="#000" stroke-width="2.2"/>
<text id="o16" transform="translate(63.5,1078.3) rotate(-90)" text-anchor="middle" font-size="26.5">– 0</text>
<text x="331.85" y="1246.2" text-anchor="middle" font-size="40">First component</text>
<rect x="667.4" y="709.1" width="504.50" height="465.20" fill="none" stroke="#000" stroke-width="2.2"/>
<line x1="698.5" y1="1174.3" x2="698.5" y2="1181.70" stroke="#000" stroke-width="2.2"/>
<text id="o17" x="698.5" y="1208.8" text-anchor="middle" font-size="26.5">– 5</text>
<line x1="765.5" y1="1174.3" x2="765.5" y2="1181.70" stroke="#000" stroke-width="2.2"/>
<line x1="832.2" y1="1174.3" x2="832.2" y2="1181.70" stroke="#000" stroke-width="2.2"/>
<text x="832.2" y="1208.8" text-anchor="middle" font-size="26.5">–5</text>
<line x1="898.8" y1="1174.3" x2="898.8" y2="1181.70" stroke="#000" stroke-width="2.2"/>
<text x="898.8" y="1208.8" text-anchor="middle" font-size="26.5">0</text>
<line x1="965.5" y1="1174.3" x2="965.5" y2="1181.70" stroke="#000" stroke-width="2.2"/>
<text x="965.5" y="1208.8" text-anchor="middle" font-size="26.5">5</text>
<line x1="1032.5" y1="1174.3" x2="1032.5" y2="1181.70" stroke="#000" stroke-width="2.2"/>
<text id="o18" x="1032.5" y="1208.8" text-anchor="middle" font-size="26.5"> 0</text>
<line x1="1099.5" y1="1174.3" x2="1099.5" y2="1181.70" stroke="#000" stroke-width="2.2"/>
<text id="o19" x="1099.5" y="1208.8" text-anchor="middle" font-size="26.5"> 5</text>
<line x1="1165.8" y1="1174.3" x2="1165.8" y2="1181.70" stroke="#000" stroke-width="2.2"/>
<text x="1165.8" y="1208.8" text-anchor="middle" font-size="26.5">20</text>
<line x1="659.80" y1="790.6" x2="667.4" y2="790.6" stroke="#000" stroke-width="2.2"/>
<text id="o20" transform="translate(651.8,790.6) rotate(-90)" text-anchor="middle" font-size="26.5"> 0</text>
<line x1="659.80" y1="889.5" x2="667.4" y2="889.5" stroke="#000" stroke-width="2.2"/>
<text transform="translate(651.8,889.5) rotate(-90)" text-anchor="middle" font-size="26.5">5</text>
<line x1="659.80" y1="988.5" x2="667.4" y2="988.5" stroke="#000" stroke-width="2.2"/>
<text transform="translate(651.8,988.5) rotate(-90)" text-anchor="middle" font-size="26.5">0</text>
<line x1="659.80" y1="1087.5" x2="667.4" y2="1087.5" stroke="#000" stroke-width="2.2"/>
<text transform="translate(651.8,1087.5) rotate(-90)" text-anchor="middle" font-size="26.5">–5</text>
<text x="920.25" y="1246.2" text-anchor="middle" font-size="40">First component</text>
<text transform="translate(30.8,941.4) rotate(-90)" text-anchor="middle" font-size="40">Second component</text>
<g fill="#000"><path d="M271 0L364 0L364 705L300 705C286 652 240 592 96 580L96 492L271 492Z" transform="translate(59.25,120.20) scale(0.0400,-0.0400)"/><g transform="translate(325.43,491) rotate(-90)"><path d="M271 0L364 0L364 705L300 705C286 652 240 592 96 580L96 492L271 492Z" transform="translate(-41.17,0.00) scale(0.0370,-0.0370)"/><path d="M271 0L364 0L364 705L300 705C286 652 240 592 96 580L96 492L271 492Z" transform="translate(-20.59,0.00) scale(0.0370,-0.0370)"/></g><g transform="translate(388.47,491) rotate(-90)"><path d="M271 0L364 0L364 705L300 705C286 652 240 592 96 580L96 492L271 492Z" transform="translate(-123.45,0.00) scale(0.0370,-0.0370)"/><path d="M271 0L364 0L364 705L300 705C286 652 240 592 96 580L96 492L271 492Z" transform="translate(-41.17,0.00) scale(0.0370,-0.0370)"/></g><g transform="translate(451.51,491) rotate(-90)"><path d="M271 0L364 0L364 705L300 705C286 652 240 592 96 580L96 492L271 492Z" transform="translate(-123.45,0.00) scale(0.0370,-0.0370)"/><path d="M271 0L364 0L364 705L300 705C286 652 240 592 96 580L96 492L271 492Z" transform="translate(-41.17,0.00) scale(0.0370,-0.0370)"/></g><g transform="translate(514.54,491) rotate(-90)"><path d="M271 0L364 0L364 705L300 705C286 652 240 592 96 580L96 492L271 492Z" transform="translate(-123.45,0.00) scale(0.0370,-0.0370)"/></g><g transform="translate(577.58,491) rotate(-90)"><path d="M271 0L364 0L364 705L300 705C286 652 240 592 96 580L96 492L271 492Z" transform="translate(-102.89,0.00) scale(0.0370,-0.0370)"/></g><path d="M271 0L364 0L364 705L300 705C286 652 240 592 96 580L96 492L271 492Z" transform="translate(647.75,120.20) scale(0.0400,-0.0400)"/><g transform="translate(724.81,491) rotate(-90)"><path d="M271 0L364 0L364 705L300 705C286 652 240 592 96 580L96 492L271 492Z" transform="translate(-41.17,0.00) scale(0.0370,-0.0370)"/></g><g transform="translate(1039.87,491) rotate(-90)"><path d="M271 0L364 0L364 705L300 705C286 652 240 592 96 580L96 492L271 492Z" transform="translate(-164.61,0.00) scale(0.0370,-0.0370)"/><path d="M271 0L364 0L364 705L300 705C286 652 240 592 96 580L96 492L271 492Z" transform="translate(-61.75,0.00) scale(0.0370,-0.0370)"/><path d="M271 0L364 0L364 705L300 705C286 652 240 592 96 580L96 492L271 492Z" transform="translate(-41.17,0.00) scale(0.0370,-0.0370)"/></g><g transform="translate(1102.88,491) rotate(-90)"><path d="M271 0L364 0L364 705L300 705C286 652 240 592 96 580L96 492L271 492Z" transform="translate(-164.61,0.00) scale(0.0370,-0.0370)"/><path d="M271 0L364 0L364 705L300 705C286 652 240 592 96 580L96 492L271 492Z" transform="translate(-61.75,0.00) scale(0.0370,-0.0370)"/></g><g transform="translate(1165.89,489.2) rotate(-90)"><path d="M271 0L364 0L364 705L300 705C286 652 240 592 96 580L96 492L271 492Z" transform="translate(-61.75,0.00) scale(0.0370,-0.0370)"/></g><path d="M271 0L364 0L364 705L300 705C286 652 240 592 96 580L96 492L271 492Z" transform="translate(125.93,1208.80) scale(0.0265,-0.0265)"/><path d="M271 0L364 0L364 705L300 705C286 652 240 592 96 580L96 492L271 492Z" transform="translate(193.73,1208.80) scale(0.0265,-0.0265)"/><path d="M271 0L364 0L364 705L300 705C286 652 240 592 96 580L96 492L271 492Z" transform="translate(458.56,1208.80) scale(0.0265,-0.0265)"/><path d="M271 0L364 0L364 705L300 705C286 652 240 592 96 580L96 492L271 492Z" transform="translate(527.16,1208.80) scale(0.0265,-0.0265)"/><g transform="translate(63.5,862.0) rotate(-90)"><path d="M271 0L364 0L364 705L300 705C286 652 240 592 96 580L96 492L271 492Z" transform="translate(-14.74,0.00) scale(0.0265,-0.0265)"/></g><g transform="translate(63.5,1078.3) rotate(-90)"><path d="M271 0L364 0L364 705L300 705C286 652 240 592 96 580L96 492L271 492Z" transform="translate(-7.38,0.00) scale(0.0265,-0.0265)"/></g><path d="M271 0L364 0L364 705L300 705C286 652 240 592 96 580L96 492L271 492Z" transform="translate(691.12,1208.80) scale(0.0265,-0.0265)"/><path d="M271 0L364 0L364 705L300 705C286 652 240 592 96 580L96 492L271 492Z" transform="translate(1017.76,1208.80) scale(0.0265,-0.0265)"/><path d="M271 0L364 0L364 705L300 705C286 652 240 592 96 580L96 492L271 492Z" transform="translate(1084.76,1208.80) scale(0.0265,-0.0265)"/><g transform="translate(651.8,790.6) rotate(-90)"><path d="M271 0L364 0L364 705L300 705C286 652 240 592 96 580L96 492L271 492Z" transform="translate(-14.74,0.00) scale(0.0265,-0.0265)"/></g></g>
</svg></body></html>
